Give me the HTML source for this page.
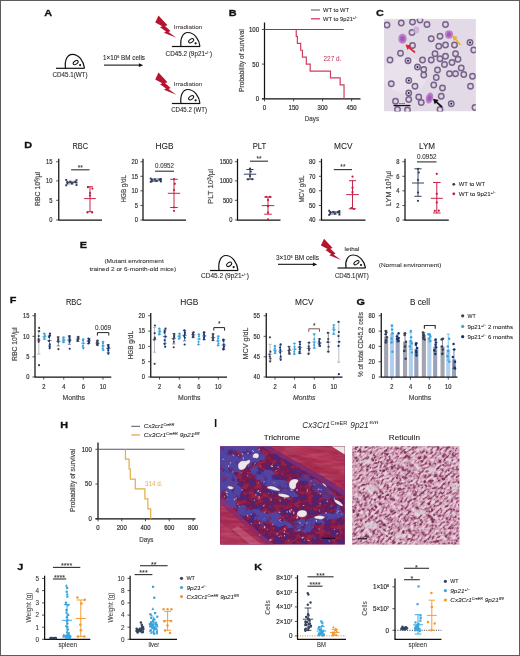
<!DOCTYPE html>
<html><head><meta charset="utf-8"><title>Figure</title>
<style>
html,body{margin:0;padding:0;background:#fff;}
body{width:520px;height:656px;overflow:hidden;position:relative;font-family:"Liberation Sans", sans-serif;}
svg{display:block;position:absolute;left:0;top:0;}
svg text{font-family:"Liberation Sans", sans-serif;}
</style></head><body>
<svg width="520" height="656" viewBox="0 0 520 656">
<rect x="0" y="0" width="520" height="656" fill="#fff"/>
<text transform="translate(44.30 15.80) scale(1.1 1)" font-size="9.9" text-anchor="start" fill="#111" font-weight="bold" font-style="normal"  stroke="#111" stroke-width="0.3">A</text>
<line x1="56.00" y1="68.30" x2="84.50" y2="68.30" stroke="#111" stroke-width="1.2" />
<path d="M65.50 68.30 C64.36 60.18 67.40 54.30 72.34 54.30 C78.80 54.30 83.74 61.30 84.50 68.30" fill="none" stroke="#111" stroke-width="1.2" />
<ellipse cx="75.67" cy="62.56" rx="2.85" ry="1.61" fill="none" stroke="#111" stroke-width="1.0" transform="rotate(-35 75.67 62.56)"/>
<circle cx="80.13" cy="65.08" r="1.1" fill="#111" />
<text transform="translate(52.50 77.00)" font-size="6.5" text-anchor="start" fill="#262626" font-weight="normal" font-style="normal"  stroke="#262626" stroke-width="0.08" textLength="35.00" lengthAdjust="spacingAndGlyphs">CD45.1(WT)</text>
<text transform="translate(103.00 60.30)" font-size="6.6" text-anchor="start" fill="#262626" font-weight="normal" font-style="normal"  stroke="#262626" stroke-width="0.08" textLength="42.00" lengthAdjust="spacingAndGlyphs">1×10<tspan dy="-2.4" font-size="4">6</tspan><tspan dy="2.4">&#8203;</tspan> BM cells</text>
<line x1="104.00" y1="65.20" x2="140.20" y2="65.20" stroke="#333" stroke-width="1.2" />
<path d="M143.20 65.20 L138.90 63.30 L138.90 67.10Z" fill="#111" stroke="none" stroke-width="1" />
<path d="M158.50 15.60 L167.50 25.25 L165.00 26.00 L170.60 31.00 L168.50 31.90 L176.25 37.75 L164.00 32.75 L166.00 31.50 L160.00 27.25 L162.25 26.25 L155.25 22.50Z" fill="#b5152f" stroke="none" stroke-width="1" />
<text transform="translate(173.80 28.80)" font-size="5.8" text-anchor="start" fill="#4a4040" font-weight="normal" font-style="normal"  stroke="#4a4040" stroke-width="0.08" textLength="28.50" lengthAdjust="spacingAndGlyphs">Irradiation</text>
<line x1="171.90" y1="46.50" x2="200.00" y2="46.50" stroke="#111" stroke-width="1.2" />
<path d="M181.00 46.50 C179.86 38.38 182.90 32.50 187.84 32.50 C194.30 32.50 199.24 39.50 200.00 46.50" fill="none" stroke="#111" stroke-width="1.2" />
<ellipse cx="191.16" cy="40.76" rx="2.85" ry="1.61" fill="none" stroke="#111" stroke-width="1.0" transform="rotate(-35 191.16 40.76)"/>
<circle cx="195.63" cy="43.28" r="1.1" fill="#111" />
<text transform="translate(165.60 55.60)" font-size="6.5" text-anchor="start" fill="#262626" font-weight="normal" font-style="normal"  stroke="#262626" stroke-width="0.08" textLength="46.50" lengthAdjust="spacingAndGlyphs">CD45.2 (9p21<tspan dy="-2" font-size="3.6">+/−</tspan><tspan dy="2">&#8203;</tspan>)</text>
<path d="M158.50 72.60 L167.50 82.25 L165.00 83.00 L170.60 88.00 L168.50 88.90 L176.25 94.75 L164.00 89.75 L166.00 88.50 L160.00 84.25 L162.25 83.25 L155.25 79.50Z" fill="#b5152f" stroke="none" stroke-width="1" />
<text transform="translate(173.80 85.80)" font-size="5.8" text-anchor="start" fill="#4a4040" font-weight="normal" font-style="normal"  stroke="#4a4040" stroke-width="0.08" textLength="28.50" lengthAdjust="spacingAndGlyphs">Irradiation</text>
<line x1="171.90" y1="103.50" x2="200.00" y2="103.50" stroke="#111" stroke-width="1.2" />
<path d="M181.00 103.50 C179.86 95.38 182.90 89.50 187.84 89.50 C194.30 89.50 199.24 96.50 200.00 103.50" fill="none" stroke="#111" stroke-width="1.2" />
<ellipse cx="191.16" cy="97.76" rx="2.85" ry="1.61" fill="none" stroke="#111" stroke-width="1.0" transform="rotate(-35 191.16 97.76)"/>
<circle cx="195.63" cy="100.28" r="1.1" fill="#111" />
<text transform="translate(171.20 112.00)" font-size="6.5" text-anchor="start" fill="#262626" font-weight="normal" font-style="normal"  stroke="#262626" stroke-width="0.08" textLength="35.70" lengthAdjust="spacingAndGlyphs">CD45.2 (WT)</text>
<text transform="translate(228.80 16.00) scale(1.1 1)" font-size="9.9" text-anchor="start" fill="#111" font-weight="bold" font-style="normal"  stroke="#111" stroke-width="0.3">B</text>
<line x1="264.50" y1="22.50" x2="264.50" y2="98.75" stroke="#111" stroke-width="1.25" />
<line x1="262.00" y1="98.75" x2="360.50" y2="98.75" stroke="#111" stroke-width="1.25" />
<line x1="261.90" y1="29.50" x2="264.50" y2="29.50" stroke="#2a2a2a" stroke-width="0.8" />
<text transform="translate(259.00 31.90) scale(0.86 1)" font-size="7" text-anchor="end" fill="#2a2a2a" font-weight="normal" font-style="normal"  stroke="#2a2a2a" stroke-width="0.2">100</text>
<line x1="261.90" y1="64.10" x2="264.50" y2="64.10" stroke="#2a2a2a" stroke-width="0.8" />
<text transform="translate(259.00 66.50) scale(0.86 1)" font-size="7" text-anchor="end" fill="#2a2a2a" font-weight="normal" font-style="normal"  stroke="#2a2a2a" stroke-width="0.2">50</text>
<line x1="261.90" y1="98.75" x2="264.50" y2="98.75" stroke="#2a2a2a" stroke-width="0.8" />
<text transform="translate(259.00 101.15) scale(0.86 1)" font-size="7" text-anchor="end" fill="#2a2a2a" font-weight="normal" font-style="normal"  stroke="#2a2a2a" stroke-width="0.2">0</text>
<line x1="264.50" y1="98.75" x2="264.50" y2="101.35" stroke="#2a2a2a" stroke-width="0.8" />
<text transform="translate(264.50 110.40) scale(0.86 1)" font-size="7" text-anchor="middle" fill="#2a2a2a" font-weight="normal" font-style="normal"  stroke="#2a2a2a" stroke-width="0.2">0</text>
<line x1="293.60" y1="98.75" x2="293.60" y2="101.35" stroke="#2a2a2a" stroke-width="0.8" />
<text transform="translate(293.60 110.40) scale(0.86 1)" font-size="7" text-anchor="middle" fill="#2a2a2a" font-weight="normal" font-style="normal"  stroke="#2a2a2a" stroke-width="0.2">150</text>
<line x1="322.60" y1="98.75" x2="322.60" y2="101.35" stroke="#2a2a2a" stroke-width="0.8" />
<text transform="translate(322.60 110.40) scale(0.86 1)" font-size="7" text-anchor="middle" fill="#2a2a2a" font-weight="normal" font-style="normal"  stroke="#2a2a2a" stroke-width="0.2">300</text>
<line x1="351.60" y1="98.75" x2="351.60" y2="101.35" stroke="#2a2a2a" stroke-width="0.8" />
<text transform="translate(351.60 110.40) scale(0.86 1)" font-size="7" text-anchor="middle" fill="#2a2a2a" font-weight="normal" font-style="normal"  stroke="#2a2a2a" stroke-width="0.2">450</text>
<text transform="translate(243.60 92.00) rotate(-90) scale(0.72 1)" font-size="8" text-anchor="start" fill="#4a4a4a" font-weight="normal" font-style="normal"  stroke="#4a4a4a" stroke-width="0.2" textLength="87.50" lengthAdjust="spacingAndGlyphs">Probability of survival</text>
<text transform="translate(304.80 120.60) scale(0.72 1)" font-size="8" text-anchor="start" fill="#4a4a4a" font-weight="normal" font-style="normal"  stroke="#4a4a4a" stroke-width="0.2" textLength="19.86" lengthAdjust="spacingAndGlyphs">Days</text>
<line x1="264.50" y1="29.50" x2="343.70" y2="29.50" stroke="#50556a" stroke-width="1.0" />
<path d="M296.23 29.50 H296.23 V36.42 H297.39 V43.35 H300.68 V50.27 H302.43 V57.20 H306.30 V64.12 H310.17 V71.05 H330.48 V77.97 H340.16 V84.90 H344.03 V98.75" fill="none" stroke="#d23c5e" stroke-width="1.2" stroke-linejoin="miter"/>
<text transform="translate(323.60 61.40)" font-size="6.8" text-anchor="start" fill="#c8405f" font-weight="normal" font-style="normal"  stroke="#c8405f" stroke-width="0.08" textLength="17.60" lengthAdjust="spacingAndGlyphs">227 d.</text>
<line x1="311.00" y1="10.00" x2="320.00" y2="10.00" stroke="#50556a" stroke-width="1.0" />
<text transform="translate(323.00 12.20)" font-size="5.8" text-anchor="start" fill="#262626" font-weight="normal" font-style="normal"  stroke="#262626" stroke-width="0.08">WT to WT</text>
<line x1="311.00" y1="18.80" x2="320.00" y2="18.80" stroke="#d23c5e" stroke-width="1.3" />
<text transform="translate(323.00 21.00)" font-size="5.8" text-anchor="start" fill="#262626" font-weight="normal" font-style="normal"  stroke="#262626" stroke-width="0.08">WT to 9p21<tspan dy="-1.8" font-size="3.4">+/−</tspan><tspan dy="1.8">&#8203;</tspan></text>
<text transform="translate(376.00 16.00) scale(1.1 1)" font-size="9.9" text-anchor="start" fill="#111" font-weight="bold" font-style="normal"  stroke="#111" stroke-width="0.3">C</text>
<clipPath id="cC"><rect x="383.9" y="18.8" width="92.0" height="92.7"/></clipPath>
<g clip-path="url(#cC)">
<rect x="383.90" y="18.80" width="92.00" height="92.70" fill="#e3dae7" />
<ellipse cx="405" cy="75" rx="22" ry="18" fill="#ece6f0" opacity="0.6"/>
<circle cx="401.25" cy="23.00" r="2.75" fill="#d9c7dc" stroke="#75648a" stroke-width="1.4"/>
<circle cx="401.25" cy="23.00" r="1.24" fill="#e4d5e5"/>
<circle cx="412.50" cy="22.00" r="2.75" fill="#d9c7dc" stroke="#75648a" stroke-width="1.4"/>
<circle cx="412.50" cy="22.00" r="1.24" fill="#e4d5e5"/>
<circle cx="427.00" cy="24.50" r="2.75" fill="#d9c7dc" stroke="#75648a" stroke-width="1.4"/>
<circle cx="427.00" cy="24.50" r="1.24" fill="#e4d5e5"/>
<circle cx="445.50" cy="24.50" r="2.75" fill="#d9c7dc" stroke="#75648a" stroke-width="1.4"/>
<circle cx="445.50" cy="24.50" r="1.24" fill="#e4d5e5"/>
<circle cx="412.00" cy="32.50" r="2.75" fill="#d9c7dc" stroke="#75648a" stroke-width="1.4"/>
<circle cx="412.00" cy="32.50" r="1.24" fill="#e4d5e5"/>
<circle cx="431.25" cy="38.75" r="2.75" fill="#d9c7dc" stroke="#75648a" stroke-width="1.4"/>
<circle cx="431.25" cy="38.75" r="1.24" fill="#e4d5e5"/>
<circle cx="440.00" cy="36.25" r="2.75" fill="#d9c7dc" stroke="#75648a" stroke-width="1.4"/>
<circle cx="440.00" cy="36.25" r="1.24" fill="#e4d5e5"/>
<circle cx="470.00" cy="42.50" r="2.75" fill="#d9c7dc" stroke="#75648a" stroke-width="1.4"/>
<circle cx="470.00" cy="42.50" r="1.24" fill="#e4d5e5"/>
<circle cx="470.00" cy="42.50" r="0.95" fill="#21143a" />
<circle cx="454.50" cy="45.00" r="2.75" fill="#d9c7dc" stroke="#75648a" stroke-width="1.4"/>
<circle cx="454.50" cy="45.00" r="1.24" fill="#e4d5e5"/>
<circle cx="445.50" cy="45.00" r="2.75" fill="#d9c7dc" stroke="#75648a" stroke-width="1.4"/>
<circle cx="445.50" cy="45.00" r="1.24" fill="#e4d5e5"/>
<circle cx="438.75" cy="46.25" r="2.75" fill="#d9c7dc" stroke="#75648a" stroke-width="1.4"/>
<circle cx="438.75" cy="46.25" r="1.24" fill="#e4d5e5"/>
<circle cx="412.50" cy="45.50" r="2.75" fill="#d9c7dc" stroke="#75648a" stroke-width="1.4"/>
<circle cx="412.50" cy="45.50" r="1.24" fill="#e4d5e5"/>
<circle cx="400.50" cy="53.25" r="2.75" fill="#d9c7dc" stroke="#75648a" stroke-width="1.4"/>
<circle cx="400.50" cy="53.25" r="1.24" fill="#e4d5e5"/>
<circle cx="408.00" cy="60.75" r="2.75" fill="#d9c7dc" stroke="#75648a" stroke-width="1.4"/>
<circle cx="408.00" cy="60.75" r="1.24" fill="#e4d5e5"/>
<circle cx="408.00" cy="60.75" r="0.95" fill="#21143a" />
<circle cx="422.50" cy="60.00" r="2.75" fill="#d9c7dc" stroke="#75648a" stroke-width="1.4"/>
<circle cx="422.50" cy="60.00" r="1.24" fill="#e4d5e5"/>
<circle cx="431.25" cy="60.00" r="2.75" fill="#d9c7dc" stroke="#75648a" stroke-width="1.4"/>
<circle cx="431.25" cy="60.00" r="1.24" fill="#e4d5e5"/>
<circle cx="435.00" cy="53.75" r="2.75" fill="#d9c7dc" stroke="#75648a" stroke-width="1.4"/>
<circle cx="435.00" cy="53.75" r="1.24" fill="#e4d5e5"/>
<circle cx="440.00" cy="58.75" r="2.75" fill="#d9c7dc" stroke="#75648a" stroke-width="1.4"/>
<circle cx="440.00" cy="58.75" r="1.24" fill="#e4d5e5"/>
<circle cx="445.50" cy="56.25" r="2.75" fill="#d9c7dc" stroke="#75648a" stroke-width="1.4"/>
<circle cx="445.50" cy="56.25" r="1.24" fill="#e4d5e5"/>
<circle cx="455.50" cy="53.75" r="2.75" fill="#d9c7dc" stroke="#75648a" stroke-width="1.4"/>
<circle cx="455.50" cy="53.75" r="1.24" fill="#e4d5e5"/>
<circle cx="458.00" cy="59.25" r="2.75" fill="#d9c7dc" stroke="#75648a" stroke-width="1.4"/>
<circle cx="458.00" cy="59.25" r="1.24" fill="#e4d5e5"/>
<circle cx="452.00" cy="62.50" r="2.75" fill="#d9c7dc" stroke="#75648a" stroke-width="1.4"/>
<circle cx="452.00" cy="62.50" r="1.24" fill="#e4d5e5"/>
<circle cx="444.50" cy="64.50" r="2.75" fill="#d9c7dc" stroke="#75648a" stroke-width="1.4"/>
<circle cx="444.50" cy="64.50" r="1.24" fill="#e4d5e5"/>
<circle cx="417.50" cy="67.00" r="2.75" fill="#d9c7dc" stroke="#75648a" stroke-width="1.4"/>
<circle cx="417.50" cy="67.00" r="1.24" fill="#e4d5e5"/>
<circle cx="417.50" cy="67.00" r="0.95" fill="#21143a" />
<circle cx="423.75" cy="69.50" r="2.75" fill="#d9c7dc" stroke="#75648a" stroke-width="1.4"/>
<circle cx="423.75" cy="69.50" r="1.24" fill="#e4d5e5"/>
<circle cx="437.50" cy="70.00" r="2.75" fill="#d9c7dc" stroke="#75648a" stroke-width="1.4"/>
<circle cx="437.50" cy="70.00" r="1.24" fill="#e4d5e5"/>
<circle cx="461.25" cy="68.00" r="2.75" fill="#d9c7dc" stroke="#75648a" stroke-width="1.4"/>
<circle cx="461.25" cy="68.00" r="1.24" fill="#e4d5e5"/>
<circle cx="423.75" cy="75.00" r="2.75" fill="#d9c7dc" stroke="#75648a" stroke-width="1.4"/>
<circle cx="423.75" cy="75.00" r="1.24" fill="#e4d5e5"/>
<circle cx="436.25" cy="77.50" r="2.75" fill="#d9c7dc" stroke="#75648a" stroke-width="1.4"/>
<circle cx="436.25" cy="77.50" r="1.24" fill="#e4d5e5"/>
<circle cx="449.50" cy="73.75" r="2.75" fill="#d9c7dc" stroke="#75648a" stroke-width="1.4"/>
<circle cx="449.50" cy="73.75" r="1.24" fill="#e4d5e5"/>
<circle cx="455.50" cy="73.75" r="2.75" fill="#d9c7dc" stroke="#75648a" stroke-width="1.4"/>
<circle cx="455.50" cy="73.75" r="1.24" fill="#e4d5e5"/>
<circle cx="463.75" cy="74.50" r="2.75" fill="#d9c7dc" stroke="#75648a" stroke-width="1.4"/>
<circle cx="463.75" cy="74.50" r="1.24" fill="#e4d5e5"/>
<circle cx="472.50" cy="76.25" r="2.75" fill="#d9c7dc" stroke="#75648a" stroke-width="1.4"/>
<circle cx="472.50" cy="76.25" r="1.24" fill="#e4d5e5"/>
<circle cx="408.75" cy="80.50" r="2.75" fill="#d9c7dc" stroke="#75648a" stroke-width="1.4"/>
<circle cx="408.75" cy="80.50" r="1.24" fill="#e4d5e5"/>
<circle cx="408.75" cy="80.50" r="0.95" fill="#21143a" />
<circle cx="415.00" cy="86.25" r="2.75" fill="#d9c7dc" stroke="#75648a" stroke-width="1.4"/>
<circle cx="415.00" cy="86.25" r="1.24" fill="#e4d5e5"/>
<circle cx="433.75" cy="85.00" r="2.75" fill="#d9c7dc" stroke="#75648a" stroke-width="1.4"/>
<circle cx="433.75" cy="85.00" r="1.24" fill="#e4d5e5"/>
<circle cx="442.50" cy="88.00" r="2.75" fill="#d9c7dc" stroke="#75648a" stroke-width="1.4"/>
<circle cx="442.50" cy="88.00" r="1.24" fill="#e4d5e5"/>
<circle cx="470.50" cy="86.25" r="2.75" fill="#d9c7dc" stroke="#75648a" stroke-width="1.4"/>
<circle cx="470.50" cy="86.25" r="1.24" fill="#e4d5e5"/>
<circle cx="408.75" cy="93.00" r="2.75" fill="#d9c7dc" stroke="#75648a" stroke-width="1.4"/>
<circle cx="408.75" cy="93.00" r="1.24" fill="#e4d5e5"/>
<circle cx="408.75" cy="93.00" r="0.95" fill="#21143a" />
<circle cx="418.75" cy="97.00" r="2.75" fill="#d9c7dc" stroke="#75648a" stroke-width="1.4"/>
<circle cx="418.75" cy="97.00" r="1.24" fill="#e4d5e5"/>
<circle cx="408.75" cy="99.50" r="2.75" fill="#d9c7dc" stroke="#75648a" stroke-width="1.4"/>
<circle cx="408.75" cy="99.50" r="1.24" fill="#e4d5e5"/>
<circle cx="395.50" cy="101.25" r="2.75" fill="#d9c7dc" stroke="#75648a" stroke-width="1.4"/>
<circle cx="395.50" cy="101.25" r="1.24" fill="#e4d5e5"/>
<circle cx="421.25" cy="102.50" r="2.75" fill="#d9c7dc" stroke="#75648a" stroke-width="1.4"/>
<circle cx="421.25" cy="102.50" r="1.24" fill="#e4d5e5"/>
<circle cx="441.25" cy="96.25" r="2.75" fill="#d9c7dc" stroke="#75648a" stroke-width="1.4"/>
<circle cx="441.25" cy="96.25" r="1.24" fill="#e4d5e5"/>
<circle cx="451.25" cy="103.75" r="2.75" fill="#d9c7dc" stroke="#75648a" stroke-width="1.4"/>
<circle cx="451.25" cy="103.75" r="1.24" fill="#e4d5e5"/>
<circle cx="451.25" cy="103.75" r="0.95" fill="#21143a" />
<circle cx="473.75" cy="50.00" r="2.75" fill="#d9c7dc" stroke="#75648a" stroke-width="1.4"/>
<circle cx="473.75" cy="50.00" r="1.24" fill="#e4d5e5"/>
<circle cx="391.25" cy="83.75" r="2.75" fill="#d9c7dc" stroke="#75648a" stroke-width="1.4"/>
<circle cx="391.25" cy="83.75" r="1.24" fill="#e4d5e5"/>
<circle cx="475.00" cy="107.50" r="2.75" fill="#d9c7dc" stroke="#75648a" stroke-width="1.4"/>
<circle cx="475.00" cy="107.50" r="1.24" fill="#e4d5e5"/>
<circle cx="390.00" cy="60.00" r="2.75" fill="#d9c7dc" stroke="#75648a" stroke-width="1.4"/>
<circle cx="390.00" cy="60.00" r="1.24" fill="#e4d5e5"/>
<circle cx="387.00" cy="25.00" r="2.75" fill="#d9c7dc" stroke="#75648a" stroke-width="1.4"/>
<circle cx="387.00" cy="25.00" r="1.24" fill="#e4d5e5"/>
<circle cx="397.50" cy="109.50" r="2.75" fill="#d9c7dc" stroke="#75648a" stroke-width="1.4"/>
<circle cx="397.50" cy="109.50" r="1.24" fill="#e4d5e5"/>
<circle cx="407.50" cy="110.00" r="2.75" fill="#d9c7dc" stroke="#75648a" stroke-width="1.4"/>
<circle cx="407.50" cy="110.00" r="1.24" fill="#e4d5e5"/>
<circle cx="440.00" cy="109.50" r="2.75" fill="#d9c7dc" stroke="#75648a" stroke-width="1.4"/>
<circle cx="440.00" cy="109.50" r="1.24" fill="#e4d5e5"/>
<circle cx="420.00" cy="20.00" r="2.75" fill="#d9c7dc" stroke="#75648a" stroke-width="1.4"/>
<circle cx="420.00" cy="20.00" r="1.24" fill="#e4d5e5"/>
<ellipse cx="402.50" cy="38.75" rx="4.2" ry="5" fill="#b87cc6" opacity="0.95" transform="rotate(0 402.50 38.75)"/>
<ellipse cx="402.50" cy="38.75" rx="2.31" ry="2.75" fill="#a054b6" opacity="0.9" transform="rotate(0 402.50 38.75)"/>
<ellipse cx="449.00" cy="34.50" rx="4" ry="4.2" fill="#b87cc6" opacity="0.95" transform="rotate(0 449.00 34.50)"/>
<ellipse cx="449.00" cy="34.50" rx="2.20" ry="2.31" fill="#a054b6" opacity="0.9" transform="rotate(0 449.00 34.50)"/>
<ellipse cx="429.50" cy="98.00" rx="3.6" ry="5.6" fill="#b87cc6" opacity="0.95" transform="rotate(15 429.50 98.00)"/>
<ellipse cx="429.50" cy="98.00" rx="1.98" ry="3.08" fill="#a054b6" opacity="0.9" transform="rotate(15 429.50 98.00)"/>
<ellipse cx="416.25" cy="30.0" rx="3" ry="3.4" fill="#c9a6da" opacity="0.8"/>
<line x1="408.94" y1="47.40" x2="415.00" y2="52.50" stroke="#e8222a" stroke-width="1.7" />
<path d="M405.50 44.50 L407.46 49.94 L411.19 45.50Z" fill="#e8222a" stroke="none" stroke-width="1" />
<line x1="455.35" y1="38.73" x2="460.50" y2="45.00" stroke="#f6ad2b" stroke-width="1.7" />
<path d="M452.50 35.25 L453.43 40.95 L457.91 37.28Z" fill="#f6ad2b" stroke="none" stroke-width="1" />
<line x1="436.32" y1="101.79" x2="442.00" y2="107.00" stroke="#111" stroke-width="1.7" />
<path d="M433.00 98.75 L434.73 104.27 L438.65 99.99Z" fill="#111" stroke="none" stroke-width="1" />
<rect x="393.50" y="104.90" width="17.00" height="1.30" fill="#111" />
<text transform="translate(402.00 103.50)" font-size="2.2" text-anchor="middle" fill="#333" font-weight="normal" font-style="normal"  stroke="#333" stroke-width="0.08">10 µm</text>
</g>
<text transform="translate(24.30 148.20) scale(1.1 1)" font-size="9.9" text-anchor="start" fill="#111" font-weight="bold" font-style="normal"  stroke="#111" stroke-width="0.3">D</text>
<line x1="58.75" y1="158.75" x2="58.75" y2="220.00" stroke="#111" stroke-width="1.25" />
<line x1="58.25" y1="220.00" x2="102.00" y2="220.00" stroke="#111" stroke-width="1.25" />
<line x1="56.15" y1="161.75" x2="58.75" y2="161.75" stroke="#2a2a2a" stroke-width="0.8" />
<text transform="translate(52.50 164.05) scale(0.86 1)" font-size="6.7" text-anchor="end" fill="#333" font-weight="normal" font-style="normal"  stroke="#333" stroke-width="0.2">15</text>
<line x1="56.15" y1="180.90" x2="58.75" y2="180.90" stroke="#2a2a2a" stroke-width="0.8" />
<text transform="translate(52.50 183.20) scale(0.86 1)" font-size="6.7" text-anchor="end" fill="#333" font-weight="normal" font-style="normal"  stroke="#333" stroke-width="0.2">10</text>
<line x1="56.15" y1="200.30" x2="58.75" y2="200.30" stroke="#2a2a2a" stroke-width="0.8" />
<text transform="translate(52.50 202.60) scale(0.86 1)" font-size="6.7" text-anchor="end" fill="#333" font-weight="normal" font-style="normal"  stroke="#333" stroke-width="0.2">5</text>
<line x1="56.15" y1="220.00" x2="58.75" y2="220.00" stroke="#2a2a2a" stroke-width="0.8" />
<text transform="translate(52.50 222.30) scale(0.86 1)" font-size="6.7" text-anchor="end" fill="#333" font-weight="normal" font-style="normal"  stroke="#333" stroke-width="0.2">0</text>
<text transform="translate(80.20 148.70)" font-size="8.8" text-anchor="middle" fill="#262626" font-weight="normal" font-style="normal"  stroke="#262626" stroke-width="0.08" textLength="15.50" lengthAdjust="spacingAndGlyphs">RBC</text>
<text transform="translate(40.00 206.00) rotate(-90) scale(0.74 1)" font-size="7.4" text-anchor="start" fill="#4a4a4a" font-weight="normal" font-style="normal"  stroke="#4a4a4a" stroke-width="0.2" textLength="45.95" lengthAdjust="spacingAndGlyphs">RBC 10<tspan dy="-2" font-size="4.5">6</tspan><tspan dy="2">&#8203;</tspan>/µl</text>
<line x1="71.10" y1="169.80" x2="89.50" y2="169.80" stroke="#3a3a3a" stroke-width="1.15" />
<text transform="translate(80.30 170.20)" font-size="6.5" text-anchor="middle" fill="#333" font-weight="normal" font-style="normal"  stroke="#333" stroke-width="0.08">**</text>
<line x1="66.20" y1="182.60" x2="76.50" y2="182.60" stroke="#2e3a56" stroke-width="0.9" />
<line x1="66.20" y1="179.60" x2="66.20" y2="185.60" stroke="#2e3a56" stroke-width="0.0" />
<rect x="65.25" y="178.95" width="1.90" height="1.90" fill="#2e3a56" />
<rect x="65.25" y="184.35" width="1.90" height="1.90" fill="#2e3a56" />
<rect x="66.45" y="180.85" width="1.90" height="1.90" fill="#2e3a56" />
<rect x="66.45" y="182.65" width="1.90" height="1.90" fill="#2e3a56" />
<rect x="69.40" y="180.75" width="1.90" height="1.90" fill="#2e3a56" />
<rect x="71.00" y="182.55" width="1.90" height="1.90" fill="#2e3a56" />
<rect x="74.15" y="180.75" width="1.90" height="1.90" fill="#2e3a56" />
<rect x="75.55" y="179.25" width="1.90" height="1.90" fill="#2e3a56" />
<rect x="75.55" y="184.05" width="1.90" height="1.90" fill="#2e3a56" />
<rect x="75.55" y="181.65" width="1.90" height="1.90" fill="#2e3a56" />
<line x1="68.75" y1="181.30" x2="73.95" y2="181.30" stroke="#2e3a56" stroke-width="0.6" />
<line x1="68.75" y1="183.90" x2="73.95" y2="183.90" stroke="#2e3a56" stroke-width="0.6" />
<line x1="90.00" y1="186.70" x2="90.00" y2="211.70" stroke="#c5193f" stroke-width="0.95" />
<line x1="84.20" y1="198.60" x2="95.80" y2="198.60" stroke="#c5193f" stroke-width="0.95" />
<line x1="87.10" y1="186.70" x2="92.90" y2="186.70" stroke="#c5193f" stroke-width="0.95" />
<line x1="87.10" y1="211.70" x2="92.90" y2="211.70" stroke="#c5193f" stroke-width="0.95" />
<circle cx="87.90" cy="187.20" r="1.12" fill="#c5193f" />
<circle cx="92.40" cy="188.60" r="1.12" fill="#c5193f" />
<circle cx="90.00" cy="193.00" r="1.12" fill="#c5193f" />
<circle cx="90.00" cy="195.70" r="1.12" fill="#c5193f" />
<circle cx="87.40" cy="212.40" r="1.12" fill="#c5193f" />
<circle cx="92.10" cy="212.40" r="1.12" fill="#c5193f" />
<line x1="143.00" y1="158.75" x2="143.00" y2="220.00" stroke="#111" stroke-width="1.25" />
<line x1="142.50" y1="220.00" x2="186.00" y2="220.00" stroke="#111" stroke-width="1.25" />
<line x1="140.40" y1="161.75" x2="143.00" y2="161.75" stroke="#2a2a2a" stroke-width="0.8" />
<text transform="translate(138.00 164.05) scale(0.86 1)" font-size="6.7" text-anchor="end" fill="#333" font-weight="normal" font-style="normal"  stroke="#333" stroke-width="0.2">20</text>
<line x1="140.40" y1="176.30" x2="143.00" y2="176.30" stroke="#2a2a2a" stroke-width="0.8" />
<text transform="translate(138.00 178.60) scale(0.86 1)" font-size="6.7" text-anchor="end" fill="#333" font-weight="normal" font-style="normal"  stroke="#333" stroke-width="0.2">15</text>
<line x1="140.40" y1="190.80" x2="143.00" y2="190.80" stroke="#2a2a2a" stroke-width="0.8" />
<text transform="translate(138.00 193.10) scale(0.86 1)" font-size="6.7" text-anchor="end" fill="#333" font-weight="normal" font-style="normal"  stroke="#333" stroke-width="0.2">10</text>
<line x1="140.40" y1="205.50" x2="143.00" y2="205.50" stroke="#2a2a2a" stroke-width="0.8" />
<text transform="translate(138.00 207.80) scale(0.86 1)" font-size="6.7" text-anchor="end" fill="#333" font-weight="normal" font-style="normal"  stroke="#333" stroke-width="0.2">5</text>
<line x1="140.40" y1="220.00" x2="143.00" y2="220.00" stroke="#2a2a2a" stroke-width="0.8" />
<text transform="translate(138.00 222.30) scale(0.86 1)" font-size="6.7" text-anchor="end" fill="#333" font-weight="normal" font-style="normal"  stroke="#333" stroke-width="0.2">0</text>
<text transform="translate(164.60 148.70)" font-size="8.8" text-anchor="middle" fill="#262626" font-weight="normal" font-style="normal"  stroke="#262626" stroke-width="0.08" textLength="18.00" lengthAdjust="spacingAndGlyphs">HGB</text>
<text transform="translate(125.50 202.50) rotate(-90) scale(0.74 1)" font-size="7.4" text-anchor="start" fill="#4a4a4a" font-weight="normal" font-style="normal"  stroke="#4a4a4a" stroke-width="0.2" textLength="37.16" lengthAdjust="spacingAndGlyphs">HGB g/dL</text>
<line x1="155.00" y1="171.20" x2="174.00" y2="171.20" stroke="#3a3a3a" stroke-width="1.15" />
<text transform="translate(164.50 168.20)" font-size="6.6" text-anchor="middle" fill="#333" font-weight="normal" font-style="normal"  stroke="#333" stroke-width="0.08" textLength="19.00" lengthAdjust="spacingAndGlyphs">0.0952</text>
<line x1="150.70" y1="180.20" x2="160.80" y2="180.20" stroke="#2e3a56" stroke-width="0.9" />
<line x1="150.70" y1="178.30" x2="150.70" y2="182.10" stroke="#2e3a56" stroke-width="0.0" />
<rect x="149.75" y="177.65" width="1.90" height="1.90" fill="#2e3a56" />
<rect x="149.75" y="180.85" width="1.90" height="1.90" fill="#2e3a56" />
<rect x="150.95" y="178.45" width="1.90" height="1.90" fill="#2e3a56" />
<rect x="150.95" y="180.25" width="1.90" height="1.90" fill="#2e3a56" />
<rect x="153.80" y="178.35" width="1.90" height="1.90" fill="#2e3a56" />
<rect x="155.40" y="180.15" width="1.90" height="1.90" fill="#2e3a56" />
<rect x="158.45" y="178.35" width="1.90" height="1.90" fill="#2e3a56" />
<rect x="159.85" y="177.95" width="1.90" height="1.90" fill="#2e3a56" />
<rect x="159.85" y="180.55" width="1.90" height="1.90" fill="#2e3a56" />
<rect x="159.85" y="179.25" width="1.90" height="1.90" fill="#2e3a56" />
<line x1="153.15" y1="178.90" x2="158.35" y2="178.90" stroke="#2e3a56" stroke-width="0.6" />
<line x1="153.15" y1="181.50" x2="158.35" y2="181.50" stroke="#2e3a56" stroke-width="0.6" />
<line x1="174.00" y1="179.30" x2="174.00" y2="207.50" stroke="#c5193f" stroke-width="0.95" />
<line x1="167.80" y1="193.30" x2="180.20" y2="193.30" stroke="#c5193f" stroke-width="0.95" />
<line x1="170.20" y1="179.30" x2="177.80" y2="179.30" stroke="#c5193f" stroke-width="0.95" />
<line x1="170.20" y1="207.50" x2="177.80" y2="207.50" stroke="#c5193f" stroke-width="0.95" />
<circle cx="174.00" cy="179.20" r="1.12" fill="#c5193f" />
<circle cx="174.80" cy="183.80" r="1.12" fill="#c5193f" />
<circle cx="174.00" cy="190.00" r="1.12" fill="#c5193f" />
<circle cx="174.00" cy="207.50" r="1.12" fill="#c5193f" />
<circle cx="174.00" cy="210.80" r="1.12" fill="#c5193f" />
<line x1="237.50" y1="158.75" x2="237.50" y2="220.00" stroke="#111" stroke-width="1.25" />
<line x1="237.00" y1="220.00" x2="280.50" y2="220.00" stroke="#111" stroke-width="1.25" />
<line x1="234.90" y1="161.75" x2="237.50" y2="161.75" stroke="#2a2a2a" stroke-width="0.8" />
<text transform="translate(232.50 164.05) scale(0.86 1)" font-size="6.7" text-anchor="end" fill="#333" font-weight="normal" font-style="normal"  stroke="#333" stroke-width="0.2">1500</text>
<line x1="234.90" y1="180.90" x2="237.50" y2="180.90" stroke="#2a2a2a" stroke-width="0.8" />
<text transform="translate(232.50 183.20) scale(0.86 1)" font-size="6.7" text-anchor="end" fill="#333" font-weight="normal" font-style="normal"  stroke="#333" stroke-width="0.2">1000</text>
<line x1="234.90" y1="200.30" x2="237.50" y2="200.30" stroke="#2a2a2a" stroke-width="0.8" />
<text transform="translate(232.50 202.60) scale(0.86 1)" font-size="6.7" text-anchor="end" fill="#333" font-weight="normal" font-style="normal"  stroke="#333" stroke-width="0.2">500</text>
<line x1="234.90" y1="220.00" x2="237.50" y2="220.00" stroke="#2a2a2a" stroke-width="0.8" />
<text transform="translate(232.50 222.30) scale(0.86 1)" font-size="6.7" text-anchor="end" fill="#333" font-weight="normal" font-style="normal"  stroke="#333" stroke-width="0.2">0</text>
<text transform="translate(259.50 148.70)" font-size="8.8" text-anchor="middle" fill="#262626" font-weight="normal" font-style="normal"  stroke="#262626" stroke-width="0.08" textLength="13.50" lengthAdjust="spacingAndGlyphs">PLT</text>
<text transform="translate(212.50 204.00) rotate(-90) scale(0.74 1)" font-size="7.4" text-anchor="start" fill="#4a4a4a" font-weight="normal" font-style="normal"  stroke="#4a4a4a" stroke-width="0.2" textLength="47.30" lengthAdjust="spacingAndGlyphs">PLT 10<tspan dy="-2" font-size="4.5">3</tspan><tspan dy="2">&#8203;</tspan>/µl</text>
<line x1="250.00" y1="161.20" x2="268.00" y2="161.20" stroke="#3a3a3a" stroke-width="1.15" />
<text transform="translate(259.00 161.00)" font-size="6.5" text-anchor="middle" fill="#333" font-weight="normal" font-style="normal"  stroke="#333" stroke-width="0.08">**</text>
<line x1="250.00" y1="169.50" x2="250.00" y2="179.20" stroke="#2e3a56" stroke-width="0.95" />
<line x1="243.80" y1="174.20" x2="256.20" y2="174.20" stroke="#2e3a56" stroke-width="0.95" />
<line x1="246.40" y1="169.50" x2="253.60" y2="169.50" stroke="#2e3a56" stroke-width="0.95" />
<line x1="246.40" y1="179.20" x2="253.60" y2="179.20" stroke="#2e3a56" stroke-width="0.95" />
<circle cx="250.00" cy="168.50" r="1.12" fill="#2e3a56" />
<circle cx="250.80" cy="171.50" r="1.12" fill="#2e3a56" />
<circle cx="250.00" cy="176.00" r="1.12" fill="#2e3a56" />
<circle cx="248.00" cy="179.30" r="1.12" fill="#2e3a56" />
<circle cx="252.30" cy="179.20" r="1.12" fill="#2e3a56" />
<line x1="268.00" y1="197.00" x2="268.00" y2="214.20" stroke="#c5193f" stroke-width="0.95" />
<line x1="261.70" y1="205.60" x2="274.30" y2="205.60" stroke="#c5193f" stroke-width="0.95" />
<line x1="264.20" y1="197.00" x2="271.80" y2="197.00" stroke="#c5193f" stroke-width="0.95" />
<line x1="264.20" y1="214.20" x2="271.80" y2="214.20" stroke="#c5193f" stroke-width="0.95" />
<circle cx="266.20" cy="196.80" r="1.12" fill="#c5193f" />
<circle cx="270.00" cy="196.90" r="1.12" fill="#c5193f" />
<circle cx="268.00" cy="200.00" r="1.12" fill="#c5193f" />
<circle cx="268.00" cy="206.20" r="1.12" fill="#c5193f" />
<circle cx="268.00" cy="212.50" r="1.12" fill="#c5193f" />
<circle cx="268.00" cy="219.30" r="1.12" fill="#c5193f" />
<line x1="321.50" y1="158.75" x2="321.50" y2="220.00" stroke="#111" stroke-width="1.25" />
<line x1="321.00" y1="220.00" x2="365.50" y2="220.00" stroke="#111" stroke-width="1.25" />
<line x1="318.90" y1="161.75" x2="321.50" y2="161.75" stroke="#2a2a2a" stroke-width="0.8" />
<text transform="translate(315.50 164.05) scale(0.86 1)" font-size="6.7" text-anchor="end" fill="#333" font-weight="normal" font-style="normal"  stroke="#333" stroke-width="0.2">80</text>
<line x1="318.90" y1="176.30" x2="321.50" y2="176.30" stroke="#2a2a2a" stroke-width="0.8" />
<text transform="translate(315.50 178.60) scale(0.86 1)" font-size="6.7" text-anchor="end" fill="#333" font-weight="normal" font-style="normal"  stroke="#333" stroke-width="0.2">70</text>
<line x1="318.90" y1="190.80" x2="321.50" y2="190.80" stroke="#2a2a2a" stroke-width="0.8" />
<text transform="translate(315.50 193.10) scale(0.86 1)" font-size="6.7" text-anchor="end" fill="#333" font-weight="normal" font-style="normal"  stroke="#333" stroke-width="0.2">60</text>
<line x1="318.90" y1="205.50" x2="321.50" y2="205.50" stroke="#2a2a2a" stroke-width="0.8" />
<text transform="translate(315.50 207.80) scale(0.86 1)" font-size="6.7" text-anchor="end" fill="#333" font-weight="normal" font-style="normal"  stroke="#333" stroke-width="0.2">50</text>
<line x1="318.90" y1="220.00" x2="321.50" y2="220.00" stroke="#2a2a2a" stroke-width="0.8" />
<text transform="translate(315.50 222.30) scale(0.86 1)" font-size="6.7" text-anchor="end" fill="#333" font-weight="normal" font-style="normal"  stroke="#333" stroke-width="0.2">40</text>
<text transform="translate(343.30 148.70)" font-size="8.8" text-anchor="middle" fill="#262626" font-weight="normal" font-style="normal"  stroke="#262626" stroke-width="0.08" textLength="18.50" lengthAdjust="spacingAndGlyphs">MCV</text>
<text transform="translate(303.50 202.50) rotate(-90) scale(0.74 1)" font-size="7.4" text-anchor="start" fill="#4a4a4a" font-weight="normal" font-style="normal"  stroke="#4a4a4a" stroke-width="0.2" textLength="36.49" lengthAdjust="spacingAndGlyphs">MCV g/dL</text>
<line x1="333.75" y1="169.60" x2="352.00" y2="169.60" stroke="#3a3a3a" stroke-width="1.15" />
<text transform="translate(342.88 169.40)" font-size="6.5" text-anchor="middle" fill="#333" font-weight="normal" font-style="normal"  stroke="#333" stroke-width="0.08">**</text>
<line x1="329.20" y1="212.80" x2="339.40" y2="212.80" stroke="#2e3a56" stroke-width="0.9" />
<line x1="329.20" y1="210.40" x2="329.20" y2="215.20" stroke="#2e3a56" stroke-width="0.0" />
<rect x="328.25" y="209.75" width="1.90" height="1.90" fill="#2e3a56" />
<rect x="328.25" y="213.95" width="1.90" height="1.90" fill="#2e3a56" />
<rect x="329.45" y="211.05" width="1.90" height="1.90" fill="#2e3a56" />
<rect x="329.45" y="212.85" width="1.90" height="1.90" fill="#2e3a56" />
<rect x="332.35" y="210.95" width="1.90" height="1.90" fill="#2e3a56" />
<rect x="333.95" y="212.75" width="1.90" height="1.90" fill="#2e3a56" />
<rect x="337.05" y="210.95" width="1.90" height="1.90" fill="#2e3a56" />
<rect x="338.45" y="210.05" width="1.90" height="1.90" fill="#2e3a56" />
<rect x="338.45" y="213.65" width="1.90" height="1.90" fill="#2e3a56" />
<rect x="338.45" y="211.85" width="1.90" height="1.90" fill="#2e3a56" />
<line x1="331.70" y1="211.50" x2="336.90" y2="211.50" stroke="#2e3a56" stroke-width="0.6" />
<line x1="331.70" y1="214.10" x2="336.90" y2="214.10" stroke="#2e3a56" stroke-width="0.6" />
<line x1="352.50" y1="180.70" x2="352.50" y2="208.80" stroke="#c5193f" stroke-width="0.95" />
<line x1="346.20" y1="194.60" x2="358.80" y2="194.60" stroke="#c5193f" stroke-width="0.95" />
<line x1="348.90" y1="180.70" x2="356.10" y2="180.70" stroke="#c5193f" stroke-width="0.95" />
<line x1="348.90" y1="208.80" x2="356.10" y2="208.80" stroke="#c5193f" stroke-width="0.95" />
<circle cx="352.50" cy="176.60" r="1.12" fill="#c5193f" />
<circle cx="352.50" cy="187.70" r="1.12" fill="#c5193f" />
<circle cx="352.50" cy="192.20" r="1.12" fill="#c5193f" />
<circle cx="351.30" cy="208.00" r="1.12" fill="#c5193f" />
<circle cx="353.80" cy="209.00" r="1.12" fill="#c5193f" />
<line x1="405.00" y1="158.75" x2="405.00" y2="220.00" stroke="#111" stroke-width="1.25" />
<line x1="404.50" y1="220.00" x2="448.80" y2="220.00" stroke="#111" stroke-width="1.25" />
<line x1="402.40" y1="161.75" x2="405.00" y2="161.75" stroke="#2a2a2a" stroke-width="0.8" />
<text transform="translate(399.50 164.05) scale(0.86 1)" font-size="6.7" text-anchor="end" fill="#333" font-weight="normal" font-style="normal"  stroke="#333" stroke-width="0.2">8</text>
<line x1="402.40" y1="176.30" x2="405.00" y2="176.30" stroke="#2a2a2a" stroke-width="0.8" />
<text transform="translate(399.50 178.60) scale(0.86 1)" font-size="6.7" text-anchor="end" fill="#333" font-weight="normal" font-style="normal"  stroke="#333" stroke-width="0.2">6</text>
<line x1="402.40" y1="190.80" x2="405.00" y2="190.80" stroke="#2a2a2a" stroke-width="0.8" />
<text transform="translate(399.50 193.10) scale(0.86 1)" font-size="6.7" text-anchor="end" fill="#333" font-weight="normal" font-style="normal"  stroke="#333" stroke-width="0.2">4</text>
<line x1="402.40" y1="205.50" x2="405.00" y2="205.50" stroke="#2a2a2a" stroke-width="0.8" />
<text transform="translate(399.50 207.80) scale(0.86 1)" font-size="6.7" text-anchor="end" fill="#333" font-weight="normal" font-style="normal"  stroke="#333" stroke-width="0.2">2</text>
<line x1="402.40" y1="220.00" x2="405.00" y2="220.00" stroke="#2a2a2a" stroke-width="0.8" />
<text transform="translate(399.50 222.30) scale(0.86 1)" font-size="6.7" text-anchor="end" fill="#333" font-weight="normal" font-style="normal"  stroke="#333" stroke-width="0.2">0</text>
<text transform="translate(427.00 148.70)" font-size="8.8" text-anchor="middle" fill="#262626" font-weight="normal" font-style="normal"  stroke="#262626" stroke-width="0.08" textLength="16.00" lengthAdjust="spacingAndGlyphs">LYM</text>
<text transform="translate(390.50 206.00) rotate(-90) scale(0.74 1)" font-size="7.4" text-anchor="start" fill="#4a4a4a" font-weight="normal" font-style="normal"  stroke="#4a4a4a" stroke-width="0.2" textLength="47.30" lengthAdjust="spacingAndGlyphs">LYM 10<tspan dy="-2" font-size="4.5">3</tspan><tspan dy="2">&#8203;</tspan>/µl</text>
<line x1="417.00" y1="161.90" x2="436.50" y2="161.90" stroke="#3a3a3a" stroke-width="1.15" />
<text transform="translate(426.75 159.10)" font-size="6.6" text-anchor="middle" fill="#333" font-weight="normal" font-style="normal"  stroke="#333" stroke-width="0.08" textLength="19.50" lengthAdjust="spacingAndGlyphs">0.0952</text>
<line x1="418.00" y1="168.80" x2="418.00" y2="196.30" stroke="#2e3a56" stroke-width="0.95" />
<line x1="412.00" y1="183.00" x2="424.00" y2="183.00" stroke="#2e3a56" stroke-width="0.95" />
<line x1="414.40" y1="168.80" x2="421.60" y2="168.80" stroke="#2e3a56" stroke-width="0.95" />
<line x1="414.40" y1="196.30" x2="421.60" y2="196.30" stroke="#2e3a56" stroke-width="0.95" />
<circle cx="418.00" cy="168.80" r="1.12" fill="#2e3a56" />
<circle cx="418.80" cy="172.50" r="1.12" fill="#2e3a56" />
<circle cx="418.00" cy="180.00" r="1.12" fill="#2e3a56" />
<circle cx="418.00" cy="192.50" r="1.12" fill="#2e3a56" />
<circle cx="418.00" cy="200.80" r="1.12" fill="#2e3a56" />
<line x1="436.80" y1="182.50" x2="436.80" y2="213.00" stroke="#c5193f" stroke-width="0.95" />
<line x1="430.80" y1="198.30" x2="442.80" y2="198.30" stroke="#c5193f" stroke-width="0.95" />
<line x1="433.00" y1="182.50" x2="440.60" y2="182.50" stroke="#c5193f" stroke-width="0.95" />
<line x1="433.00" y1="213.00" x2="440.60" y2="213.00" stroke="#c5193f" stroke-width="0.95" />
<circle cx="436.80" cy="173.80" r="1.12" fill="#c5193f" />
<circle cx="436.80" cy="193.80" r="1.12" fill="#c5193f" />
<circle cx="436.80" cy="202.50" r="1.12" fill="#c5193f" />
<circle cx="434.80" cy="210.80" r="1.12" fill="#c5193f" />
<circle cx="438.80" cy="210.70" r="1.12" fill="#c5193f" />
<circle cx="453.80" cy="184.30" r="1.4" fill="#2e3a56" />
<text transform="translate(458.80 186.40)" font-size="5.8" text-anchor="start" fill="#262626" font-weight="normal" font-style="normal"  stroke="#262626" stroke-width="0.08" textLength="26.20" lengthAdjust="spacingAndGlyphs">WT to WT</text>
<circle cx="453.80" cy="193.80" r="1.4" fill="#c5193f" />
<text transform="translate(458.80 195.90)" font-size="5.8" text-anchor="start" fill="#262626" font-weight="normal" font-style="normal"  stroke="#262626" stroke-width="0.08" textLength="37.20" lengthAdjust="spacingAndGlyphs">WT to 9p21<tspan dy="-1.8" font-size="3.4">+/−</tspan><tspan dy="1.8">&#8203;</tspan></text>
<text transform="translate(79.80 247.60) scale(1.1 1)" font-size="9.9" text-anchor="start" fill="#111" font-weight="bold" font-style="normal"  stroke="#111" stroke-width="0.3">E</text>
<text transform="translate(134.10 263.00)" font-size="5.7" text-anchor="middle" fill="#333" font-weight="normal" font-style="normal"  stroke="#333" stroke-width="0.08" textLength="59.30" lengthAdjust="spacingAndGlyphs">(Mutant environment</text>
<text transform="translate(132.80 271.00)" font-size="5.7" text-anchor="middle" fill="#333" font-weight="normal" font-style="normal"  stroke="#333" stroke-width="0.08" textLength="86.50" lengthAdjust="spacingAndGlyphs">trained 2 or 6-month-old mice)</text>
<line x1="210.00" y1="270.50" x2="238.00" y2="270.50" stroke="#111" stroke-width="1.2" />
<path d="M219.00 270.50 C217.86 261.80 220.90 255.50 225.84 255.50 C232.30 255.50 237.24 263.00 238.00 270.50" fill="none" stroke="#111" stroke-width="1.2" />
<ellipse cx="229.16" cy="264.35" rx="2.85" ry="1.73" fill="none" stroke="#111" stroke-width="1.0" transform="rotate(-35 229.16 264.35)"/>
<circle cx="233.63" cy="267.05" r="1.1" fill="#111" />
<text transform="translate(201.00 278.00)" font-size="6.5" text-anchor="start" fill="#262626" font-weight="normal" font-style="normal"  stroke="#262626" stroke-width="0.08" textLength="48.00" lengthAdjust="spacingAndGlyphs">CD45.2 (9p21<tspan dy="-2" font-size="3.6">+/−</tspan><tspan dy="2">&#8203;</tspan>)</text>
<text transform="translate(276.00 260.30)" font-size="6.6" text-anchor="start" fill="#262626" font-weight="normal" font-style="normal"  stroke="#262626" stroke-width="0.08" textLength="43.00" lengthAdjust="spacingAndGlyphs">3×10<tspan dy="-2.4" font-size="4">6</tspan><tspan dy="2.4">&#8203;</tspan> BM cells</text>
<line x1="278.00" y1="264.40" x2="314.20" y2="264.40" stroke="#333" stroke-width="1.2" />
<path d="M317.20 264.40 L312.90 262.50 L312.90 266.30Z" fill="#111" stroke="none" stroke-width="1" />
<path d="M324.00 238.80 L332.62 248.04 L330.23 248.75 L335.59 253.54 L333.58 254.40 L341.00 260.00 L329.27 255.21 L331.18 254.02 L325.44 249.95 L327.59 248.99 L320.89 245.40Z" fill="#b5152f" stroke="none" stroke-width="1" />
<text transform="translate(344.50 251.00)" font-size="5.8" text-anchor="start" fill="#333" font-weight="normal" font-style="normal"  stroke="#333" stroke-width="0.08" textLength="15.00" lengthAdjust="spacingAndGlyphs">lethal</text>
<line x1="337.50" y1="268.00" x2="365.50" y2="268.00" stroke="#111" stroke-width="1.2" />
<path d="M346.00 268.00 C344.83 260.46 347.95 255.00 353.02 255.00 C359.65 255.00 364.72 261.50 365.50 268.00" fill="none" stroke="#111" stroke-width="1.2" />
<ellipse cx="356.43" cy="262.67" rx="2.92" ry="1.50" fill="none" stroke="#111" stroke-width="1.0" transform="rotate(-35 356.43 262.67)"/>
<circle cx="361.01" cy="265.01" r="1.1" fill="#111" />
<text transform="translate(335.00 277.90)" font-size="6.5" text-anchor="start" fill="#262626" font-weight="normal" font-style="normal"  stroke="#262626" stroke-width="0.08" textLength="33.80" lengthAdjust="spacingAndGlyphs">CD45.1(WT)</text>
<text transform="translate(378.80 267.00)" font-size="5.7" text-anchor="start" fill="#333" font-weight="normal" font-style="normal"  stroke="#333" stroke-width="0.08" textLength="62.50" lengthAdjust="spacingAndGlyphs">(Normal environment)</text>
<text transform="translate(9.80 303.20) scale(1.1 1)" font-size="9.9" text-anchor="start" fill="#111" font-weight="bold" font-style="normal"  stroke="#111" stroke-width="0.3">F</text>
<line x1="35.00" y1="313.00" x2="35.00" y2="377.00" stroke="#111" stroke-width="1.25" />
<line x1="34.50" y1="377.00" x2="111.30" y2="377.00" stroke="#111" stroke-width="1.25" />
<line x1="32.40" y1="315.75" x2="35.00" y2="315.75" stroke="#2a2a2a" stroke-width="0.8" />
<text transform="translate(29.50 318.05) scale(0.86 1)" font-size="6.7" text-anchor="end" fill="#333" font-weight="normal" font-style="normal"  stroke="#333" stroke-width="0.2">15</text>
<line x1="32.40" y1="336.30" x2="35.00" y2="336.30" stroke="#2a2a2a" stroke-width="0.8" />
<text transform="translate(29.50 338.60) scale(0.86 1)" font-size="6.7" text-anchor="end" fill="#333" font-weight="normal" font-style="normal"  stroke="#333" stroke-width="0.2">10</text>
<line x1="32.40" y1="356.80" x2="35.00" y2="356.80" stroke="#2a2a2a" stroke-width="0.8" />
<text transform="translate(29.50 359.10) scale(0.86 1)" font-size="6.7" text-anchor="end" fill="#333" font-weight="normal" font-style="normal"  stroke="#333" stroke-width="0.2">5</text>
<line x1="32.40" y1="377.00" x2="35.00" y2="377.00" stroke="#2a2a2a" stroke-width="0.8" />
<text transform="translate(29.50 379.30) scale(0.86 1)" font-size="6.7" text-anchor="end" fill="#333" font-weight="normal" font-style="normal"  stroke="#333" stroke-width="0.2">0</text>
<text transform="translate(73.80 304.80)" font-size="8.8" text-anchor="middle" fill="#262626" font-weight="normal" font-style="normal"  stroke="#262626" stroke-width="0.08" textLength="15.80" lengthAdjust="spacingAndGlyphs">RBC</text>
<text transform="translate(17.00 361.00) rotate(-90) scale(0.74 1)" font-size="7.4" text-anchor="start" fill="#4a4a4a" font-weight="normal" font-style="normal"  stroke="#4a4a4a" stroke-width="0.2" textLength="45.27" lengthAdjust="spacingAndGlyphs">RBC 10<tspan dy="-2" font-size="4.5">6</tspan><tspan dy="2">&#8203;</tspan>/µl</text>
<line x1="43.75" y1="377.00" x2="43.75" y2="379.60" stroke="#2a2a2a" stroke-width="0.8" />
<text transform="translate(43.75 388.60) scale(0.86 1)" font-size="6.7" text-anchor="middle" fill="#333" font-weight="normal" font-style="normal"  stroke="#333" stroke-width="0.2">2</text>
<line x1="63.75" y1="377.00" x2="63.75" y2="379.60" stroke="#2a2a2a" stroke-width="0.8" />
<text transform="translate(63.75 388.60) scale(0.86 1)" font-size="6.7" text-anchor="middle" fill="#333" font-weight="normal" font-style="normal"  stroke="#333" stroke-width="0.2">4</text>
<line x1="83.30" y1="377.00" x2="83.30" y2="379.60" stroke="#2a2a2a" stroke-width="0.8" />
<text transform="translate(83.30 388.60) scale(0.86 1)" font-size="6.7" text-anchor="middle" fill="#333" font-weight="normal" font-style="normal"  stroke="#333" stroke-width="0.2">6</text>
<line x1="103.00" y1="377.00" x2="103.00" y2="379.60" stroke="#2a2a2a" stroke-width="0.8" />
<text transform="translate(103.00 388.60) scale(0.86 1)" font-size="6.7" text-anchor="middle" fill="#333" font-weight="normal" font-style="normal"  stroke="#333" stroke-width="0.2">10</text>
<text transform="translate(73.80 400.20) scale(0.72 1)" font-size="8" text-anchor="middle" fill="#4a4a4a" font-weight="normal" font-style="normal"  stroke="#4a4a4a" stroke-width="0.2" textLength="31.25" lengthAdjust="spacingAndGlyphs">Months</text>
<line x1="38.80" y1="331.19" x2="38.80" y2="354.10" stroke="#8a8f9c" stroke-width="0.6" />
<line x1="37.20" y1="331.19" x2="40.40" y2="331.19" stroke="#8a8f9c" stroke-width="0.6" />
<line x1="37.20" y1="354.10" x2="40.40" y2="354.10" stroke="#8a8f9c" stroke-width="0.6" />
<line x1="36.60" y1="340.19" x2="41.00" y2="340.19" stroke="#8a8f9c" stroke-width="0.6" />
<circle cx="39.14" cy="327.92" r="1.08" fill="#3a3f55" />
<circle cx="39.06" cy="331.19" r="1.08" fill="#3a3f55" />
<circle cx="38.72" cy="336.10" r="1.08" fill="#3a3f55" />
<circle cx="38.56" cy="338.96" r="1.08" fill="#3a3f55" />
<circle cx="38.81" cy="340.19" r="1.08" fill="#3a3f55" />
<circle cx="38.70" cy="341.83" r="1.08" fill="#3a3f55" />
<circle cx="39.08" cy="365.14" r="1.08" fill="#3a3f55" />
<line x1="44.50" y1="333.65" x2="44.50" y2="339.37" stroke="#3aa5dd" stroke-width="0.6" />
<line x1="42.90" y1="333.65" x2="46.10" y2="333.65" stroke="#3aa5dd" stroke-width="0.6" />
<line x1="42.90" y1="339.37" x2="46.10" y2="339.37" stroke="#3aa5dd" stroke-width="0.6" />
<line x1="42.30" y1="336.51" x2="46.70" y2="336.51" stroke="#3aa5dd" stroke-width="0.6" />
<circle cx="44.13" cy="333.65" r="1.08" fill="#3aa5dd" />
<circle cx="44.85" cy="335.28" r="1.08" fill="#3aa5dd" />
<circle cx="44.76" cy="336.51" r="1.08" fill="#3aa5dd" />
<circle cx="44.26" cy="337.74" r="1.08" fill="#3aa5dd" />
<circle cx="44.50" cy="338.96" r="1.08" fill="#3aa5dd" />
<line x1="49.50" y1="335.28" x2="49.50" y2="345.92" stroke="#15346f" stroke-width="0.6" />
<line x1="47.90" y1="335.28" x2="51.10" y2="335.28" stroke="#15346f" stroke-width="0.6" />
<line x1="47.90" y1="345.92" x2="51.10" y2="345.92" stroke="#15346f" stroke-width="0.6" />
<line x1="47.30" y1="340.60" x2="51.70" y2="340.60" stroke="#15346f" stroke-width="0.6" />
<circle cx="49.96" cy="333.65" r="1.08" fill="#15346f" />
<circle cx="49.95" cy="335.69" r="1.08" fill="#15346f" />
<circle cx="49.06" cy="336.92" r="1.08" fill="#15346f" />
<circle cx="49.08" cy="341.01" r="1.08" fill="#15346f" />
<circle cx="49.84" cy="344.28" r="1.08" fill="#15346f" />
<circle cx="49.74" cy="346.73" r="1.08" fill="#15346f" />
<circle cx="49.67" cy="348.37" r="1.08" fill="#15346f" />
<line x1="58.30" y1="336.92" x2="58.30" y2="345.92" stroke="#3a3f55" stroke-width="0.6" />
<line x1="56.70" y1="336.92" x2="59.90" y2="336.92" stroke="#3a3f55" stroke-width="0.6" />
<line x1="56.70" y1="345.92" x2="59.90" y2="345.92" stroke="#3a3f55" stroke-width="0.6" />
<line x1="56.10" y1="341.42" x2="60.50" y2="341.42" stroke="#3a3f55" stroke-width="0.6" />
<circle cx="58.04" cy="337.33" r="1.08" fill="#3a3f55" />
<circle cx="58.34" cy="338.96" r="1.08" fill="#3a3f55" />
<circle cx="58.17" cy="340.19" r="1.08" fill="#3a3f55" />
<circle cx="58.40" cy="341.83" r="1.08" fill="#3a3f55" />
<circle cx="58.43" cy="349.19" r="1.08" fill="#3a3f55" />
<line x1="63.80" y1="337.33" x2="63.80" y2="342.64" stroke="#3aa5dd" stroke-width="0.6" />
<line x1="62.20" y1="337.33" x2="65.40" y2="337.33" stroke="#3aa5dd" stroke-width="0.6" />
<line x1="62.20" y1="342.64" x2="65.40" y2="342.64" stroke="#3aa5dd" stroke-width="0.6" />
<line x1="61.60" y1="340.19" x2="66.00" y2="340.19" stroke="#3aa5dd" stroke-width="0.6" />
<circle cx="63.54" cy="337.33" r="1.08" fill="#3aa5dd" />
<circle cx="63.40" cy="338.96" r="1.08" fill="#3aa5dd" />
<circle cx="63.70" cy="340.19" r="1.08" fill="#3aa5dd" />
<circle cx="63.45" cy="341.42" r="1.08" fill="#3aa5dd" />
<circle cx="63.37" cy="342.24" r="1.08" fill="#3aa5dd" />
<line x1="69.30" y1="336.10" x2="69.30" y2="344.28" stroke="#15346f" stroke-width="0.6" />
<line x1="67.70" y1="336.10" x2="70.90" y2="336.10" stroke="#15346f" stroke-width="0.6" />
<line x1="67.70" y1="344.28" x2="70.90" y2="344.28" stroke="#15346f" stroke-width="0.6" />
<line x1="67.10" y1="340.19" x2="71.50" y2="340.19" stroke="#15346f" stroke-width="0.6" />
<circle cx="69.42" cy="336.10" r="1.08" fill="#15346f" />
<circle cx="69.54" cy="337.33" r="1.08" fill="#15346f" />
<circle cx="69.60" cy="338.96" r="1.08" fill="#15346f" />
<circle cx="69.74" cy="340.19" r="1.08" fill="#15346f" />
<circle cx="69.54" cy="341.83" r="1.08" fill="#15346f" />
<circle cx="69.72" cy="348.78" r="1.08" fill="#15346f" />
<line x1="78.00" y1="336.92" x2="78.00" y2="341.42" stroke="#3a3f55" stroke-width="0.6" />
<line x1="76.40" y1="336.92" x2="79.60" y2="336.92" stroke="#3a3f55" stroke-width="0.6" />
<line x1="76.40" y1="341.42" x2="79.60" y2="341.42" stroke="#3a3f55" stroke-width="0.6" />
<line x1="75.80" y1="338.96" x2="80.20" y2="338.96" stroke="#3a3f55" stroke-width="0.6" />
<circle cx="78.29" cy="336.92" r="1.08" fill="#3a3f55" />
<circle cx="78.32" cy="338.14" r="1.08" fill="#3a3f55" />
<circle cx="77.99" cy="339.37" r="1.08" fill="#3a3f55" />
<circle cx="77.76" cy="340.19" r="1.08" fill="#3a3f55" />
<circle cx="77.50" cy="341.01" r="1.08" fill="#3a3f55" />
<line x1="83.30" y1="339.37" x2="83.30" y2="347.55" stroke="#3aa5dd" stroke-width="0.6" />
<line x1="81.70" y1="339.37" x2="84.90" y2="339.37" stroke="#3aa5dd" stroke-width="0.6" />
<line x1="81.70" y1="347.55" x2="84.90" y2="347.55" stroke="#3aa5dd" stroke-width="0.6" />
<line x1="81.10" y1="343.46" x2="85.50" y2="343.46" stroke="#3aa5dd" stroke-width="0.6" />
<circle cx="83.12" cy="339.37" r="1.08" fill="#3aa5dd" />
<circle cx="82.95" cy="340.60" r="1.08" fill="#3aa5dd" />
<circle cx="83.45" cy="343.05" r="1.08" fill="#3aa5dd" />
<circle cx="82.87" cy="345.92" r="1.08" fill="#3aa5dd" />
<circle cx="83.34" cy="348.37" r="1.08" fill="#3aa5dd" />
<line x1="88.80" y1="338.55" x2="88.80" y2="343.46" stroke="#15346f" stroke-width="0.6" />
<line x1="87.20" y1="338.55" x2="90.40" y2="338.55" stroke="#15346f" stroke-width="0.6" />
<line x1="87.20" y1="343.46" x2="90.40" y2="343.46" stroke="#15346f" stroke-width="0.6" />
<line x1="86.60" y1="341.01" x2="91.00" y2="341.01" stroke="#15346f" stroke-width="0.6" />
<circle cx="88.53" cy="338.55" r="1.08" fill="#15346f" />
<circle cx="89.26" cy="339.78" r="1.08" fill="#15346f" />
<circle cx="88.43" cy="341.01" r="1.08" fill="#15346f" />
<circle cx="89.00" cy="342.24" r="1.08" fill="#15346f" />
<circle cx="88.39" cy="343.46" r="1.08" fill="#15346f" />
<line x1="97.50" y1="340.60" x2="97.50" y2="345.10" stroke="#3a3f55" stroke-width="0.6" />
<line x1="95.90" y1="340.60" x2="99.10" y2="340.60" stroke="#3a3f55" stroke-width="0.6" />
<line x1="95.90" y1="345.10" x2="99.10" y2="345.10" stroke="#3a3f55" stroke-width="0.6" />
<line x1="95.30" y1="343.05" x2="99.70" y2="343.05" stroke="#3a3f55" stroke-width="0.6" />
<circle cx="97.46" cy="340.60" r="1.08" fill="#3a3f55" />
<circle cx="97.37" cy="341.83" r="1.08" fill="#3a3f55" />
<circle cx="97.14" cy="342.64" r="1.08" fill="#3a3f55" />
<circle cx="97.87" cy="343.46" r="1.08" fill="#3a3f55" />
<circle cx="97.01" cy="344.28" r="1.08" fill="#3a3f55" />
<circle cx="97.50" cy="345.10" r="1.08" fill="#3a3f55" />
<line x1="103.00" y1="341.83" x2="103.00" y2="350.01" stroke="#3aa5dd" stroke-width="0.6" />
<line x1="101.40" y1="341.83" x2="104.60" y2="341.83" stroke="#3aa5dd" stroke-width="0.6" />
<line x1="101.40" y1="350.01" x2="104.60" y2="350.01" stroke="#3aa5dd" stroke-width="0.6" />
<line x1="100.80" y1="345.92" x2="105.20" y2="345.92" stroke="#3aa5dd" stroke-width="0.6" />
<circle cx="103.07" cy="341.83" r="1.08" fill="#3aa5dd" />
<circle cx="102.93" cy="343.46" r="1.08" fill="#3aa5dd" />
<circle cx="103.08" cy="345.92" r="1.08" fill="#3aa5dd" />
<circle cx="102.71" cy="348.37" r="1.08" fill="#3aa5dd" />
<circle cx="103.31" cy="350.01" r="1.08" fill="#3aa5dd" />
<line x1="108.30" y1="344.69" x2="108.30" y2="352.46" stroke="#15346f" stroke-width="0.6" />
<line x1="106.70" y1="344.69" x2="109.90" y2="344.69" stroke="#15346f" stroke-width="0.6" />
<line x1="106.70" y1="352.46" x2="109.90" y2="352.46" stroke="#15346f" stroke-width="0.6" />
<line x1="106.10" y1="348.37" x2="110.50" y2="348.37" stroke="#15346f" stroke-width="0.6" />
<circle cx="108.25" cy="345.10" r="1.08" fill="#15346f" />
<circle cx="108.36" cy="346.32" r="1.08" fill="#15346f" />
<circle cx="108.72" cy="347.55" r="1.08" fill="#15346f" />
<circle cx="108.27" cy="348.78" r="1.08" fill="#15346f" />
<circle cx="108.31" cy="350.42" r="1.08" fill="#15346f" />
<circle cx="108.39" cy="353.69" r="1.08" fill="#15346f" />
<path d="M97.40 335.60 V332.60 H108.80 V335.60" fill="none" stroke="#1a1a1a" stroke-width="0.95" />
<text transform="translate(103.10 329.50)" font-size="6.8" text-anchor="middle" fill="#333" font-weight="normal" font-style="normal"  stroke="#333" stroke-width="0.08" textLength="16.00" lengthAdjust="spacingAndGlyphs">0.069</text>
<line x1="150.75" y1="313.00" x2="150.75" y2="377.00" stroke="#111" stroke-width="1.25" />
<line x1="150.25" y1="377.00" x2="227.00" y2="377.00" stroke="#111" stroke-width="1.25" />
<line x1="148.15" y1="315.75" x2="150.75" y2="315.75" stroke="#2a2a2a" stroke-width="0.8" />
<text transform="translate(145.00 318.05) scale(0.86 1)" font-size="6.7" text-anchor="end" fill="#333" font-weight="normal" font-style="normal"  stroke="#333" stroke-width="0.2">20</text>
<line x1="148.15" y1="331.10" x2="150.75" y2="331.10" stroke="#2a2a2a" stroke-width="0.8" />
<text transform="translate(145.00 333.40) scale(0.86 1)" font-size="6.7" text-anchor="end" fill="#333" font-weight="normal" font-style="normal"  stroke="#333" stroke-width="0.2">15</text>
<line x1="148.15" y1="346.40" x2="150.75" y2="346.40" stroke="#2a2a2a" stroke-width="0.8" />
<text transform="translate(145.00 348.70) scale(0.86 1)" font-size="6.7" text-anchor="end" fill="#333" font-weight="normal" font-style="normal"  stroke="#333" stroke-width="0.2">10</text>
<line x1="148.15" y1="361.70" x2="150.75" y2="361.70" stroke="#2a2a2a" stroke-width="0.8" />
<text transform="translate(145.00 364.00) scale(0.86 1)" font-size="6.7" text-anchor="end" fill="#333" font-weight="normal" font-style="normal"  stroke="#333" stroke-width="0.2">5</text>
<line x1="148.15" y1="377.00" x2="150.75" y2="377.00" stroke="#2a2a2a" stroke-width="0.8" />
<text transform="translate(145.00 379.30) scale(0.86 1)" font-size="6.7" text-anchor="end" fill="#333" font-weight="normal" font-style="normal"  stroke="#333" stroke-width="0.2">0</text>
<text transform="translate(189.30 304.80)" font-size="8.8" text-anchor="middle" fill="#262626" font-weight="normal" font-style="normal"  stroke="#262626" stroke-width="0.08" textLength="18.20" lengthAdjust="spacingAndGlyphs">HGB</text>
<text transform="translate(132.50 359.50) rotate(-90) scale(0.74 1)" font-size="7.4" text-anchor="start" fill="#4a4a4a" font-weight="normal" font-style="normal"  stroke="#4a4a4a" stroke-width="0.2" textLength="38.51" lengthAdjust="spacingAndGlyphs">HGB g/dL</text>
<line x1="159.50" y1="377.00" x2="159.50" y2="379.60" stroke="#2a2a2a" stroke-width="0.8" />
<text transform="translate(159.50 388.60) scale(0.86 1)" font-size="6.7" text-anchor="middle" fill="#333" font-weight="normal" font-style="normal"  stroke="#333" stroke-width="0.2">2</text>
<line x1="179.30" y1="377.00" x2="179.30" y2="379.60" stroke="#2a2a2a" stroke-width="0.8" />
<text transform="translate(179.30 388.60) scale(0.86 1)" font-size="6.7" text-anchor="middle" fill="#333" font-weight="normal" font-style="normal"  stroke="#333" stroke-width="0.2">4</text>
<line x1="198.80" y1="377.00" x2="198.80" y2="379.60" stroke="#2a2a2a" stroke-width="0.8" />
<text transform="translate(198.80 388.60) scale(0.86 1)" font-size="6.7" text-anchor="middle" fill="#333" font-weight="normal" font-style="normal"  stroke="#333" stroke-width="0.2">6</text>
<line x1="218.30" y1="377.00" x2="218.30" y2="379.60" stroke="#2a2a2a" stroke-width="0.8" />
<text transform="translate(218.30 388.60) scale(0.86 1)" font-size="6.7" text-anchor="middle" fill="#333" font-weight="normal" font-style="normal"  stroke="#333" stroke-width="0.2">10</text>
<text transform="translate(189.30 400.20) scale(0.72 1)" font-size="8" text-anchor="middle" fill="#4a4a4a" font-weight="normal" font-style="normal"  stroke="#4a4a4a" stroke-width="0.2" textLength="31.25" lengthAdjust="spacingAndGlyphs">Months</text>
<line x1="154.50" y1="327.38" x2="154.50" y2="352.19" stroke="#8a8f9c" stroke-width="0.6" />
<line x1="152.90" y1="327.38" x2="156.10" y2="327.38" stroke="#8a8f9c" stroke-width="0.6" />
<line x1="152.90" y1="352.19" x2="156.10" y2="352.19" stroke="#8a8f9c" stroke-width="0.6" />
<line x1="152.30" y1="339.63" x2="156.70" y2="339.63" stroke="#8a8f9c" stroke-width="0.6" />
<circle cx="154.91" cy="325.54" r="1.08" fill="#3a3f55" />
<circle cx="154.69" cy="333.20" r="1.08" fill="#3a3f55" />
<circle cx="154.77" cy="337.49" r="1.08" fill="#3a3f55" />
<circle cx="154.90" cy="338.71" r="1.08" fill="#3a3f55" />
<circle cx="154.26" cy="339.63" r="1.08" fill="#3a3f55" />
<circle cx="154.64" cy="363.83" r="1.08" fill="#3a3f55" />
<line x1="159.50" y1="328.60" x2="159.50" y2="334.42" stroke="#3aa5dd" stroke-width="0.6" />
<line x1="157.90" y1="328.60" x2="161.10" y2="328.60" stroke="#3aa5dd" stroke-width="0.6" />
<line x1="157.90" y1="334.42" x2="161.10" y2="334.42" stroke="#3aa5dd" stroke-width="0.6" />
<line x1="157.30" y1="331.67" x2="161.70" y2="331.67" stroke="#3aa5dd" stroke-width="0.6" />
<circle cx="159.16" cy="328.60" r="1.08" fill="#3aa5dd" />
<circle cx="159.69" cy="330.44" r="1.08" fill="#3aa5dd" />
<circle cx="159.63" cy="331.97" r="1.08" fill="#3aa5dd" />
<circle cx="159.48" cy="333.51" r="1.08" fill="#3aa5dd" />
<circle cx="159.22" cy="334.42" r="1.08" fill="#3aa5dd" />
<line x1="165.00" y1="329.83" x2="165.00" y2="343.31" stroke="#15346f" stroke-width="0.6" />
<line x1="163.40" y1="329.83" x2="166.60" y2="329.83" stroke="#15346f" stroke-width="0.6" />
<line x1="163.40" y1="343.31" x2="166.60" y2="343.31" stroke="#15346f" stroke-width="0.6" />
<line x1="162.80" y1="336.57" x2="167.20" y2="336.57" stroke="#15346f" stroke-width="0.6" />
<circle cx="165.46" cy="328.60" r="1.08" fill="#15346f" />
<circle cx="164.64" cy="331.06" r="1.08" fill="#15346f" />
<circle cx="164.52" cy="332.59" r="1.08" fill="#15346f" />
<circle cx="165.50" cy="336.57" r="1.08" fill="#15346f" />
<circle cx="164.68" cy="340.24" r="1.08" fill="#15346f" />
<circle cx="164.62" cy="343.92" r="1.08" fill="#15346f" />
<circle cx="165.15" cy="346.68" r="1.08" fill="#15346f" />
<line x1="173.80" y1="333.51" x2="173.80" y2="343.92" stroke="#3a3f55" stroke-width="0.6" />
<line x1="172.20" y1="333.51" x2="175.40" y2="333.51" stroke="#3a3f55" stroke-width="0.6" />
<line x1="172.20" y1="343.92" x2="175.40" y2="343.92" stroke="#3a3f55" stroke-width="0.6" />
<line x1="171.60" y1="338.71" x2="176.00" y2="338.71" stroke="#3a3f55" stroke-width="0.6" />
<circle cx="174.22" cy="334.12" r="1.08" fill="#3a3f55" />
<circle cx="174.25" cy="335.65" r="1.08" fill="#3a3f55" />
<circle cx="174.19" cy="337.18" r="1.08" fill="#3a3f55" />
<circle cx="173.38" cy="338.71" r="1.08" fill="#3a3f55" />
<circle cx="173.89" cy="341.78" r="1.08" fill="#3a3f55" />
<circle cx="173.72" cy="347.29" r="1.08" fill="#3a3f55" />
<line x1="179.30" y1="333.51" x2="179.30" y2="338.71" stroke="#3aa5dd" stroke-width="0.6" />
<line x1="177.70" y1="333.51" x2="180.90" y2="333.51" stroke="#3aa5dd" stroke-width="0.6" />
<line x1="177.70" y1="338.71" x2="180.90" y2="338.71" stroke="#3aa5dd" stroke-width="0.6" />
<line x1="177.10" y1="336.26" x2="181.50" y2="336.26" stroke="#3aa5dd" stroke-width="0.6" />
<circle cx="179.51" cy="333.51" r="1.08" fill="#3aa5dd" />
<circle cx="179.64" cy="335.04" r="1.08" fill="#3aa5dd" />
<circle cx="178.98" cy="336.26" r="1.08" fill="#3aa5dd" />
<circle cx="179.80" cy="337.49" r="1.08" fill="#3aa5dd" />
<circle cx="178.99" cy="338.71" r="1.08" fill="#3aa5dd" />
<line x1="184.50" y1="330.44" x2="184.50" y2="340.86" stroke="#15346f" stroke-width="0.6" />
<line x1="182.90" y1="330.44" x2="186.10" y2="330.44" stroke="#15346f" stroke-width="0.6" />
<line x1="182.90" y1="340.86" x2="186.10" y2="340.86" stroke="#15346f" stroke-width="0.6" />
<line x1="182.30" y1="335.34" x2="186.70" y2="335.34" stroke="#15346f" stroke-width="0.6" />
<circle cx="184.38" cy="330.44" r="1.08" fill="#15346f" />
<circle cx="184.93" cy="332.28" r="1.08" fill="#15346f" />
<circle cx="184.84" cy="334.12" r="1.08" fill="#15346f" />
<circle cx="184.21" cy="335.96" r="1.08" fill="#15346f" />
<circle cx="184.87" cy="337.79" r="1.08" fill="#15346f" />
<circle cx="184.64" cy="344.53" r="1.08" fill="#15346f" />
<line x1="193.30" y1="332.28" x2="193.30" y2="337.49" stroke="#3a3f55" stroke-width="0.6" />
<line x1="191.70" y1="332.28" x2="194.90" y2="332.28" stroke="#3a3f55" stroke-width="0.6" />
<line x1="191.70" y1="337.49" x2="194.90" y2="337.49" stroke="#3a3f55" stroke-width="0.6" />
<line x1="191.10" y1="334.73" x2="195.50" y2="334.73" stroke="#3a3f55" stroke-width="0.6" />
<circle cx="193.55" cy="332.28" r="1.08" fill="#3a3f55" />
<circle cx="193.00" cy="333.51" r="1.08" fill="#3a3f55" />
<circle cx="193.01" cy="334.73" r="1.08" fill="#3a3f55" />
<circle cx="193.40" cy="335.96" r="1.08" fill="#3a3f55" />
<circle cx="192.86" cy="337.18" r="1.08" fill="#3a3f55" />
<line x1="198.80" y1="334.42" x2="198.80" y2="344.53" stroke="#3aa5dd" stroke-width="0.6" />
<line x1="197.20" y1="334.42" x2="200.40" y2="334.42" stroke="#3aa5dd" stroke-width="0.6" />
<line x1="197.20" y1="344.53" x2="200.40" y2="344.53" stroke="#3aa5dd" stroke-width="0.6" />
<line x1="196.60" y1="339.02" x2="201.00" y2="339.02" stroke="#3aa5dd" stroke-width="0.6" />
<circle cx="198.95" cy="334.42" r="1.08" fill="#3aa5dd" />
<circle cx="199.00" cy="336.26" r="1.08" fill="#3aa5dd" />
<circle cx="199.26" cy="339.02" r="1.08" fill="#3aa5dd" />
<circle cx="198.50" cy="341.78" r="1.08" fill="#3aa5dd" />
<circle cx="198.37" cy="344.53" r="1.08" fill="#3aa5dd" />
<line x1="204.30" y1="332.28" x2="204.30" y2="339.63" stroke="#15346f" stroke-width="0.6" />
<line x1="202.70" y1="332.28" x2="205.90" y2="332.28" stroke="#15346f" stroke-width="0.6" />
<line x1="202.70" y1="339.63" x2="205.90" y2="339.63" stroke="#15346f" stroke-width="0.6" />
<line x1="202.10" y1="335.96" x2="206.50" y2="335.96" stroke="#15346f" stroke-width="0.6" />
<circle cx="203.91" cy="332.28" r="1.08" fill="#15346f" />
<circle cx="203.93" cy="334.12" r="1.08" fill="#15346f" />
<circle cx="204.40" cy="335.96" r="1.08" fill="#15346f" />
<circle cx="203.98" cy="337.79" r="1.08" fill="#15346f" />
<circle cx="203.93" cy="339.33" r="1.08" fill="#15346f" />
<line x1="213.00" y1="334.12" x2="213.00" y2="340.55" stroke="#3a3f55" stroke-width="0.6" />
<line x1="211.40" y1="334.12" x2="214.60" y2="334.12" stroke="#3a3f55" stroke-width="0.6" />
<line x1="211.40" y1="340.55" x2="214.60" y2="340.55" stroke="#3a3f55" stroke-width="0.6" />
<line x1="210.80" y1="337.49" x2="215.20" y2="337.49" stroke="#3a3f55" stroke-width="0.6" />
<circle cx="213.05" cy="334.12" r="1.08" fill="#3a3f55" />
<circle cx="212.85" cy="335.96" r="1.08" fill="#3a3f55" />
<circle cx="213.34" cy="337.79" r="1.08" fill="#3a3f55" />
<circle cx="212.79" cy="339.02" r="1.08" fill="#3a3f55" />
<circle cx="213.01" cy="340.24" r="1.08" fill="#3a3f55" />
<line x1="218.30" y1="336.26" x2="218.30" y2="345.45" stroke="#3aa5dd" stroke-width="0.6" />
<line x1="216.70" y1="336.26" x2="219.90" y2="336.26" stroke="#3aa5dd" stroke-width="0.6" />
<line x1="216.70" y1="345.45" x2="219.90" y2="345.45" stroke="#3aa5dd" stroke-width="0.6" />
<line x1="216.10" y1="340.86" x2="220.50" y2="340.86" stroke="#3aa5dd" stroke-width="0.6" />
<circle cx="218.34" cy="336.26" r="1.08" fill="#3aa5dd" />
<circle cx="218.09" cy="338.41" r="1.08" fill="#3aa5dd" />
<circle cx="217.83" cy="341.16" r="1.08" fill="#3aa5dd" />
<circle cx="218.45" cy="343.61" r="1.08" fill="#3aa5dd" />
<circle cx="218.01" cy="345.45" r="1.08" fill="#3aa5dd" />
<line x1="223.80" y1="339.63" x2="223.80" y2="349.43" stroke="#15346f" stroke-width="0.6" />
<line x1="222.20" y1="339.63" x2="225.40" y2="339.63" stroke="#15346f" stroke-width="0.6" />
<line x1="222.20" y1="349.43" x2="225.40" y2="349.43" stroke="#15346f" stroke-width="0.6" />
<line x1="221.60" y1="345.14" x2="226.00" y2="345.14" stroke="#15346f" stroke-width="0.6" />
<circle cx="223.31" cy="339.63" r="1.08" fill="#15346f" />
<circle cx="223.41" cy="340.86" r="1.08" fill="#15346f" />
<circle cx="223.69" cy="344.53" r="1.08" fill="#15346f" />
<circle cx="223.98" cy="346.68" r="1.08" fill="#15346f" />
<circle cx="223.44" cy="348.21" r="1.08" fill="#15346f" />
<circle cx="223.41" cy="349.43" r="1.08" fill="#15346f" />
<path d="M213.80 330.60 V327.60 H224.60 V330.60" fill="none" stroke="#1a1a1a" stroke-width="0.95" />
<text transform="translate(219.20 326.40)" font-size="6.5" text-anchor="middle" fill="#333" font-weight="normal" font-style="normal"  stroke="#333" stroke-width="0.08">*</text>
<line x1="266.25" y1="313.00" x2="266.25" y2="377.00" stroke="#111" stroke-width="1.25" />
<line x1="265.75" y1="377.00" x2="342.50" y2="377.00" stroke="#111" stroke-width="1.25" />
<line x1="263.65" y1="315.75" x2="266.25" y2="315.75" stroke="#2a2a2a" stroke-width="0.8" />
<text transform="translate(260.00 318.05) scale(0.86 1)" font-size="6.7" text-anchor="end" fill="#333" font-weight="normal" font-style="normal"  stroke="#333" stroke-width="0.2">55</text>
<line x1="263.65" y1="336.30" x2="266.25" y2="336.30" stroke="#2a2a2a" stroke-width="0.8" />
<text transform="translate(260.00 338.60) scale(0.86 1)" font-size="6.7" text-anchor="end" fill="#333" font-weight="normal" font-style="normal"  stroke="#333" stroke-width="0.2">50</text>
<line x1="263.65" y1="356.80" x2="266.25" y2="356.80" stroke="#2a2a2a" stroke-width="0.8" />
<text transform="translate(260.00 359.10) scale(0.86 1)" font-size="6.7" text-anchor="end" fill="#333" font-weight="normal" font-style="normal"  stroke="#333" stroke-width="0.2">45</text>
<line x1="263.65" y1="377.00" x2="266.25" y2="377.00" stroke="#2a2a2a" stroke-width="0.8" />
<text transform="translate(260.00 379.30) scale(0.86 1)" font-size="6.7" text-anchor="end" fill="#333" font-weight="normal" font-style="normal"  stroke="#333" stroke-width="0.2">40</text>
<text transform="translate(304.30 304.80)" font-size="8.8" text-anchor="middle" fill="#262626" font-weight="normal" font-style="normal"  stroke="#262626" stroke-width="0.08" textLength="18.50" lengthAdjust="spacingAndGlyphs">MCV</text>
<text transform="translate(248.00 359.50) rotate(-90) scale(0.74 1)" font-size="7.4" text-anchor="start" fill="#4a4a4a" font-weight="normal" font-style="normal"  stroke="#4a4a4a" stroke-width="0.2" textLength="43.24" lengthAdjust="spacingAndGlyphs">MCV g/dL</text>
<line x1="275.00" y1="377.00" x2="275.00" y2="379.60" stroke="#2a2a2a" stroke-width="0.8" />
<text transform="translate(275.00 388.60) scale(0.86 1)" font-size="6.7" text-anchor="middle" fill="#333" font-weight="normal" font-style="normal"  stroke="#333" stroke-width="0.2">2</text>
<line x1="294.50" y1="377.00" x2="294.50" y2="379.60" stroke="#2a2a2a" stroke-width="0.8" />
<text transform="translate(294.50 388.60) scale(0.86 1)" font-size="6.7" text-anchor="middle" fill="#333" font-weight="normal" font-style="normal"  stroke="#333" stroke-width="0.2">4</text>
<line x1="314.30" y1="377.00" x2="314.30" y2="379.60" stroke="#2a2a2a" stroke-width="0.8" />
<text transform="translate(314.30 388.60) scale(0.86 1)" font-size="6.7" text-anchor="middle" fill="#333" font-weight="normal" font-style="normal"  stroke="#333" stroke-width="0.2">6</text>
<line x1="333.80" y1="377.00" x2="333.80" y2="379.60" stroke="#2a2a2a" stroke-width="0.8" />
<text transform="translate(333.80 388.60) scale(0.86 1)" font-size="6.7" text-anchor="middle" fill="#333" font-weight="normal" font-style="normal"  stroke="#333" stroke-width="0.2">10</text>
<text transform="translate(304.30 400.20) scale(0.72 1)" font-size="8" text-anchor="middle" fill="#4a4a4a" font-weight="normal" font-style="italic"  stroke="#4a4a4a" stroke-width="0.2" textLength="31.25" lengthAdjust="spacingAndGlyphs">Months</text>
<line x1="270.00" y1="344.28" x2="270.00" y2="360.64" stroke="#8a8f9c" stroke-width="0.6" />
<line x1="268.40" y1="344.28" x2="271.60" y2="344.28" stroke="#8a8f9c" stroke-width="0.6" />
<line x1="268.40" y1="360.64" x2="271.60" y2="360.64" stroke="#8a8f9c" stroke-width="0.6" />
<line x1="267.80" y1="354.10" x2="272.20" y2="354.10" stroke="#8a8f9c" stroke-width="0.6" />
<circle cx="269.96" cy="337.33" r="1.08" fill="#3a3f55" />
<circle cx="270.38" cy="351.64" r="1.08" fill="#3a3f55" />
<circle cx="269.53" cy="354.50" r="1.08" fill="#3a3f55" />
<circle cx="269.78" cy="356.55" r="1.08" fill="#3a3f55" />
<circle cx="270.46" cy="358.60" r="1.08" fill="#3a3f55" />
<circle cx="270.16" cy="361.46" r="1.08" fill="#3a3f55" />
<line x1="275.00" y1="345.92" x2="275.00" y2="353.28" stroke="#3aa5dd" stroke-width="0.6" />
<line x1="273.40" y1="345.92" x2="276.60" y2="345.92" stroke="#3aa5dd" stroke-width="0.6" />
<line x1="273.40" y1="353.28" x2="276.60" y2="353.28" stroke="#3aa5dd" stroke-width="0.6" />
<line x1="272.80" y1="350.01" x2="277.20" y2="350.01" stroke="#3aa5dd" stroke-width="0.6" />
<circle cx="274.88" cy="345.92" r="1.08" fill="#3aa5dd" />
<circle cx="274.73" cy="348.37" r="1.08" fill="#3aa5dd" />
<circle cx="274.67" cy="350.42" r="1.08" fill="#3aa5dd" />
<circle cx="275.41" cy="351.64" r="1.08" fill="#3aa5dd" />
<circle cx="275.08" cy="353.28" r="1.08" fill="#3aa5dd" />
<line x1="280.50" y1="345.10" x2="280.50" y2="358.19" stroke="#15346f" stroke-width="0.6" />
<line x1="278.90" y1="345.10" x2="282.10" y2="345.10" stroke="#15346f" stroke-width="0.6" />
<line x1="278.90" y1="358.19" x2="282.10" y2="358.19" stroke="#15346f" stroke-width="0.6" />
<line x1="278.30" y1="351.23" x2="282.70" y2="351.23" stroke="#15346f" stroke-width="0.6" />
<circle cx="280.64" cy="344.28" r="1.08" fill="#15346f" />
<circle cx="280.03" cy="347.55" r="1.08" fill="#15346f" />
<circle cx="280.28" cy="350.01" r="1.08" fill="#15346f" />
<circle cx="280.22" cy="352.46" r="1.08" fill="#15346f" />
<circle cx="280.74" cy="356.55" r="1.08" fill="#15346f" />
<circle cx="280.68" cy="359.82" r="1.08" fill="#15346f" />
<line x1="289.30" y1="346.73" x2="289.30" y2="354.10" stroke="#3a3f55" stroke-width="0.6" />
<line x1="287.70" y1="346.73" x2="290.90" y2="346.73" stroke="#3a3f55" stroke-width="0.6" />
<line x1="287.70" y1="354.10" x2="290.90" y2="354.10" stroke="#3a3f55" stroke-width="0.6" />
<line x1="287.10" y1="350.42" x2="291.50" y2="350.42" stroke="#3a3f55" stroke-width="0.6" />
<circle cx="288.84" cy="346.73" r="1.08" fill="#3a3f55" />
<circle cx="289.50" cy="349.19" r="1.08" fill="#3a3f55" />
<circle cx="288.94" cy="350.82" r="1.08" fill="#3a3f55" />
<circle cx="289.26" cy="352.46" r="1.08" fill="#3a3f55" />
<circle cx="289.47" cy="353.69" r="1.08" fill="#3a3f55" />
<line x1="294.50" y1="343.46" x2="294.50" y2="354.10" stroke="#3aa5dd" stroke-width="0.6" />
<line x1="292.90" y1="343.46" x2="296.10" y2="343.46" stroke="#3aa5dd" stroke-width="0.6" />
<line x1="292.90" y1="354.10" x2="296.10" y2="354.10" stroke="#3aa5dd" stroke-width="0.6" />
<line x1="292.30" y1="349.19" x2="296.70" y2="349.19" stroke="#3aa5dd" stroke-width="0.6" />
<circle cx="294.41" cy="343.46" r="1.08" fill="#3aa5dd" />
<circle cx="294.54" cy="346.73" r="1.08" fill="#3aa5dd" />
<circle cx="294.86" cy="349.19" r="1.08" fill="#3aa5dd" />
<circle cx="294.18" cy="351.64" r="1.08" fill="#3aa5dd" />
<circle cx="294.23" cy="354.10" r="1.08" fill="#3aa5dd" />
<line x1="300.00" y1="341.83" x2="300.00" y2="353.28" stroke="#15346f" stroke-width="0.6" />
<line x1="298.40" y1="341.83" x2="301.60" y2="341.83" stroke="#15346f" stroke-width="0.6" />
<line x1="298.40" y1="353.28" x2="301.60" y2="353.28" stroke="#15346f" stroke-width="0.6" />
<line x1="297.80" y1="347.55" x2="302.20" y2="347.55" stroke="#15346f" stroke-width="0.6" />
<circle cx="299.77" cy="341.83" r="1.08" fill="#15346f" />
<circle cx="299.99" cy="344.28" r="1.08" fill="#15346f" />
<circle cx="299.58" cy="346.73" r="1.08" fill="#15346f" />
<circle cx="299.84" cy="349.19" r="1.08" fill="#15346f" />
<circle cx="299.57" cy="351.64" r="1.08" fill="#15346f" />
<circle cx="299.51" cy="353.28" r="1.08" fill="#15346f" />
<line x1="308.80" y1="342.64" x2="308.80" y2="353.28" stroke="#3a3f55" stroke-width="0.6" />
<line x1="307.20" y1="342.64" x2="310.40" y2="342.64" stroke="#3a3f55" stroke-width="0.6" />
<line x1="307.20" y1="353.28" x2="310.40" y2="353.28" stroke="#3a3f55" stroke-width="0.6" />
<line x1="306.60" y1="348.37" x2="311.00" y2="348.37" stroke="#3a3f55" stroke-width="0.6" />
<circle cx="309.19" cy="342.64" r="1.08" fill="#3a3f55" />
<circle cx="308.70" cy="346.32" r="1.08" fill="#3a3f55" />
<circle cx="308.89" cy="348.37" r="1.08" fill="#3a3f55" />
<circle cx="309.16" cy="350.01" r="1.08" fill="#3a3f55" />
<circle cx="308.53" cy="354.10" r="1.08" fill="#3a3f55" />
<line x1="314.30" y1="333.65" x2="314.30" y2="348.37" stroke="#3aa5dd" stroke-width="0.6" />
<line x1="312.70" y1="333.65" x2="315.90" y2="333.65" stroke="#3aa5dd" stroke-width="0.6" />
<line x1="312.70" y1="348.37" x2="315.90" y2="348.37" stroke="#3aa5dd" stroke-width="0.6" />
<line x1="312.10" y1="341.83" x2="316.50" y2="341.83" stroke="#3aa5dd" stroke-width="0.6" />
<circle cx="314.15" cy="334.46" r="1.08" fill="#3aa5dd" />
<circle cx="314.23" cy="339.37" r="1.08" fill="#3aa5dd" />
<circle cx="314.25" cy="342.64" r="1.08" fill="#3aa5dd" />
<circle cx="314.14" cy="345.10" r="1.08" fill="#3aa5dd" />
<circle cx="314.31" cy="347.55" r="1.08" fill="#3aa5dd" />
<line x1="319.50" y1="338.96" x2="319.50" y2="345.92" stroke="#15346f" stroke-width="0.6" />
<line x1="317.90" y1="338.96" x2="321.10" y2="338.96" stroke="#15346f" stroke-width="0.6" />
<line x1="317.90" y1="345.92" x2="321.10" y2="345.92" stroke="#15346f" stroke-width="0.6" />
<line x1="317.30" y1="343.05" x2="321.70" y2="343.05" stroke="#15346f" stroke-width="0.6" />
<circle cx="319.55" cy="338.96" r="1.08" fill="#15346f" />
<circle cx="319.13" cy="341.42" r="1.08" fill="#15346f" />
<circle cx="319.71" cy="343.05" r="1.08" fill="#15346f" />
<circle cx="319.30" cy="344.28" r="1.08" fill="#15346f" />
<circle cx="319.94" cy="345.92" r="1.08" fill="#15346f" />
<line x1="328.30" y1="332.83" x2="328.30" y2="351.64" stroke="#3a3f55" stroke-width="0.6" />
<line x1="326.70" y1="332.83" x2="329.90" y2="332.83" stroke="#3a3f55" stroke-width="0.6" />
<line x1="326.70" y1="351.64" x2="329.90" y2="351.64" stroke="#3a3f55" stroke-width="0.6" />
<line x1="326.10" y1="342.24" x2="330.50" y2="342.24" stroke="#3a3f55" stroke-width="0.6" />
<circle cx="327.87" cy="332.83" r="1.08" fill="#3a3f55" />
<circle cx="328.21" cy="338.96" r="1.08" fill="#3a3f55" />
<circle cx="327.91" cy="341.83" r="1.08" fill="#3a3f55" />
<circle cx="328.55" cy="346.73" r="1.08" fill="#3a3f55" />
<circle cx="328.31" cy="351.64" r="1.08" fill="#3a3f55" />
<line x1="333.80" y1="324.65" x2="333.80" y2="334.46" stroke="#3aa5dd" stroke-width="0.6" />
<line x1="332.20" y1="324.65" x2="335.40" y2="324.65" stroke="#3aa5dd" stroke-width="0.6" />
<line x1="332.20" y1="334.46" x2="335.40" y2="334.46" stroke="#3aa5dd" stroke-width="0.6" />
<line x1="331.60" y1="329.56" x2="336.00" y2="329.56" stroke="#3aa5dd" stroke-width="0.6" />
<circle cx="333.80" cy="325.47" r="1.08" fill="#3aa5dd" />
<circle cx="333.57" cy="327.92" r="1.08" fill="#3aa5dd" />
<circle cx="333.94" cy="330.37" r="1.08" fill="#3aa5dd" />
<circle cx="333.54" cy="333.65" r="1.08" fill="#3aa5dd" />
<line x1="338.80" y1="322.19" x2="338.80" y2="362.28" stroke="#8a8f9c" stroke-width="0.6" />
<line x1="337.20" y1="322.19" x2="340.40" y2="322.19" stroke="#8a8f9c" stroke-width="0.6" />
<line x1="337.20" y1="362.28" x2="340.40" y2="362.28" stroke="#8a8f9c" stroke-width="0.6" />
<line x1="336.60" y1="341.83" x2="341.00" y2="341.83" stroke="#8a8f9c" stroke-width="0.6" />
<circle cx="338.54" cy="321.79" r="1.08" fill="#15346f" />
<circle cx="338.80" cy="332.01" r="1.08" fill="#15346f" />
<circle cx="338.46" cy="336.10" r="1.08" fill="#15346f" />
<circle cx="339.12" cy="341.83" r="1.08" fill="#15346f" />
<circle cx="338.53" cy="345.92" r="1.08" fill="#15346f" />
<circle cx="338.85" cy="374.14" r="1.08" fill="#15346f" />
<path d="M308.80 331.80 V328.80 H319.50 V331.80" fill="none" stroke="#5a2c2c" stroke-width="0.8" />
<text transform="translate(314.20 327.60)" font-size="6.5" text-anchor="middle" fill="#333" font-weight="normal" font-style="normal"  stroke="#333" stroke-width="0.08">*</text>
<text transform="translate(356.60 304.60) scale(1.1 1)" font-size="9.9" text-anchor="start" fill="#111" font-weight="bold" font-style="normal"  stroke="#111" stroke-width="0.3">G</text>
<text transform="translate(420.00 304.80)" font-size="8.8" text-anchor="middle" fill="#262626" font-weight="normal" font-style="normal"  stroke="#262626" stroke-width="0.08" textLength="20.00" lengthAdjust="spacingAndGlyphs">B cell</text>
<text transform="translate(363.00 377.00) rotate(-90) scale(0.72 1)" font-size="8" text-anchor="start" fill="#4a4a4a" font-weight="normal" font-style="normal"  stroke="#4a4a4a" stroke-width="0.2" textLength="90.28" lengthAdjust="spacingAndGlyphs">% of total CD45.2 cells</text>
<rect x="384.10" y="336.42" width="4.10" height="40.58" fill="#a2a5b1" />
<rect x="389.90" y="333.36" width="4.10" height="43.64" fill="#b1cfec" />
<rect x="395.60" y="338.72" width="4.10" height="38.28" fill="#98a2ba" />
<rect x="403.00" y="341.78" width="4.10" height="35.22" fill="#a2a5b1" />
<rect x="408.80" y="340.63" width="4.10" height="36.37" fill="#b1cfec" />
<rect x="414.30" y="348.67" width="4.10" height="28.33" fill="#98a2ba" />
<rect x="421.80" y="334.89" width="4.10" height="42.11" fill="#a2a5b1" />
<rect x="427.30" y="337.19" width="4.10" height="39.81" fill="#b1cfec" />
<rect x="433.10" y="346.76" width="4.10" height="30.24" fill="#98a2ba" />
<rect x="440.50" y="346.38" width="4.10" height="30.62" fill="#a2a5b1" />
<rect x="446.20" y="349.44" width="4.10" height="27.56" fill="#b1cfec" />
<rect x="451.90" y="359.39" width="4.10" height="17.61" fill="#98a2ba" />
<line x1="381.25" y1="313.00" x2="381.25" y2="377.00" stroke="#111" stroke-width="1.25" />
<line x1="380.75" y1="377.00" x2="457.50" y2="377.00" stroke="#111" stroke-width="1.25" />
<line x1="378.65" y1="315.75" x2="381.25" y2="315.75" stroke="#2a2a2a" stroke-width="0.8" />
<text transform="translate(375.00 318.05) scale(0.86 1)" font-size="6.7" text-anchor="end" fill="#333" font-weight="normal" font-style="normal"  stroke="#333" stroke-width="0.2">80</text>
<line x1="378.65" y1="331.10" x2="381.25" y2="331.10" stroke="#2a2a2a" stroke-width="0.8" />
<text transform="translate(375.00 333.40) scale(0.86 1)" font-size="6.7" text-anchor="end" fill="#333" font-weight="normal" font-style="normal"  stroke="#333" stroke-width="0.2">60</text>
<line x1="378.65" y1="346.40" x2="381.25" y2="346.40" stroke="#2a2a2a" stroke-width="0.8" />
<text transform="translate(375.00 348.70) scale(0.86 1)" font-size="6.7" text-anchor="end" fill="#333" font-weight="normal" font-style="normal"  stroke="#333" stroke-width="0.2">40</text>
<line x1="378.65" y1="361.70" x2="381.25" y2="361.70" stroke="#2a2a2a" stroke-width="0.8" />
<text transform="translate(375.00 364.00) scale(0.86 1)" font-size="6.7" text-anchor="end" fill="#333" font-weight="normal" font-style="normal"  stroke="#333" stroke-width="0.2">20</text>
<line x1="378.65" y1="377.00" x2="381.25" y2="377.00" stroke="#2a2a2a" stroke-width="0.8" />
<text transform="translate(375.00 379.30) scale(0.86 1)" font-size="6.7" text-anchor="end" fill="#333" font-weight="normal" font-style="normal"  stroke="#333" stroke-width="0.2">0</text>
<line x1="391.75" y1="377.00" x2="391.75" y2="379.60" stroke="#2a2a2a" stroke-width="0.8" />
<text transform="translate(391.75 388.60) scale(0.86 1)" font-size="6.7" text-anchor="middle" fill="#333" font-weight="normal" font-style="normal"  stroke="#333" stroke-width="0.2">2</text>
<line x1="410.50" y1="377.00" x2="410.50" y2="379.60" stroke="#2a2a2a" stroke-width="0.8" />
<text transform="translate(410.50 388.60) scale(0.86 1)" font-size="6.7" text-anchor="middle" fill="#333" font-weight="normal" font-style="normal"  stroke="#333" stroke-width="0.2">4</text>
<line x1="429.30" y1="377.00" x2="429.30" y2="379.60" stroke="#2a2a2a" stroke-width="0.8" />
<text transform="translate(429.30 388.60) scale(0.86 1)" font-size="6.7" text-anchor="middle" fill="#333" font-weight="normal" font-style="normal"  stroke="#333" stroke-width="0.2">6</text>
<line x1="448.30" y1="377.00" x2="448.30" y2="379.60" stroke="#2a2a2a" stroke-width="0.8" />
<text transform="translate(448.30 388.60) scale(0.86 1)" font-size="6.7" text-anchor="middle" fill="#333" font-weight="normal" font-style="normal"  stroke="#333" stroke-width="0.2">10</text>
<text transform="translate(420.00 400.20) scale(0.72 1)" font-size="8" text-anchor="middle" fill="#4a4a4a" font-weight="normal" font-style="normal"  stroke="#4a4a4a" stroke-width="0.2" textLength="31.25" lengthAdjust="spacingAndGlyphs">Months</text>
<line x1="386.15" y1="331.06" x2="386.15" y2="341.78" stroke="#3a3f55" stroke-width="0.6" />
<line x1="384.55" y1="331.06" x2="387.75" y2="331.06" stroke="#3a3f55" stroke-width="0.6" />
<line x1="384.55" y1="341.78" x2="387.75" y2="341.78" stroke="#3a3f55" stroke-width="0.6" />
<circle cx="385.73" cy="331.06" r="1.25" fill="#3a3f55" />
<circle cx="386.32" cy="332.60" r="1.25" fill="#3a3f55" />
<circle cx="385.63" cy="334.13" r="1.25" fill="#3a3f55" />
<circle cx="386.83" cy="337.19" r="1.25" fill="#3a3f55" />
<circle cx="386.08" cy="340.25" r="1.25" fill="#3a3f55" />
<circle cx="385.78" cy="342.55" r="1.25" fill="#3a3f55" />
<line x1="391.95" y1="324.94" x2="391.95" y2="341.78" stroke="#3aa5dd" stroke-width="0.6" />
<line x1="390.35" y1="324.94" x2="393.55" y2="324.94" stroke="#3aa5dd" stroke-width="0.6" />
<line x1="390.35" y1="341.78" x2="393.55" y2="341.78" stroke="#3aa5dd" stroke-width="0.6" />
<circle cx="391.94" cy="325.70" r="1.25" fill="#3aa5dd" />
<circle cx="392.07" cy="329.53" r="1.25" fill="#3aa5dd" />
<circle cx="392.63" cy="333.36" r="1.25" fill="#3aa5dd" />
<circle cx="391.56" cy="338.72" r="1.25" fill="#3aa5dd" />
<circle cx="391.56" cy="342.55" r="1.25" fill="#3aa5dd" />
<circle cx="392.37" cy="351.74" r="1.25" fill="#3aa5dd" />
<line x1="397.65" y1="334.89" x2="397.65" y2="341.78" stroke="#15346f" stroke-width="0.6" />
<line x1="396.05" y1="334.89" x2="399.25" y2="334.89" stroke="#15346f" stroke-width="0.6" />
<line x1="396.05" y1="341.78" x2="399.25" y2="341.78" stroke="#15346f" stroke-width="0.6" />
<circle cx="398.59" cy="333.36" r="1.25" fill="#15346f" />
<circle cx="396.93" cy="336.42" r="1.25" fill="#15346f" />
<circle cx="398.69" cy="337.95" r="1.25" fill="#15346f" />
<circle cx="397.07" cy="338.72" r="1.25" fill="#15346f" />
<circle cx="397.57" cy="339.49" r="1.25" fill="#15346f" />
<circle cx="398.53" cy="341.02" r="1.25" fill="#15346f" />
<line x1="405.05" y1="333.36" x2="405.05" y2="350.97" stroke="#3a3f55" stroke-width="0.6" />
<line x1="403.45" y1="333.36" x2="406.65" y2="333.36" stroke="#3a3f55" stroke-width="0.6" />
<line x1="403.45" y1="350.97" x2="406.65" y2="350.97" stroke="#3a3f55" stroke-width="0.6" />
<circle cx="404.93" cy="333.36" r="1.25" fill="#3a3f55" />
<circle cx="404.60" cy="334.89" r="1.25" fill="#3a3f55" />
<circle cx="405.95" cy="341.78" r="1.25" fill="#3a3f55" />
<circle cx="405.02" cy="346.38" r="1.25" fill="#3a3f55" />
<circle cx="404.14" cy="350.97" r="1.25" fill="#3a3f55" />
<circle cx="405.60" cy="358.63" r="1.25" fill="#3a3f55" />
<line x1="410.85" y1="332.60" x2="410.85" y2="349.44" stroke="#3aa5dd" stroke-width="0.6" />
<line x1="409.25" y1="332.60" x2="412.45" y2="332.60" stroke="#3aa5dd" stroke-width="0.6" />
<line x1="409.25" y1="349.44" x2="412.45" y2="349.44" stroke="#3aa5dd" stroke-width="0.6" />
<circle cx="410.80" cy="331.06" r="1.25" fill="#3aa5dd" />
<circle cx="411.14" cy="337.19" r="1.25" fill="#3aa5dd" />
<circle cx="410.64" cy="341.02" r="1.25" fill="#3aa5dd" />
<circle cx="411.77" cy="343.31" r="1.25" fill="#3aa5dd" />
<circle cx="409.79" cy="346.38" r="1.25" fill="#3aa5dd" />
<circle cx="411.92" cy="352.50" r="1.25" fill="#3aa5dd" />
<line x1="416.35" y1="343.31" x2="416.35" y2="354.03" stroke="#15346f" stroke-width="0.6" />
<line x1="414.75" y1="343.31" x2="417.95" y2="343.31" stroke="#15346f" stroke-width="0.6" />
<line x1="414.75" y1="354.03" x2="417.95" y2="354.03" stroke="#15346f" stroke-width="0.6" />
<circle cx="416.16" cy="343.31" r="1.25" fill="#15346f" />
<circle cx="415.88" cy="344.84" r="1.25" fill="#15346f" />
<circle cx="417.11" cy="347.91" r="1.25" fill="#15346f" />
<circle cx="416.23" cy="350.97" r="1.25" fill="#15346f" />
<circle cx="416.41" cy="352.50" r="1.25" fill="#15346f" />
<circle cx="416.46" cy="355.56" r="1.25" fill="#15346f" />
<line x1="423.85" y1="332.60" x2="423.85" y2="339.49" stroke="#3a3f55" stroke-width="0.6" />
<line x1="422.25" y1="332.60" x2="425.45" y2="332.60" stroke="#3a3f55" stroke-width="0.6" />
<line x1="422.25" y1="339.49" x2="425.45" y2="339.49" stroke="#3a3f55" stroke-width="0.6" />
<circle cx="422.91" cy="332.60" r="1.25" fill="#3a3f55" />
<circle cx="423.71" cy="334.13" r="1.25" fill="#3a3f55" />
<circle cx="423.29" cy="334.89" r="1.25" fill="#3a3f55" />
<circle cx="423.73" cy="336.42" r="1.25" fill="#3a3f55" />
<circle cx="423.31" cy="337.95" r="1.25" fill="#3a3f55" />
<circle cx="424.65" cy="339.49" r="1.25" fill="#3a3f55" />
<line x1="429.35" y1="333.36" x2="429.35" y2="341.78" stroke="#3aa5dd" stroke-width="0.6" />
<line x1="427.75" y1="333.36" x2="430.95" y2="333.36" stroke="#3aa5dd" stroke-width="0.6" />
<line x1="427.75" y1="341.78" x2="430.95" y2="341.78" stroke="#3aa5dd" stroke-width="0.6" />
<circle cx="428.41" cy="334.13" r="1.25" fill="#3aa5dd" />
<circle cx="429.94" cy="334.89" r="1.25" fill="#3aa5dd" />
<circle cx="430.39" cy="336.42" r="1.25" fill="#3aa5dd" />
<circle cx="429.16" cy="338.72" r="1.25" fill="#3aa5dd" />
<circle cx="430.33" cy="341.02" r="1.25" fill="#3aa5dd" />
<line x1="435.15" y1="340.25" x2="435.15" y2="351.74" stroke="#15346f" stroke-width="0.6" />
<line x1="433.55" y1="340.25" x2="436.75" y2="340.25" stroke="#15346f" stroke-width="0.6" />
<line x1="433.55" y1="351.74" x2="436.75" y2="351.74" stroke="#15346f" stroke-width="0.6" />
<circle cx="435.68" cy="339.49" r="1.25" fill="#15346f" />
<circle cx="436.12" cy="342.55" r="1.25" fill="#15346f" />
<circle cx="435.69" cy="344.84" r="1.25" fill="#15346f" />
<circle cx="436.05" cy="347.14" r="1.25" fill="#15346f" />
<circle cx="434.29" cy="350.20" r="1.25" fill="#15346f" />
<circle cx="435.33" cy="354.03" r="1.25" fill="#15346f" />
<line x1="442.55" y1="338.72" x2="442.55" y2="353.27" stroke="#3a3f55" stroke-width="0.6" />
<line x1="440.95" y1="338.72" x2="444.15" y2="338.72" stroke="#3a3f55" stroke-width="0.6" />
<line x1="440.95" y1="353.27" x2="444.15" y2="353.27" stroke="#3a3f55" stroke-width="0.6" />
<circle cx="442.96" cy="338.72" r="1.25" fill="#3a3f55" />
<circle cx="441.66" cy="339.49" r="1.25" fill="#3a3f55" />
<circle cx="441.82" cy="346.38" r="1.25" fill="#3a3f55" />
<circle cx="442.78" cy="349.44" r="1.25" fill="#3a3f55" />
<circle cx="442.17" cy="354.03" r="1.25" fill="#3a3f55" />
<line x1="448.25" y1="334.13" x2="448.25" y2="360.16" stroke="#3aa5dd" stroke-width="0.6" />
<line x1="446.65" y1="334.13" x2="449.85" y2="334.13" stroke="#3aa5dd" stroke-width="0.6" />
<line x1="446.65" y1="360.16" x2="449.85" y2="360.16" stroke="#3aa5dd" stroke-width="0.6" />
<circle cx="449.15" cy="338.72" r="1.25" fill="#3aa5dd" />
<circle cx="447.80" cy="346.38" r="1.25" fill="#3aa5dd" />
<circle cx="448.16" cy="350.97" r="1.25" fill="#3aa5dd" />
<circle cx="447.45" cy="356.33" r="1.25" fill="#3aa5dd" />
<circle cx="449.34" cy="361.69" r="1.25" fill="#3aa5dd" />
<line x1="453.95" y1="349.44" x2="453.95" y2="368.58" stroke="#15346f" stroke-width="0.6" />
<line x1="452.35" y1="349.44" x2="455.55" y2="349.44" stroke="#15346f" stroke-width="0.6" />
<line x1="452.35" y1="368.58" x2="455.55" y2="368.58" stroke="#15346f" stroke-width="0.6" />
<circle cx="453.56" cy="344.08" r="1.25" fill="#15346f" />
<circle cx="454.21" cy="349.44" r="1.25" fill="#15346f" />
<circle cx="452.87" cy="357.09" r="1.25" fill="#15346f" />
<circle cx="455.01" cy="361.69" r="1.25" fill="#15346f" />
<circle cx="454.66" cy="367.81" r="1.25" fill="#15346f" />
<circle cx="455.05" cy="368.58" r="1.25" fill="#15346f" />
<path d="M424.40 328.70 V325.50 H435.20 V328.70" fill="none" stroke="#4e2c2c" stroke-width="1.2" />
<circle cx="462.70" cy="315.80" r="1.6" fill="#3a3f55" />
<text transform="translate(467.60 317.90)" font-size="5.6" text-anchor="start" fill="#262626" font-weight="normal" font-style="normal"  stroke="#262626" stroke-width="0.08" textLength="8.20" lengthAdjust="spacingAndGlyphs">WT</text>
<circle cx="462.70" cy="326.40" r="1.6" fill="#3aa5dd" />
<text transform="translate(467.60 328.50)" font-size="5.6" text-anchor="start" fill="#262626" font-weight="normal" font-style="normal"  stroke="#262626" stroke-width="0.08" textLength="45.40" lengthAdjust="spacingAndGlyphs">9p21<tspan dy="-1.8" font-size="3.3">+/−</tspan><tspan dy="1.8">&#8203;</tspan> 2 months</text>
<circle cx="462.70" cy="336.70" r="1.6" fill="#15346f" />
<text transform="translate(467.60 338.80)" font-size="5.6" text-anchor="start" fill="#262626" font-weight="normal" font-style="normal"  stroke="#262626" stroke-width="0.08" textLength="45.40" lengthAdjust="spacingAndGlyphs">9p21<tspan dy="-1.8" font-size="3.3">+/−</tspan><tspan dy="1.8">&#8203;</tspan> 6 months</text>
<text transform="translate(60.30 428.40) scale(1.1 1)" font-size="9.9" text-anchor="start" fill="#111" font-weight="bold" font-style="normal"  stroke="#111" stroke-width="0.3">H</text>
<line x1="98.00" y1="442.50" x2="98.00" y2="518.75" stroke="#111" stroke-width="1.25" />
<line x1="95.50" y1="518.75" x2="195.50" y2="518.75" stroke="#111" stroke-width="1.25" />
<line x1="95.40" y1="449.25" x2="98.00" y2="449.25" stroke="#2a2a2a" stroke-width="0.8" />
<text transform="translate(91.75 451.65) scale(0.86 1)" font-size="7" text-anchor="end" fill="#2a2a2a" font-weight="normal" font-style="normal"  stroke="#2a2a2a" stroke-width="0.2">100</text>
<line x1="95.40" y1="484.00" x2="98.00" y2="484.00" stroke="#2a2a2a" stroke-width="0.8" />
<text transform="translate(91.75 486.40) scale(0.86 1)" font-size="7" text-anchor="end" fill="#2a2a2a" font-weight="normal" font-style="normal"  stroke="#2a2a2a" stroke-width="0.2">50</text>
<line x1="95.40" y1="518.75" x2="98.00" y2="518.75" stroke="#2a2a2a" stroke-width="0.8" />
<text transform="translate(91.75 521.15) scale(0.86 1)" font-size="7" text-anchor="end" fill="#2a2a2a" font-weight="normal" font-style="normal"  stroke="#2a2a2a" stroke-width="0.2">0</text>
<line x1="98.00" y1="518.75" x2="98.00" y2="521.35" stroke="#2a2a2a" stroke-width="0.8" />
<text transform="translate(98.00 529.90) scale(0.86 1)" font-size="7" text-anchor="middle" fill="#2a2a2a" font-weight="normal" font-style="normal"  stroke="#2a2a2a" stroke-width="0.2">0</text>
<line x1="121.75" y1="518.75" x2="121.75" y2="521.35" stroke="#2a2a2a" stroke-width="0.8" />
<text transform="translate(121.75 529.90) scale(0.86 1)" font-size="7" text-anchor="middle" fill="#2a2a2a" font-weight="normal" font-style="normal"  stroke="#2a2a2a" stroke-width="0.2">200</text>
<line x1="145.50" y1="518.75" x2="145.50" y2="521.35" stroke="#2a2a2a" stroke-width="0.8" />
<text transform="translate(145.50 529.90) scale(0.86 1)" font-size="7" text-anchor="middle" fill="#2a2a2a" font-weight="normal" font-style="normal"  stroke="#2a2a2a" stroke-width="0.2">400</text>
<line x1="169.25" y1="518.75" x2="169.25" y2="521.35" stroke="#2a2a2a" stroke-width="0.8" />
<text transform="translate(169.25 529.90) scale(0.86 1)" font-size="7" text-anchor="middle" fill="#2a2a2a" font-weight="normal" font-style="normal"  stroke="#2a2a2a" stroke-width="0.2">600</text>
<line x1="193.10" y1="518.75" x2="193.10" y2="521.35" stroke="#2a2a2a" stroke-width="0.8" />
<text transform="translate(193.10 529.90) scale(0.86 1)" font-size="7" text-anchor="middle" fill="#2a2a2a" font-weight="normal" font-style="normal"  stroke="#2a2a2a" stroke-width="0.2">800</text>
<text transform="translate(75.30 512.00) rotate(-90) scale(0.72 1)" font-size="8" text-anchor="start" fill="#4a4a4a" font-weight="normal" font-style="normal"  stroke="#4a4a4a" stroke-width="0.2" textLength="87.92" lengthAdjust="spacingAndGlyphs">Probability of survival</text>
<text transform="translate(139.20 541.90) scale(0.72 1)" font-size="8" text-anchor="start" fill="#4a4a4a" font-weight="normal" font-style="normal"  stroke="#4a4a4a" stroke-width="0.2" textLength="19.86" lengthAdjust="spacingAndGlyphs">Days</text>
<line x1="98.00" y1="449.25" x2="184.50" y2="449.25" stroke="#50556a" stroke-width="1.0" />
<path d="M125.43 449.25 H125.43 V459.19 H129.11 V469.13 H130.30 V479.07 H135.29 V488.93 H144.91 V498.87 H147.88 V508.81 H150.72 V518.75" fill="none" stroke="#e4ab48" stroke-width="1.2" />
<text transform="translate(145.00 486.40)" font-size="6.4" text-anchor="start" fill="#eeb070" font-weight="normal" font-style="normal"  stroke="#eeb070" stroke-width="0.08" textLength="17.50" lengthAdjust="spacingAndGlyphs">314 d.</text>
<line x1="131.25" y1="426.30" x2="140.00" y2="426.30" stroke="#50556a" stroke-width="1.0" />
<text transform="translate(143.75 428.40)" font-size="5.6" text-anchor="start" fill="#262626" font-weight="normal" font-style="italic"  stroke="#262626" stroke-width="0.08" textLength="30.70" lengthAdjust="spacingAndGlyphs">Cx3cr1<tspan dy="-2" font-size="3.3">CreER</tspan><tspan dy="2">&#8203;</tspan></text>
<line x1="131.25" y1="435.00" x2="140.00" y2="435.00" stroke="#e4ab48" stroke-width="1.3" />
<text transform="translate(143.75 437.10)" font-size="5.6" text-anchor="start" fill="#262626" font-weight="normal" font-style="italic"  stroke="#262626" stroke-width="0.08" textLength="55.70" lengthAdjust="spacingAndGlyphs">Cx3Cr1<tspan dy="-2" font-size="3.3">CreER</tspan><tspan dy="2">&#8203;</tspan> 9p21<tspan dy="-2" font-size="3.3">fl/fl</tspan><tspan dy="2">&#8203;</tspan></text>
<text transform="translate(214.30 427.20)" font-size="10" text-anchor="start" fill="#111" font-weight="bold" font-style="normal"  stroke="#111" stroke-width="0.08">I</text>
<text transform="translate(302.30 427.80)" font-size="8.5" text-anchor="start" fill="#2a2a2a" font-weight="normal" font-style="italic"  textLength="27.90" lengthAdjust="spacingAndGlyphs">Cx3Cr1</text>
<text transform="translate(330.60 424.60)" font-size="5.2" text-anchor="start" fill="#2a2a2a" font-weight="normal" font-style="normal"  textLength="16.80" lengthAdjust="spacingAndGlyphs">CreER</text>
<text transform="translate(350.30 427.80)" font-size="8.5" text-anchor="start" fill="#2a2a2a" font-weight="normal" font-style="italic"  textLength="18.40" lengthAdjust="spacingAndGlyphs">9p21</text>
<text transform="translate(369.30 424.20)" font-size="4" text-anchor="start" fill="#2a2a2a" font-weight="normal" font-style="normal"  textLength="9.00" lengthAdjust="spacingAndGlyphs">fl/fl</text>
<text transform="translate(263.80 440.00)" font-size="7.4" text-anchor="start" fill="#222" font-weight="normal" font-style="normal"  stroke="#222" stroke-width="0.08" textLength="36.20" lengthAdjust="spacingAndGlyphs">Trichrome</text>
<text transform="translate(388.80 440.00)" font-size="7.4" text-anchor="start" fill="#222" font-weight="normal" font-style="normal"  stroke="#222" stroke-width="0.08" textLength="31.20" lengthAdjust="spacingAndGlyphs">Reticulin</text>
<defs>
<filter id="fTri" x="220.2" y="446.3" width="124.60000000000002" height="98.30000000000001" filterUnits="userSpaceOnUse" color-interpolation-filters="sRGB">
<feTurbulence type="fractalNoise" baseFrequency="0.16 0.2" numOctaves="3" seed="7"/>
<feColorMatrix type="matrix" values="2.8 0 0 0 -0.9  2.8 0 0 0 -0.9  2.8 0 0 0 -0.9  0 0 0 0 1"/>
<feComponentTransfer>
<feFuncR type="table" tableValues="0.28 0.36 0.46 0.54 0.58"/>
<feFuncG type="table" tableValues="0.15 0.12 0.10 0.11 0.14"/>
<feFuncB type="table" tableValues="0.50 0.40 0.30 0.27 0.30"/>
</feComponentTransfer>
</filter>
<filter id="fBlue" x="210.2" y="436.3" width="144.60000000000002" height="118.30000000000001" filterUnits="userSpaceOnUse" color-interpolation-filters="sRGB">
<feTurbulence type="fractalNoise" baseFrequency="0.09 0.11" numOctaves="3" seed="21" result="n"/>
<feDisplacementMap in="SourceGraphic" in2="n" scale="16" xChannelSelector="R" yChannelSelector="G" result="d"/>
<feTurbulence type="fractalNoise" baseFrequency="0.14" numOctaves="3" seed="4" result="n2"/>
<feColorMatrix in="n2" type="matrix" values="0 0 0 0 0  0 0 0 0 0  0 0 0 0 0  -4 0 0 0 3.1" result="m"/>
<feComposite in="d" in2="m" operator="in"/>
<feGaussianBlur stdDeviation="0.7"/>
</filter>
<filter id="fRedN" x="220.2" y="446.3" width="124.60000000000002" height="98.30000000000001" filterUnits="userSpaceOnUse" color-interpolation-filters="sRGB">
<feTurbulence type="fractalNoise" baseFrequency="0.05 0.3" numOctaves="2" seed="3"/>
<feColorMatrix type="matrix" values="0 0 0 0 1  0 0 0 0 0.85  0 0 0 0 0.9  1.6 0 0 0 -0.55"/>
<feComposite in2="SourceGraphic" operator="in"/>
</filter>
<clipPath id="cTri"><rect x="220.2" y="446.3" width="124.60000000000002" height="98.30000000000001"/></clipPath>
</defs>
<g clip-path="url(#cTri)">
<rect x="220.20" y="446.30" width="124.60" height="98.30" fill="#7a3078" />
<rect x="220.2" y="446.3" width="124.60000000000002" height="98.30000000000001" filter="url(#fTri)"/>
<g filter="url(#fBlue)" fill="#4a4cb0" opacity="0.9">
<path d="M216.2 442.3 L262 442.3 L266 456 L250 466 L236 470 L216.2 470Z" opacity="0.95"/>
<path d="M246 464 L262 466 L296 488 L300 498 L286 498 L252 478Z" opacity="0.95"/>
<path d="M216.2 470 L234 472 L240 486 L238 508 L216.2 506Z" opacity="0.95"/>
<path d="M232 503 L244 506 L280 517 L304 522 L324 515 L340 507 L342 515 L326 524 L304 531 L278 526 L242 516Z" opacity="0.95"/>
<path d="M300 472 L318 482 L334 496 L331 500 L314 489 L299 478Z" opacity="0.55"/>
</g>
<path d="M261 446.3 C270 451 278 455 284 459 C298 467 316 478 344.8 496.5 L344.8 490.5 C318 473 298 462.5 286 456 C281 453 276 450 270 446.3Z" fill="#7d2f7a" stroke="none" stroke-width="1" opacity="0.8"/>
<path d="M270 446.3 C276 450 281 453 286 456 C298 462.5 318 473 344.8 490.5 L344.8 446.3Z" fill="#a92a4d" stroke="none" stroke-width="1" />
<path d="M300 446.3 C318 452 332 458 344.8 466 L344.8 474 C330 466 314 458 290 446.3Z" fill="#b83a5c" stroke="none" stroke-width="1" opacity="0.45"/>
<path d="M280 446.3 C298 455 320 466 344.8 482 L344.8 487 C320 471 298 460 274 446.3Z" fill="#901c40" stroke="none" stroke-width="1" opacity="0.35"/>
<path d="M331.5 446.3 L344.8 446.3 L344.8 454.5Z" fill="#ebe6e8" stroke="none" stroke-width="1" />
<path d="M220.2 496 C232 508 248 524 274 544.6 L264 544.6 C246 528 232 514 220.2 503Z" fill="#9a2d6a" stroke="none" stroke-width="1" opacity="0.75"/>
<path d="M220.2 503 C232 514 248 528 266 544.6 L220.2 544.6Z" fill="#a6284f" stroke="none" stroke-width="1" />
<path d="M220.2 522 C230 530 240 538 246 544.6 L220.2 544.6Z" fill="#b2355c" stroke="none" stroke-width="1" opacity="0.6"/>
<path d="M238 526 L262 544.6 L250 544.6 L232 529Z" fill="#d77a9a" stroke="none" stroke-width="1" opacity="0.4"/>
<path d="M270 446.3 C276 450 281 453 286 456 C298 462.5 318 473 344.8 490.5 L344.8 446.3Z M220.2 503 C232 514 248 528 266 544.6 L220.2 544.6Z" fill="#fff" filter="url(#fRedN)" opacity="0.2"/>
<path d="M238 466 c0 -4 4 -6 7 -5 c2 0 3 -2 5 -1 c1 2 -1 4 -3 5 c-1 3 -3 5 -6 5 c-2 0 -3 -2 -3 -4Z" fill="#f1e6ec" stroke="#241532" stroke-width="0.5" stroke-opacity="0.5"/>
<path d="M253 455 c2 -3 5 -2 6 0 c0 3 -2 4 -4 3 c-2 0 -3 -1 -2 -3Z" fill="#f1e6ec" stroke="#241532" stroke-width="0.5" stroke-opacity="0.5"/>
<path d="M267 487 c3 -2 7 -1 10 1 c2 1 3 2 3 3 c-4 0 -7 -1 -10 -2 c-2 0 -3 -1 -3 -2Z" fill="#f1e6ec" stroke="#241532" stroke-width="0.5" stroke-opacity="0.5"/>
<path d="M278 494 c4 -1 8 0 12 2 c-1 2 -5 2 -8 1 c-2 -1 -4 -1 -4 -3Z" fill="#f1e6ec" stroke="#241532" stroke-width="0.5" stroke-opacity="0.5"/>
<path d="M289 484 c0 -3 3 -5 6 -5 c3 0 4 1 3 3 c-2 1 -2 3 -2 5 c-1 3 -4 3 -6 1 c-1 -1 -1 -3 -1 -4Z" fill="#f1e6ec" stroke="#241532" stroke-width="0.5" stroke-opacity="0.5"/>
<path d="M297 513 c1 -3 6 -4 9 -2 c2 2 1 5 -2 6 c-4 1 -8 -1 -7 -4Z" fill="#f1e6ec" stroke="#241532" stroke-width="0.5" stroke-opacity="0.5"/>
<path d="M314 517 c3 -2 8 -2 11 0 c-1 2 -4 3 -7 2 c-2 0 -4 -1 -4 -2Z" fill="#f1e6ec" stroke="#241532" stroke-width="0.5" stroke-opacity="0.5"/>
<path d="M334 499 c4 1 7 3 9 6 c0 2 -2 1 -4 0 c-3 -2 -5 -3 -5 -6Z" fill="#f1e6ec" stroke="#241532" stroke-width="0.5" stroke-opacity="0.5"/>
<path d="M227 487 c2 -2 5 -1 7 1 c-2 2 -5 2 -7 -1Z" fill="#f1e6ec" stroke="#241532" stroke-width="0.5" stroke-opacity="0.5"/>
<path d="M322 483 c2 0 4 2 5 4 c-2 0 -4 -2 -5 -4Z" fill="#f1e6ec" stroke="#241532" stroke-width="0.5" stroke-opacity="0.5"/>
<ellipse cx="297.1" cy="517.8" rx="1.1" ry="0.7" fill="#f3dfe6" opacity="0.80" transform="rotate(135 297.1 517.8)"/>
<ellipse cx="226.6" cy="492.3" rx="1.3" ry="0.6" fill="#f3dfe6" opacity="0.86" transform="rotate(28 226.6 492.3)"/>
<ellipse cx="267.3" cy="529.5" rx="0.8" ry="0.3" fill="#f3dfe6" opacity="0.60" transform="rotate(55 267.3 529.5)"/>
<ellipse cx="271.6" cy="466.1" rx="1.2" ry="0.5" fill="#f3dfe6" opacity="0.80" transform="rotate(18 271.6 466.1)"/>
<ellipse cx="239.7" cy="506.3" rx="0.6" ry="0.3" fill="#f3dfe6" opacity="0.85" transform="rotate(53 239.7 506.3)"/>
<ellipse cx="314.9" cy="537.9" rx="0.6" ry="0.4" fill="#f3dfe6" opacity="0.63" transform="rotate(50 314.9 537.9)"/>
<ellipse cx="287.2" cy="511.9" rx="0.7" ry="0.7" fill="#f3dfe6" opacity="0.78" transform="rotate(98 287.2 511.9)"/>
<ellipse cx="258.6" cy="482.6" rx="0.6" ry="0.4" fill="#f3dfe6" opacity="0.53" transform="rotate(77 258.6 482.6)"/>
<ellipse cx="320.1" cy="503.4" rx="1.0" ry="0.6" fill="#f3dfe6" opacity="0.53" transform="rotate(90 320.1 503.4)"/>
<ellipse cx="320.3" cy="493.7" rx="0.8" ry="0.5" fill="#f3dfe6" opacity="0.78" transform="rotate(14 320.3 493.7)"/>
<ellipse cx="271.1" cy="500.0" rx="0.8" ry="0.5" fill="#f3dfe6" opacity="0.84" transform="rotate(115 271.1 500.0)"/>
<ellipse cx="228.7" cy="466.0" rx="1.3" ry="0.4" fill="#f3dfe6" opacity="0.80" transform="rotate(118 228.7 466.0)"/>
<ellipse cx="264.0" cy="482.0" rx="0.9" ry="0.6" fill="#f3dfe6" opacity="0.54" transform="rotate(94 264.0 482.0)"/>
<ellipse cx="263.6" cy="505.7" rx="1.2" ry="0.4" fill="#f3dfe6" opacity="0.87" transform="rotate(139 263.6 505.7)"/>
<ellipse cx="259.5" cy="523.0" rx="1.0" ry="0.6" fill="#f3dfe6" opacity="0.62" transform="rotate(123 259.5 523.0)"/>
<ellipse cx="242.4" cy="453.8" rx="1.3" ry="0.5" fill="#f3dfe6" opacity="0.66" transform="rotate(60 242.4 453.8)"/>
<ellipse cx="311.0" cy="481.0" rx="0.7" ry="0.6" fill="#f3dfe6" opacity="0.56" transform="rotate(163 311.0 481.0)"/>
<ellipse cx="227.1" cy="494.9" rx="1.2" ry="0.4" fill="#f3dfe6" opacity="0.79" transform="rotate(33 227.1 494.9)"/>
<ellipse cx="298.0" cy="522.0" rx="0.6" ry="0.5" fill="#f3dfe6" opacity="0.56" transform="rotate(107 298.0 522.0)"/>
<ellipse cx="258.2" cy="491.1" rx="1.3" ry="0.6" fill="#f3dfe6" opacity="0.89" transform="rotate(116 258.2 491.1)"/>
<ellipse cx="337.1" cy="512.9" rx="0.8" ry="0.4" fill="#f3dfe6" opacity="0.69" transform="rotate(37 337.1 512.9)"/>
<ellipse cx="334.3" cy="529.4" rx="0.6" ry="0.5" fill="#f3dfe6" opacity="0.71" transform="rotate(140 334.3 529.4)"/>
<ellipse cx="316.4" cy="520.8" rx="1.1" ry="0.6" fill="#f3dfe6" opacity="0.80" transform="rotate(93 316.4 520.8)"/>
<ellipse cx="289.5" cy="511.0" rx="1.2" ry="0.4" fill="#f3dfe6" opacity="0.89" transform="rotate(75 289.5 511.0)"/>
<ellipse cx="279.5" cy="520.7" rx="0.8" ry="0.4" fill="#f3dfe6" opacity="0.62" transform="rotate(128 279.5 520.7)"/>
<ellipse cx="300.0" cy="522.9" rx="0.8" ry="0.6" fill="#f3dfe6" opacity="0.80" transform="rotate(104 300.0 522.9)"/>
<ellipse cx="264.7" cy="527.1" rx="1.2" ry="0.6" fill="#f3dfe6" opacity="0.89" transform="rotate(85 264.7 527.1)"/>
<ellipse cx="284.7" cy="498.2" rx="0.6" ry="0.6" fill="#f3dfe6" opacity="0.87" transform="rotate(122 284.7 498.2)"/>
<ellipse cx="256.7" cy="456.6" rx="1.0" ry="0.5" fill="#f3dfe6" opacity="0.75" transform="rotate(148 256.7 456.6)"/>
<ellipse cx="284.5" cy="535.7" rx="0.7" ry="0.5" fill="#f3dfe6" opacity="0.85" transform="rotate(69 284.5 535.7)"/>
<ellipse cx="242.2" cy="490.0" rx="1.0" ry="0.4" fill="#f3dfe6" opacity="0.77" transform="rotate(161 242.2 490.0)"/>
<ellipse cx="308.4" cy="540.4" rx="1.3" ry="0.4" fill="#f3dfe6" opacity="0.86" transform="rotate(28 308.4 540.4)"/>
<ellipse cx="260.8" cy="466.1" rx="0.7" ry="0.3" fill="#f3dfe6" opacity="0.69" transform="rotate(97 260.8 466.1)"/>
<ellipse cx="247.4" cy="515.6" rx="0.8" ry="0.4" fill="#f3dfe6" opacity="0.88" transform="rotate(104 247.4 515.6)"/>
<ellipse cx="326.0" cy="512.9" rx="0.9" ry="0.7" fill="#f3dfe6" opacity="0.72" transform="rotate(77 326.0 512.9)"/>
<ellipse cx="234.4" cy="499.6" rx="0.8" ry="0.5" fill="#f3dfe6" opacity="0.88" transform="rotate(33 234.4 499.6)"/>
<ellipse cx="272.9" cy="524.3" rx="1.0" ry="0.4" fill="#f3dfe6" opacity="0.56" transform="rotate(152 272.9 524.3)"/>
<ellipse cx="268.6" cy="493.3" rx="0.7" ry="0.4" fill="#f3dfe6" opacity="0.54" transform="rotate(169 268.6 493.3)"/>
<ellipse cx="223.3" cy="459.3" rx="1.0" ry="0.5" fill="#f3dfe6" opacity="0.56" transform="rotate(161 223.3 459.3)"/>
<ellipse cx="327.2" cy="501.4" rx="0.8" ry="0.7" fill="#f3dfe6" opacity="0.70" transform="rotate(122 327.2 501.4)"/>
<ellipse cx="337.2" cy="533.6" rx="1.0" ry="0.4" fill="#f3dfe6" opacity="0.89" transform="rotate(127 337.2 533.6)"/>
<ellipse cx="253.0" cy="451.1" rx="1.3" ry="0.4" fill="#f3dfe6" opacity="0.87" transform="rotate(36 253.0 451.1)"/>
<ellipse cx="296.9" cy="490.2" rx="0.7" ry="0.6" fill="#f3dfe6" opacity="0.83" transform="rotate(3 296.9 490.2)"/>
<ellipse cx="280.2" cy="501.0" rx="0.7" ry="0.5" fill="#f3dfe6" opacity="0.51" transform="rotate(125 280.2 501.0)"/>
<ellipse cx="254.9" cy="463.6" rx="1.3" ry="0.4" fill="#f3dfe6" opacity="0.74" transform="rotate(121 254.9 463.6)"/>
<ellipse cx="284.7" cy="529.0" rx="1.2" ry="0.7" fill="#f3dfe6" opacity="0.51" transform="rotate(32 284.7 529.0)"/>
<ellipse cx="258.9" cy="498.5" rx="0.8" ry="0.4" fill="#f3dfe6" opacity="0.71" transform="rotate(118 258.9 498.5)"/>
<ellipse cx="264.7" cy="512.2" rx="1.2" ry="0.4" fill="#f3dfe6" opacity="0.50" transform="rotate(141 264.7 512.2)"/>
<ellipse cx="277.2" cy="533.9" rx="1.2" ry="0.5" fill="#f3dfe6" opacity="0.51" transform="rotate(109 277.2 533.9)"/>
<ellipse cx="293.8" cy="512.9" rx="1.3" ry="0.6" fill="#f3dfe6" opacity="0.84" transform="rotate(98 293.8 512.9)"/>
<ellipse cx="279.6" cy="512.3" rx="1.1" ry="0.7" fill="#f3dfe6" opacity="0.69" transform="rotate(16 279.6 512.3)"/>
<ellipse cx="259.2" cy="449.6" rx="1.1" ry="0.5" fill="#f3dfe6" opacity="0.76" transform="rotate(120 259.2 449.6)"/>
<ellipse cx="279.9" cy="500.0" rx="0.9" ry="0.4" fill="#f3dfe6" opacity="0.56" transform="rotate(149 279.9 500.0)"/>
<ellipse cx="233.3" cy="455.1" rx="1.3" ry="0.4" fill="#f3dfe6" opacity="0.67" transform="rotate(17 233.3 455.1)"/>
<ellipse cx="341.6" cy="514.0" rx="0.5" ry="0.6" fill="#f3dfe6" opacity="0.59" transform="rotate(165 341.6 514.0)"/>
<ellipse cx="329.3" cy="541.1" rx="1.1" ry="0.5" fill="#f3dfe6" opacity="0.57" transform="rotate(47 329.3 541.1)"/>
<ellipse cx="272.3" cy="464.2" rx="1.0" ry="0.3" fill="#f3dfe6" opacity="0.54" transform="rotate(97 272.3 464.2)"/>
<ellipse cx="270.5" cy="506.9" rx="0.5" ry="0.3" fill="#f3dfe6" opacity="0.77" transform="rotate(125 270.5 506.9)"/>
<ellipse cx="281.3" cy="535.9" rx="0.8" ry="0.3" fill="#f3dfe6" opacity="0.78" transform="rotate(38 281.3 535.9)"/>
<ellipse cx="290.6" cy="511.9" rx="0.7" ry="0.7" fill="#f3dfe6" opacity="0.72" transform="rotate(56 290.6 511.9)"/>
<ellipse cx="254.4" cy="500.2" rx="0.7" ry="0.6" fill="#f3dfe6" opacity="0.71" transform="rotate(34 254.4 500.2)"/>
<ellipse cx="319.0" cy="529.0" rx="0.9" ry="0.5" fill="#f3dfe6" opacity="0.55" transform="rotate(4 319.0 529.0)"/>
<ellipse cx="238.0" cy="504.1" rx="0.7" ry="0.7" fill="#f3dfe6" opacity="0.69" transform="rotate(82 238.0 504.1)"/>
<ellipse cx="236.0" cy="498.3" rx="0.9" ry="0.5" fill="#f3dfe6" opacity="0.84" transform="rotate(109 236.0 498.3)"/>
<ellipse cx="302.1" cy="525.0" rx="0.6" ry="0.5" fill="#f3dfe6" opacity="0.64" transform="rotate(60 302.1 525.0)"/>
<ellipse cx="306.9" cy="522.8" rx="0.8" ry="0.6" fill="#f3dfe6" opacity="0.64" transform="rotate(75 306.9 522.8)"/>
<ellipse cx="318.6" cy="489.3" rx="1.2" ry="0.5" fill="#f3dfe6" opacity="0.74" transform="rotate(146 318.6 489.3)"/>
<ellipse cx="248.7" cy="466.0" rx="0.6" ry="0.3" fill="#f3dfe6" opacity="0.57" transform="rotate(50 248.7 466.0)"/>
<ellipse cx="280.2" cy="519.5" rx="0.5" ry="0.5" fill="#f3dfe6" opacity="0.86" transform="rotate(158 280.2 519.5)"/>
<ellipse cx="278.0" cy="467.0" rx="1.0" ry="0.3" fill="#f3dfe6" opacity="0.85" transform="rotate(120 278.0 467.0)"/>
<ellipse cx="241.2" cy="472.8" rx="0.7" ry="0.4" fill="#f3dfe6" opacity="0.61" transform="rotate(60 241.2 472.8)"/>
<ellipse cx="264.0" cy="518.7" rx="0.8" ry="0.3" fill="#f3dfe6" opacity="0.51" transform="rotate(116 264.0 518.7)"/>
<ellipse cx="279.1" cy="536.6" rx="0.6" ry="0.6" fill="#f3dfe6" opacity="0.62" transform="rotate(172 279.1 536.6)"/>
<ellipse cx="291.4" cy="509.9" rx="1.0" ry="0.7" fill="#f3dfe6" opacity="0.78" transform="rotate(174 291.4 509.9)"/>
<ellipse cx="260.2" cy="492.5" rx="0.7" ry="0.6" fill="#f3dfe6" opacity="0.79" transform="rotate(41 260.2 492.5)"/>
<ellipse cx="248.0" cy="453.4" rx="1.0" ry="0.6" fill="#f3dfe6" opacity="0.61" transform="rotate(118 248.0 453.4)"/>
<ellipse cx="288.2" cy="540.6" rx="0.9" ry="0.4" fill="#f3dfe6" opacity="0.54" transform="rotate(18 288.2 540.6)"/>
<ellipse cx="251.3" cy="523.4" rx="0.6" ry="0.5" fill="#f3dfe6" opacity="0.77" transform="rotate(164 251.3 523.4)"/>
<ellipse cx="229.2" cy="486.0" rx="0.5" ry="0.4" fill="#f3dfe6" opacity="0.66" transform="rotate(78 229.2 486.0)"/>
<ellipse cx="299.2" cy="530.1" rx="1.3" ry="0.4" fill="#f3dfe6" opacity="0.78" transform="rotate(163 299.2 530.1)"/>
<ellipse cx="270.9" cy="498.3" rx="0.6" ry="0.4" fill="#f3dfe6" opacity="0.54" transform="rotate(138 270.9 498.3)"/>
<ellipse cx="297.3" cy="490.0" rx="0.8" ry="0.5" fill="#f3dfe6" opacity="0.81" transform="rotate(133 297.3 490.0)"/>
<ellipse cx="297.3" cy="516.3" rx="1.2" ry="0.4" fill="#f3dfe6" opacity="0.68" transform="rotate(57 297.3 516.3)"/>
<ellipse cx="280.5" cy="521.3" rx="0.7" ry="0.5" fill="#f3dfe6" opacity="0.55" transform="rotate(137 280.5 521.3)"/>
<ellipse cx="232.9" cy="471.9" rx="0.6" ry="0.5" fill="#f3dfe6" opacity="0.73" transform="rotate(62 232.9 471.9)"/>
<ellipse cx="255.9" cy="494.8" rx="0.7" ry="0.6" fill="#f3dfe6" opacity="0.82" transform="rotate(95 255.9 494.8)"/>
<ellipse cx="314.5" cy="484.4" rx="1.1" ry="0.3" fill="#f3dfe6" opacity="0.61" transform="rotate(33 314.5 484.4)"/>
<ellipse cx="291.4" cy="490.1" rx="1.2" ry="0.6" fill="#f3dfe6" opacity="0.88" transform="rotate(12 291.4 490.1)"/>
<ellipse cx="238.6" cy="455.4" rx="0.6" ry="0.4" fill="#f3dfe6" opacity="0.77" transform="rotate(73 238.6 455.4)"/>
<ellipse cx="227.2" cy="499.4" rx="1.1" ry="0.3" fill="#f3dfe6" opacity="0.55" transform="rotate(33 227.2 499.4)"/>
<ellipse cx="321.2" cy="489.5" rx="0.7" ry="0.7" fill="#f3dfe6" opacity="0.51" transform="rotate(135 321.2 489.5)"/>
<ellipse cx="274.1" cy="482.8" rx="0.8" ry="0.3" fill="#f3dfe6" opacity="0.73" transform="rotate(41 274.1 482.8)"/>
<ellipse cx="307.3" cy="490.5" rx="1.3" ry="0.6" fill="#f3dfe6" opacity="0.55" transform="rotate(81 307.3 490.5)"/>
<ellipse cx="276.1" cy="470.4" rx="1.0" ry="0.4" fill="#f3dfe6" opacity="0.52" transform="rotate(171 276.1 470.4)"/>
<ellipse cx="334.2" cy="498.5" rx="1.3" ry="0.5" fill="#f3dfe6" opacity="0.54" transform="rotate(107 334.2 498.5)"/>
<ellipse cx="251.2" cy="514.4" rx="0.8" ry="0.5" fill="#f3dfe6" opacity="0.58" transform="rotate(51 251.2 514.4)"/>
<ellipse cx="259.2" cy="496.9" rx="1.1" ry="0.6" fill="#f3dfe6" opacity="0.65" transform="rotate(63 259.2 496.9)"/>
<ellipse cx="319.8" cy="510.5" rx="1.2" ry="0.3" fill="#f3dfe6" opacity="0.70" transform="rotate(89 319.8 510.5)"/>
<ellipse cx="243.3" cy="458.4" rx="1.1" ry="0.7" fill="#f3dfe6" opacity="0.58" transform="rotate(82 243.3 458.4)"/>
<ellipse cx="279.8" cy="492.7" rx="0.9" ry="0.3" fill="#f3dfe6" opacity="0.58" transform="rotate(176 279.8 492.7)"/>
<ellipse cx="224.4" cy="496.5" rx="1.0" ry="0.4" fill="#f3dfe6" opacity="0.66" transform="rotate(81 224.4 496.5)"/>
<ellipse cx="303.6" cy="505.6" rx="0.9" ry="0.5" fill="#f3dfe6" opacity="0.72" transform="rotate(176 303.6 505.6)"/>
<ellipse cx="270.5" cy="540.0" rx="1.2" ry="0.7" fill="#f3dfe6" opacity="0.78" transform="rotate(171 270.5 540.0)"/>
<ellipse cx="230.5" cy="462.8" rx="0.8" ry="0.7" fill="#f3dfe6" opacity="0.51" transform="rotate(133 230.5 462.8)"/>
<ellipse cx="247.7" cy="475.7" rx="0.5" ry="0.6" fill="#f3dfe6" opacity="0.74" transform="rotate(105 247.7 475.7)"/>
<ellipse cx="259.6" cy="535.1" rx="0.7" ry="0.6" fill="#f3dfe6" opacity="0.53" transform="rotate(22 259.6 535.1)"/>
<ellipse cx="302.7" cy="537.6" rx="1.2" ry="0.6" fill="#f3dfe6" opacity="0.84" transform="rotate(155 302.7 537.6)"/>
<ellipse cx="284.5" cy="532.0" rx="0.7" ry="0.7" fill="#f3dfe6" opacity="0.72" transform="rotate(100 284.5 532.0)"/>
<ellipse cx="338.1" cy="511.2" rx="0.8" ry="0.6" fill="#f3dfe6" opacity="0.71" transform="rotate(53 338.1 511.2)"/>
<ellipse cx="331.1" cy="505.9" rx="0.8" ry="0.3" fill="#f3dfe6" opacity="0.78" transform="rotate(141 331.1 505.9)"/>
<ellipse cx="304.8" cy="540.1" rx="0.7" ry="0.3" fill="#f3dfe6" opacity="0.62" transform="rotate(68 304.8 540.1)"/>
<ellipse cx="272.2" cy="466.4" rx="1.0" ry="0.5" fill="#f3dfe6" opacity="0.75" transform="rotate(163 272.2 466.4)"/>
<rect x="322.50" y="537.60" width="13.00" height="1.30" fill="#1a1030" />
</g>
<defs>
<filter id="fRet" x="325.85" y="415.45000000000005" width="160" height="160" filterUnits="userSpaceOnUse" color-interpolation-filters="sRGB">
<feTurbulence type="fractalNoise" baseFrequency="0.25 0.5" numOctaves="2" seed="11"/>
<feColorMatrix type="matrix" values="2.6 0 0 0 -0.8  2.6 0 0 0 -0.8  2.6 0 0 0 -0.8  0 0 0 0 1"/>
<feComponentTransfer>
<feFuncR type="table" tableValues="0.52 0.70 0.82 0.88 0.91"/>
<feFuncG type="table" tableValues="0.24 0.45 0.63 0.75 0.83"/>
<feFuncB type="table" tableValues="0.38 0.57 0.72 0.81 0.87"/>
</feComponentTransfer>
</filter>
<clipPath id="cRet"><rect x="352.3" y="446.3" width="107.09999999999997" height="98.30000000000001"/></clipPath>
</defs>
<g clip-path="url(#cRet)">
<rect x="352.30" y="446.30" width="107.10" height="98.30" fill="#c98fb0" />
<g transform="rotate(-42 405.9 495.5)"><rect x="325.85" y="415.45000000000005" width="160" height="160" filter="url(#fRet)"/></g>
<ellipse cx="401.9" cy="483.0" rx="0.9" ry="0.8" fill="#6c2148" opacity="0.50" transform="rotate(128 401.9 483.0)"/>
<ellipse cx="402.0" cy="505.7" rx="1.0" ry="1.0" fill="#6c2148" opacity="0.75" transform="rotate(97 402.0 505.7)"/>
<ellipse cx="370.4" cy="539.3" rx="1.4" ry="1.1" fill="#6c2148" opacity="0.56" transform="rotate(13 370.4 539.3)"/>
<ellipse cx="364.2" cy="496.1" rx="1.4" ry="1.2" fill="#6c2148" opacity="0.77" transform="rotate(98 364.2 496.1)"/>
<ellipse cx="436.9" cy="533.5" rx="1.4" ry="1.0" fill="#6c2148" opacity="0.58" transform="rotate(107 436.9 533.5)"/>
<ellipse cx="447.6" cy="522.2" rx="1.4" ry="1.1" fill="#6c2148" opacity="0.62" transform="rotate(11 447.6 522.2)"/>
<ellipse cx="373.7" cy="533.4" rx="1.4" ry="0.9" fill="#6c2148" opacity="0.63" transform="rotate(125 373.7 533.4)"/>
<ellipse cx="367.2" cy="469.6" rx="1.3" ry="1.2" fill="#6c2148" opacity="0.84" transform="rotate(0 367.2 469.6)"/>
<ellipse cx="365.3" cy="503.2" rx="1.4" ry="0.9" fill="#6c2148" opacity="0.50" transform="rotate(21 365.3 503.2)"/>
<ellipse cx="366.6" cy="536.5" rx="1.1" ry="0.9" fill="#6c2148" opacity="0.69" transform="rotate(50 366.6 536.5)"/>
<ellipse cx="397.3" cy="485.4" rx="1.2" ry="0.8" fill="#6c2148" opacity="0.70" transform="rotate(44 397.3 485.4)"/>
<ellipse cx="452.9" cy="517.0" rx="0.8" ry="0.6" fill="#6c2148" opacity="0.74" transform="rotate(38 452.9 517.0)"/>
<ellipse cx="432.1" cy="518.7" rx="1.2" ry="0.7" fill="#6c2148" opacity="0.80" transform="rotate(103 432.1 518.7)"/>
<ellipse cx="454.1" cy="469.6" rx="1.2" ry="0.7" fill="#6c2148" opacity="0.63" transform="rotate(172 454.1 469.6)"/>
<ellipse cx="408.2" cy="501.9" rx="1.2" ry="1.2" fill="#6c2148" opacity="0.54" transform="rotate(149 408.2 501.9)"/>
<ellipse cx="391.5" cy="466.9" rx="0.9" ry="0.9" fill="#6c2148" opacity="0.76" transform="rotate(97 391.5 466.9)"/>
<ellipse cx="437.9" cy="478.6" rx="1.1" ry="0.7" fill="#6c2148" opacity="0.66" transform="rotate(83 437.9 478.6)"/>
<ellipse cx="439.6" cy="476.5" rx="1.0" ry="0.8" fill="#6c2148" opacity="0.52" transform="rotate(97 439.6 476.5)"/>
<ellipse cx="435.9" cy="525.7" rx="1.1" ry="1.0" fill="#6c2148" opacity="0.59" transform="rotate(16 435.9 525.7)"/>
<ellipse cx="397.8" cy="469.0" rx="1.4" ry="1.1" fill="#6c2148" opacity="0.63" transform="rotate(143 397.8 469.0)"/>
<ellipse cx="391.9" cy="511.9" rx="0.9" ry="0.9" fill="#6c2148" opacity="0.59" transform="rotate(12 391.9 511.9)"/>
<ellipse cx="452.9" cy="525.9" rx="1.0" ry="0.6" fill="#6c2148" opacity="0.54" transform="rotate(37 452.9 525.9)"/>
<ellipse cx="353.6" cy="452.3" rx="0.9" ry="0.7" fill="#6c2148" opacity="0.71" transform="rotate(90 353.6 452.3)"/>
<ellipse cx="382.8" cy="493.6" rx="1.0" ry="1.0" fill="#6c2148" opacity="0.76" transform="rotate(75 382.8 493.6)"/>
<ellipse cx="426.8" cy="452.7" rx="1.1" ry="1.0" fill="#6c2148" opacity="0.77" transform="rotate(98 426.8 452.7)"/>
<ellipse cx="415.3" cy="525.2" rx="1.2" ry="0.9" fill="#6c2148" opacity="0.71" transform="rotate(155 415.3 525.2)"/>
<ellipse cx="405.3" cy="456.1" rx="0.8" ry="0.7" fill="#6c2148" opacity="0.56" transform="rotate(161 405.3 456.1)"/>
<ellipse cx="440.2" cy="462.2" rx="1.3" ry="1.2" fill="#6c2148" opacity="0.57" transform="rotate(121 440.2 462.2)"/>
<ellipse cx="401.2" cy="501.3" rx="1.1" ry="0.7" fill="#6c2148" opacity="0.67" transform="rotate(67 401.2 501.3)"/>
<ellipse cx="409.6" cy="538.8" rx="0.8" ry="0.8" fill="#6c2148" opacity="0.81" transform="rotate(139 409.6 538.8)"/>
<ellipse cx="385.4" cy="498.1" rx="1.2" ry="1.1" fill="#6c2148" opacity="0.81" transform="rotate(146 385.4 498.1)"/>
<ellipse cx="410.4" cy="475.8" rx="1.3" ry="1.1" fill="#6c2148" opacity="0.54" transform="rotate(179 410.4 475.8)"/>
<ellipse cx="405.0" cy="452.2" rx="1.4" ry="1.2" fill="#6c2148" opacity="0.74" transform="rotate(7 405.0 452.2)"/>
<ellipse cx="392.3" cy="532.7" rx="1.0" ry="0.9" fill="#6c2148" opacity="0.76" transform="rotate(159 392.3 532.7)"/>
<ellipse cx="405.4" cy="470.2" rx="1.2" ry="0.8" fill="#6c2148" opacity="0.52" transform="rotate(104 405.4 470.2)"/>
<ellipse cx="395.9" cy="453.1" rx="0.9" ry="0.8" fill="#6c2148" opacity="0.56" transform="rotate(16 395.9 453.1)"/>
<ellipse cx="355.5" cy="507.7" rx="1.2" ry="0.9" fill="#6c2148" opacity="0.75" transform="rotate(19 355.5 507.7)"/>
<ellipse cx="388.1" cy="523.3" rx="0.8" ry="0.8" fill="#6c2148" opacity="0.71" transform="rotate(98 388.1 523.3)"/>
<ellipse cx="457.9" cy="528.2" rx="0.9" ry="0.6" fill="#6c2148" opacity="0.58" transform="rotate(33 457.9 528.2)"/>
<ellipse cx="372.9" cy="468.0" rx="0.9" ry="0.6" fill="#6c2148" opacity="0.83" transform="rotate(21 372.9 468.0)"/>
<ellipse cx="392.2" cy="519.1" rx="1.1" ry="0.9" fill="#6c2148" opacity="0.63" transform="rotate(162 392.2 519.1)"/>
<ellipse cx="361.0" cy="446.8" rx="1.3" ry="1.1" fill="#6c2148" opacity="0.51" transform="rotate(64 361.0 446.8)"/>
<ellipse cx="453.4" cy="448.5" rx="0.9" ry="0.8" fill="#6c2148" opacity="0.52" transform="rotate(64 453.4 448.5)"/>
<ellipse cx="403.2" cy="477.3" rx="1.4" ry="1.2" fill="#6c2148" opacity="0.74" transform="rotate(33 403.2 477.3)"/>
<ellipse cx="384.4" cy="525.0" rx="1.4" ry="1.3" fill="#6c2148" opacity="0.82" transform="rotate(1 384.4 525.0)"/>
<ellipse cx="446.2" cy="536.7" rx="1.4" ry="0.9" fill="#6c2148" opacity="0.61" transform="rotate(63 446.2 536.7)"/>
<ellipse cx="396.9" cy="477.9" rx="1.2" ry="1.1" fill="#6c2148" opacity="0.81" transform="rotate(110 396.9 477.9)"/>
<ellipse cx="374.7" cy="473.5" rx="1.1" ry="0.9" fill="#6c2148" opacity="0.70" transform="rotate(112 374.7 473.5)"/>
<ellipse cx="393.5" cy="478.7" rx="0.8" ry="0.5" fill="#6c2148" opacity="0.61" transform="rotate(6 393.5 478.7)"/>
<ellipse cx="372.5" cy="516.3" rx="1.2" ry="0.8" fill="#6c2148" opacity="0.72" transform="rotate(86 372.5 516.3)"/>
<ellipse cx="456.7" cy="540.9" rx="1.2" ry="1.2" fill="#6c2148" opacity="0.73" transform="rotate(98 456.7 540.9)"/>
<ellipse cx="374.9" cy="499.6" rx="1.0" ry="0.6" fill="#6c2148" opacity="0.69" transform="rotate(120 374.9 499.6)"/>
<ellipse cx="376.6" cy="517.8" rx="1.3" ry="1.2" fill="#6c2148" opacity="0.68" transform="rotate(118 376.6 517.8)"/>
<ellipse cx="429.1" cy="474.3" rx="1.1" ry="0.7" fill="#6c2148" opacity="0.50" transform="rotate(80 429.1 474.3)"/>
<ellipse cx="356.8" cy="461.0" rx="0.9" ry="0.6" fill="#6c2148" opacity="0.79" transform="rotate(103 356.8 461.0)"/>
<ellipse cx="421.8" cy="485.2" rx="1.4" ry="1.1" fill="#6c2148" opacity="0.55" transform="rotate(176 421.8 485.2)"/>
<ellipse cx="390.6" cy="539.4" rx="0.9" ry="0.9" fill="#6c2148" opacity="0.70" transform="rotate(156 390.6 539.4)"/>
<ellipse cx="435.5" cy="463.8" rx="0.9" ry="0.7" fill="#6c2148" opacity="0.81" transform="rotate(71 435.5 463.8)"/>
<ellipse cx="403.6" cy="531.4" rx="1.2" ry="1.2" fill="#6c2148" opacity="0.76" transform="rotate(69 403.6 531.4)"/>
<ellipse cx="382.8" cy="497.1" rx="1.1" ry="1.1" fill="#6c2148" opacity="0.56" transform="rotate(37 382.8 497.1)"/>
<ellipse cx="432.4" cy="480.5" rx="1.2" ry="1.0" fill="#6c2148" opacity="0.83" transform="rotate(6 432.4 480.5)"/>
<ellipse cx="414.3" cy="499.2" rx="1.4" ry="1.3" fill="#6c2148" opacity="0.66" transform="rotate(87 414.3 499.2)"/>
<ellipse cx="374.9" cy="499.7" rx="1.4" ry="1.0" fill="#6c2148" opacity="0.57" transform="rotate(175 374.9 499.7)"/>
<ellipse cx="413.2" cy="447.3" rx="1.2" ry="0.7" fill="#6c2148" opacity="0.77" transform="rotate(90 413.2 447.3)"/>
<ellipse cx="405.4" cy="452.3" rx="1.3" ry="1.0" fill="#6c2148" opacity="0.66" transform="rotate(161 405.4 452.3)"/>
<ellipse cx="430.1" cy="465.0" rx="0.9" ry="0.6" fill="#6c2148" opacity="0.71" transform="rotate(90 430.1 465.0)"/>
<ellipse cx="380.2" cy="470.6" rx="1.1" ry="0.9" fill="#6c2148" opacity="0.77" transform="rotate(3 380.2 470.6)"/>
<ellipse cx="452.2" cy="499.4" rx="1.2" ry="1.2" fill="#6c2148" opacity="0.56" transform="rotate(14 452.2 499.4)"/>
<ellipse cx="429.0" cy="504.0" rx="1.4" ry="1.2" fill="#6c2148" opacity="0.62" transform="rotate(33 429.0 504.0)"/>
<ellipse cx="387.7" cy="485.2" rx="0.8" ry="0.8" fill="#6c2148" opacity="0.59" transform="rotate(118 387.7 485.2)"/>
<ellipse cx="455.6" cy="450.4" rx="0.9" ry="0.6" fill="#6c2148" opacity="0.70" transform="rotate(51 455.6 450.4)"/>
<ellipse cx="420.5" cy="524.5" rx="1.4" ry="1.1" fill="#6c2148" opacity="0.76" transform="rotate(128 420.5 524.5)"/>
<ellipse cx="368.6" cy="483.6" rx="1.4" ry="1.1" fill="#6c2148" opacity="0.60" transform="rotate(123 368.6 483.6)"/>
<ellipse cx="432.4" cy="528.5" rx="1.2" ry="1.0" fill="#6c2148" opacity="0.68" transform="rotate(127 432.4 528.5)"/>
<ellipse cx="408.0" cy="471.2" rx="1.2" ry="1.2" fill="#6c2148" opacity="0.62" transform="rotate(3 408.0 471.2)"/>
<ellipse cx="459.2" cy="518.9" rx="1.2" ry="1.0" fill="#6c2148" opacity="0.83" transform="rotate(26 459.2 518.9)"/>
<ellipse cx="374.4" cy="447.8" rx="1.1" ry="0.7" fill="#6c2148" opacity="0.61" transform="rotate(57 374.4 447.8)"/>
<ellipse cx="353.5" cy="512.0" rx="1.1" ry="0.8" fill="#6c2148" opacity="0.83" transform="rotate(89 353.5 512.0)"/>
<ellipse cx="386.9" cy="536.2" rx="1.2" ry="0.7" fill="#6c2148" opacity="0.76" transform="rotate(53 386.9 536.2)"/>
<ellipse cx="361.8" cy="467.0" rx="1.0" ry="0.9" fill="#6c2148" opacity="0.65" transform="rotate(90 361.8 467.0)"/>
<ellipse cx="412.0" cy="515.6" rx="0.8" ry="0.7" fill="#6c2148" opacity="0.75" transform="rotate(45 412.0 515.6)"/>
<ellipse cx="358.6" cy="502.6" rx="1.1" ry="1.1" fill="#6c2148" opacity="0.63" transform="rotate(169 358.6 502.6)"/>
<ellipse cx="372.9" cy="509.2" rx="1.3" ry="1.0" fill="#6c2148" opacity="0.64" transform="rotate(41 372.9 509.2)"/>
<ellipse cx="456.6" cy="477.1" rx="1.1" ry="0.8" fill="#6c2148" opacity="0.78" transform="rotate(136 456.6 477.1)"/>
<ellipse cx="397.7" cy="521.0" rx="0.8" ry="0.6" fill="#6c2148" opacity="0.75" transform="rotate(168 397.7 521.0)"/>
<ellipse cx="376.2" cy="471.8" rx="1.1" ry="0.7" fill="#6c2148" opacity="0.83" transform="rotate(104 376.2 471.8)"/>
<ellipse cx="406.8" cy="518.1" rx="0.8" ry="0.5" fill="#6c2148" opacity="0.75" transform="rotate(82 406.8 518.1)"/>
<ellipse cx="397.6" cy="448.2" rx="1.1" ry="0.8" fill="#6c2148" opacity="0.83" transform="rotate(149 397.6 448.2)"/>
<ellipse cx="454.8" cy="542.7" rx="0.9" ry="0.6" fill="#6c2148" opacity="0.60" transform="rotate(2 454.8 542.7)"/>
<ellipse cx="407.9" cy="504.6" rx="0.8" ry="0.6" fill="#6c2148" opacity="0.54" transform="rotate(129 407.9 504.6)"/>
<ellipse cx="381.7" cy="541.6" rx="0.9" ry="0.9" fill="#6c2148" opacity="0.68" transform="rotate(169 381.7 541.6)"/>
<ellipse cx="385.3" cy="530.8" rx="1.1" ry="0.7" fill="#6c2148" opacity="0.61" transform="rotate(72 385.3 530.8)"/>
<ellipse cx="422.3" cy="493.0" rx="1.3" ry="1.1" fill="#6c2148" opacity="0.61" transform="rotate(174 422.3 493.0)"/>
<ellipse cx="406.5" cy="530.9" rx="0.8" ry="0.7" fill="#6c2148" opacity="0.75" transform="rotate(22 406.5 530.9)"/>
<ellipse cx="361.0" cy="520.4" rx="1.3" ry="1.0" fill="#6c2148" opacity="0.78" transform="rotate(41 361.0 520.4)"/>
<ellipse cx="415.2" cy="498.7" rx="0.9" ry="0.8" fill="#6c2148" opacity="0.74" transform="rotate(137 415.2 498.7)"/>
<ellipse cx="405.5" cy="457.7" rx="1.1" ry="1.0" fill="#6c2148" opacity="0.65" transform="rotate(149 405.5 457.7)"/>
<ellipse cx="360.8" cy="541.2" rx="1.3" ry="1.1" fill="#6c2148" opacity="0.56" transform="rotate(1 360.8 541.2)"/>
<ellipse cx="442.7" cy="478.7" rx="1.3" ry="1.2" fill="#6c2148" opacity="0.83" transform="rotate(95 442.7 478.7)"/>
<ellipse cx="387.0" cy="463.6" rx="1.3" ry="0.9" fill="#6c2148" opacity="0.75" transform="rotate(84 387.0 463.6)"/>
<ellipse cx="403.4" cy="532.9" rx="1.0" ry="0.9" fill="#6c2148" opacity="0.82" transform="rotate(144 403.4 532.9)"/>
<ellipse cx="379.7" cy="524.4" rx="1.2" ry="1.1" fill="#6c2148" opacity="0.52" transform="rotate(105 379.7 524.4)"/>
<ellipse cx="377.2" cy="475.2" rx="1.0" ry="0.8" fill="#6c2148" opacity="0.85" transform="rotate(42 377.2 475.2)"/>
<ellipse cx="441.4" cy="533.1" rx="1.2" ry="0.7" fill="#6c2148" opacity="0.77" transform="rotate(73 441.4 533.1)"/>
<ellipse cx="353.3" cy="533.7" rx="1.3" ry="1.0" fill="#6c2148" opacity="0.56" transform="rotate(22 353.3 533.7)"/>
<ellipse cx="380.8" cy="543.2" rx="0.9" ry="0.8" fill="#6c2148" opacity="0.56" transform="rotate(161 380.8 543.2)"/>
<ellipse cx="392.2" cy="468.2" rx="1.3" ry="1.2" fill="#6c2148" opacity="0.76" transform="rotate(126 392.2 468.2)"/>
<ellipse cx="412.6" cy="465.4" rx="1.4" ry="1.2" fill="#6c2148" opacity="0.66" transform="rotate(103 412.6 465.4)"/>
<ellipse cx="426.9" cy="471.4" rx="1.4" ry="1.3" fill="#6c2148" opacity="0.56" transform="rotate(5 426.9 471.4)"/>
<ellipse cx="417.2" cy="483.8" rx="1.1" ry="0.7" fill="#6c2148" opacity="0.54" transform="rotate(157 417.2 483.8)"/>
<ellipse cx="393.9" cy="500.0" rx="1.3" ry="0.9" fill="#6c2148" opacity="0.62" transform="rotate(60 393.9 500.0)"/>
<ellipse cx="390.7" cy="537.8" rx="0.9" ry="0.5" fill="#6c2148" opacity="0.63" transform="rotate(118 390.7 537.8)"/>
<ellipse cx="453.7" cy="509.8" rx="1.2" ry="1.0" fill="#6c2148" opacity="0.73" transform="rotate(1 453.7 509.8)"/>
<ellipse cx="419.4" cy="471.5" rx="1.2" ry="0.8" fill="#6c2148" opacity="0.52" transform="rotate(52 419.4 471.5)"/>
<ellipse cx="380.9" cy="462.1" rx="1.3" ry="0.9" fill="#6c2148" opacity="0.58" transform="rotate(38 380.9 462.1)"/>
<ellipse cx="438.5" cy="448.0" rx="1.2" ry="1.1" fill="#6c2148" opacity="0.72" transform="rotate(103 438.5 448.0)"/>
<ellipse cx="366.1" cy="516.5" rx="1.2" ry="1.0" fill="#6c2148" opacity="0.67" transform="rotate(106 366.1 516.5)"/>
<ellipse cx="368.2" cy="456.9" rx="1.1" ry="0.7" fill="#6c2148" opacity="0.69" transform="rotate(1 368.2 456.9)"/>
<ellipse cx="391.7" cy="533.9" rx="1.2" ry="1.0" fill="#6c2148" opacity="0.73" transform="rotate(0 391.7 533.9)"/>
<ellipse cx="376.9" cy="493.5" rx="1.2" ry="0.8" fill="#6c2148" opacity="0.73" transform="rotate(90 376.9 493.5)"/>
<ellipse cx="453.4" cy="473.5" rx="0.9" ry="0.7" fill="#6c2148" opacity="0.51" transform="rotate(60 453.4 473.5)"/>
<ellipse cx="443.2" cy="465.1" rx="1.3" ry="1.1" fill="#6c2148" opacity="0.75" transform="rotate(5 443.2 465.1)"/>
<ellipse cx="443.4" cy="516.4" rx="0.8" ry="0.7" fill="#6c2148" opacity="0.57" transform="rotate(164 443.4 516.4)"/>
<ellipse cx="384.8" cy="453.4" rx="1.2" ry="1.1" fill="#6c2148" opacity="0.74" transform="rotate(131 384.8 453.4)"/>
<ellipse cx="374.2" cy="455.5" rx="0.9" ry="0.6" fill="#6c2148" opacity="0.79" transform="rotate(47 374.2 455.5)"/>
<ellipse cx="429.2" cy="511.5" rx="1.2" ry="0.8" fill="#6c2148" opacity="0.82" transform="rotate(68 429.2 511.5)"/>
<ellipse cx="434.5" cy="471.6" rx="0.8" ry="0.6" fill="#6c2148" opacity="0.53" transform="rotate(36 434.5 471.6)"/>
<ellipse cx="434.2" cy="514.8" rx="1.4" ry="1.4" fill="#6c2148" opacity="0.70" transform="rotate(45 434.2 514.8)"/>
<ellipse cx="355.1" cy="451.5" rx="0.8" ry="0.7" fill="#6c2148" opacity="0.75" transform="rotate(33 355.1 451.5)"/>
<ellipse cx="373.0" cy="460.3" rx="1.3" ry="1.1" fill="#6c2148" opacity="0.69" transform="rotate(81 373.0 460.3)"/>
<ellipse cx="458.8" cy="505.2" rx="1.2" ry="0.8" fill="#6c2148" opacity="0.66" transform="rotate(69 458.8 505.2)"/>
<ellipse cx="399.7" cy="492.6" rx="0.9" ry="0.7" fill="#6c2148" opacity="0.66" transform="rotate(108 399.7 492.6)"/>
<ellipse cx="392.3" cy="464.7" rx="1.1" ry="0.7" fill="#6c2148" opacity="0.51" transform="rotate(16 392.3 464.7)"/>
<ellipse cx="440.4" cy="453.2" rx="1.0" ry="0.9" fill="#6c2148" opacity="0.54" transform="rotate(70 440.4 453.2)"/>
<ellipse cx="399.5" cy="467.2" rx="1.3" ry="1.0" fill="#6c2148" opacity="0.60" transform="rotate(101 399.5 467.2)"/>
<ellipse cx="441.1" cy="496.8" rx="1.0" ry="0.7" fill="#6c2148" opacity="0.52" transform="rotate(11 441.1 496.8)"/>
<ellipse cx="444.1" cy="479.0" rx="1.4" ry="1.3" fill="#6c2148" opacity="0.78" transform="rotate(116 444.1 479.0)"/>
<ellipse cx="457.9" cy="487.1" rx="1.0" ry="1.0" fill="#6c2148" opacity="0.73" transform="rotate(85 457.9 487.1)"/>
<ellipse cx="371.8" cy="517.9" rx="1.1" ry="0.7" fill="#6c2148" opacity="0.52" transform="rotate(67 371.8 517.9)"/>
<ellipse cx="401.2" cy="448.9" rx="1.4" ry="1.4" fill="#6c2148" opacity="0.52" transform="rotate(109 401.2 448.9)"/>
<ellipse cx="363.5" cy="451.8" rx="1.1" ry="0.8" fill="#6c2148" opacity="0.53" transform="rotate(132 363.5 451.8)"/>
<ellipse cx="383.8" cy="470.6" rx="1.3" ry="1.2" fill="#6c2148" opacity="0.64" transform="rotate(12 383.8 470.6)"/>
<ellipse cx="432.8" cy="488.4" rx="1.0" ry="0.8" fill="#6c2148" opacity="0.76" transform="rotate(160 432.8 488.4)"/>
<ellipse cx="428.3" cy="538.8" rx="1.1" ry="0.9" fill="#6c2148" opacity="0.67" transform="rotate(80 428.3 538.8)"/>
<ellipse cx="372.4" cy="458.3" rx="1.0" ry="0.8" fill="#6c2148" opacity="0.64" transform="rotate(161 372.4 458.3)"/>
<ellipse cx="359.0" cy="487.7" rx="1.2" ry="1.2" fill="#6c2148" opacity="0.57" transform="rotate(94 359.0 487.7)"/>
<ellipse cx="448.7" cy="470.4" rx="1.2" ry="0.9" fill="#6c2148" opacity="0.82" transform="rotate(74 448.7 470.4)"/>
<ellipse cx="359.5" cy="504.6" rx="1.0" ry="0.8" fill="#6c2148" opacity="0.57" transform="rotate(52 359.5 504.6)"/>
<ellipse cx="406.5" cy="478.1" rx="1.2" ry="1.0" fill="#6c2148" opacity="0.56" transform="rotate(15 406.5 478.1)"/>
<ellipse cx="360.4" cy="452.0" rx="1.1" ry="1.0" fill="#6c2148" opacity="0.82" transform="rotate(159 360.4 452.0)"/>
<ellipse cx="376.0" cy="459.9" rx="1.0" ry="0.7" fill="#6c2148" opacity="0.76" transform="rotate(88 376.0 459.9)"/>
<ellipse cx="450.9" cy="462.8" rx="0.9" ry="0.6" fill="#6c2148" opacity="0.50" transform="rotate(53 450.9 462.8)"/>
<ellipse cx="405.9" cy="521.0" rx="1.2" ry="1.1" fill="#6c2148" opacity="0.64" transform="rotate(15 405.9 521.0)"/>
<ellipse cx="385.2" cy="456.1" rx="0.8" ry="0.8" fill="#6c2148" opacity="0.77" transform="rotate(128 385.2 456.1)"/>
<ellipse cx="437.9" cy="468.5" rx="1.0" ry="0.7" fill="#6c2148" opacity="0.80" transform="rotate(0 437.9 468.5)"/>
<ellipse cx="386.9" cy="454.2" rx="1.4" ry="1.1" fill="#6c2148" opacity="0.84" transform="rotate(25 386.9 454.2)"/>
<ellipse cx="370.4" cy="467.9" rx="1.1" ry="0.7" fill="#6c2148" opacity="0.79" transform="rotate(119 370.4 467.9)"/>
<ellipse cx="431.9" cy="509.4" rx="1.1" ry="1.1" fill="#6c2148" opacity="0.80" transform="rotate(98 431.9 509.4)"/>
<ellipse cx="378.7" cy="496.8" rx="1.2" ry="1.0" fill="#6c2148" opacity="0.69" transform="rotate(148 378.7 496.8)"/>
<ellipse cx="357.8" cy="498.9" rx="1.1" ry="1.0" fill="#6c2148" opacity="0.54" transform="rotate(87 357.8 498.9)"/>
<ellipse cx="361.0" cy="450.9" rx="0.8" ry="0.8" fill="#6c2148" opacity="0.56" transform="rotate(175 361.0 450.9)"/>
<ellipse cx="411.0" cy="485.0" rx="1.3" ry="1.1" fill="#6c2148" opacity="0.59" transform="rotate(173 411.0 485.0)"/>
<ellipse cx="452.1" cy="543.1" rx="1.3" ry="0.9" fill="#6c2148" opacity="0.56" transform="rotate(48 452.1 543.1)"/>
<ellipse cx="400.7" cy="521.4" rx="0.8" ry="0.6" fill="#6c2148" opacity="0.68" transform="rotate(83 400.7 521.4)"/>
<ellipse cx="399.0" cy="448.7" rx="0.9" ry="0.8" fill="#6c2148" opacity="0.53" transform="rotate(64 399.0 448.7)"/>
<ellipse cx="386.1" cy="516.7" rx="1.0" ry="0.9" fill="#6c2148" opacity="0.81" transform="rotate(4 386.1 516.7)"/>
<ellipse cx="419.1" cy="457.8" rx="1.0" ry="0.7" fill="#6c2148" opacity="0.53" transform="rotate(151 419.1 457.8)"/>
<ellipse cx="369.5" cy="511.0" rx="1.2" ry="0.8" fill="#6c2148" opacity="0.79" transform="rotate(84 369.5 511.0)"/>
<ellipse cx="360.3" cy="492.7" rx="1.2" ry="0.7" fill="#6c2148" opacity="0.68" transform="rotate(77 360.3 492.7)"/>
<ellipse cx="387.9" cy="494.9" rx="1.4" ry="1.3" fill="#6c2148" opacity="0.83" transform="rotate(23 387.9 494.9)"/>
<ellipse cx="389.5" cy="456.8" rx="1.2" ry="1.2" fill="#6c2148" opacity="0.61" transform="rotate(174 389.5 456.8)"/>
<ellipse cx="415.4" cy="491.4" rx="1.1" ry="0.9" fill="#6c2148" opacity="0.70" transform="rotate(38 415.4 491.4)"/>
<ellipse cx="450.0" cy="453.9" rx="1.1" ry="0.7" fill="#6c2148" opacity="0.69" transform="rotate(96 450.0 453.9)"/>
<ellipse cx="434.5" cy="488.4" rx="1.2" ry="0.8" fill="#6c2148" opacity="0.58" transform="rotate(26 434.5 488.4)"/>
<ellipse cx="432.6" cy="521.8" rx="1.1" ry="0.7" fill="#6c2148" opacity="0.77" transform="rotate(75 432.6 521.8)"/>
<ellipse cx="386.3" cy="507.8" rx="0.9" ry="0.9" fill="#6c2148" opacity="0.75" transform="rotate(16 386.3 507.8)"/>
<ellipse cx="405.3" cy="508.2" rx="1.1" ry="0.9" fill="#6c2148" opacity="0.63" transform="rotate(174 405.3 508.2)"/>
<ellipse cx="428.2" cy="498.6" rx="1.0" ry="0.7" fill="#6c2148" opacity="0.76" transform="rotate(180 428.2 498.6)"/>
<ellipse cx="433.3" cy="522.4" rx="1.1" ry="0.9" fill="#6c2148" opacity="0.57" transform="rotate(167 433.3 522.4)"/>
<ellipse cx="408.6" cy="539.1" rx="0.8" ry="0.8" fill="#6c2148" opacity="0.82" transform="rotate(40 408.6 539.1)"/>
<ellipse cx="421.6" cy="461.3" rx="1.4" ry="1.2" fill="#6c2148" opacity="0.78" transform="rotate(37 421.6 461.3)"/>
<ellipse cx="368.2" cy="542.6" rx="1.1" ry="0.9" fill="#6c2148" opacity="0.65" transform="rotate(38 368.2 542.6)"/>
<ellipse cx="442.4" cy="488.2" rx="1.1" ry="1.0" fill="#6c2148" opacity="0.70" transform="rotate(137 442.4 488.2)"/>
<ellipse cx="357.6" cy="515.4" rx="1.4" ry="1.3" fill="#6c2148" opacity="0.54" transform="rotate(85 357.6 515.4)"/>
<ellipse cx="412.8" cy="449.7" rx="1.3" ry="1.1" fill="#6c2148" opacity="0.59" transform="rotate(39 412.8 449.7)"/>
<ellipse cx="450.3" cy="528.6" rx="1.0" ry="0.9" fill="#6c2148" opacity="0.81" transform="rotate(2 450.3 528.6)"/>
<ellipse cx="424.7" cy="481.7" rx="1.3" ry="1.2" fill="#6c2148" opacity="0.78" transform="rotate(48 424.7 481.7)"/>
<ellipse cx="378.5" cy="483.3" rx="1.4" ry="1.2" fill="#6c2148" opacity="0.54" transform="rotate(114 378.5 483.3)"/>
<ellipse cx="389.4" cy="527.4" rx="1.1" ry="1.1" fill="#6c2148" opacity="0.69" transform="rotate(90 389.4 527.4)"/>
<ellipse cx="429.5" cy="486.2" rx="1.3" ry="1.1" fill="#6c2148" opacity="0.58" transform="rotate(172 429.5 486.2)"/>
<ellipse cx="387.6" cy="460.6" rx="1.4" ry="1.3" fill="#6c2148" opacity="0.77" transform="rotate(44 387.6 460.6)"/>
<ellipse cx="451.0" cy="473.3" rx="0.8" ry="0.7" fill="#6c2148" opacity="0.70" transform="rotate(86 451.0 473.3)"/>
<ellipse cx="446.4" cy="447.9" rx="1.2" ry="0.8" fill="#6c2148" opacity="0.73" transform="rotate(1 446.4 447.9)"/>
<ellipse cx="399.2" cy="529.4" rx="1.1" ry="1.0" fill="#6c2148" opacity="0.76" transform="rotate(129 399.2 529.4)"/>
<ellipse cx="401.3" cy="542.3" rx="0.9" ry="0.6" fill="#6c2148" opacity="0.73" transform="rotate(154 401.3 542.3)"/>
<ellipse cx="438.1" cy="541.5" rx="1.2" ry="0.9" fill="#6c2148" opacity="0.84" transform="rotate(171 438.1 541.5)"/>
<ellipse cx="376.2" cy="463.0" rx="1.3" ry="1.0" fill="#6c2148" opacity="0.65" transform="rotate(161 376.2 463.0)"/>
<ellipse cx="405.8" cy="485.7" rx="1.1" ry="0.9" fill="#6c2148" opacity="0.66" transform="rotate(163 405.8 485.7)"/>
<ellipse cx="453.0" cy="455.0" rx="1.4" ry="1.2" fill="#6c2148" opacity="0.65" transform="rotate(9 453.0 455.0)"/>
<ellipse cx="359.4" cy="510.8" rx="1.4" ry="1.1" fill="#6c2148" opacity="0.74" transform="rotate(161 359.4 510.8)"/>
<ellipse cx="410.2" cy="533.1" rx="1.0" ry="1.0" fill="#6c2148" opacity="0.57" transform="rotate(100 410.2 533.1)"/>
<ellipse cx="417.1" cy="476.2" rx="1.2" ry="0.9" fill="#6c2148" opacity="0.52" transform="rotate(58 417.1 476.2)"/>
<ellipse cx="443.4" cy="456.5" rx="1.4" ry="1.3" fill="#6c2148" opacity="0.79" transform="rotate(102 443.4 456.5)"/>
<ellipse cx="425.4" cy="535.3" rx="1.2" ry="1.1" fill="#6c2148" opacity="0.62" transform="rotate(70 425.4 535.3)"/>
<ellipse cx="421.4" cy="509.3" rx="1.1" ry="0.7" fill="#6c2148" opacity="0.77" transform="rotate(46 421.4 509.3)"/>
<ellipse cx="392.3" cy="466.7" rx="1.1" ry="1.0" fill="#6c2148" opacity="0.70" transform="rotate(169 392.3 466.7)"/>
<ellipse cx="407.3" cy="465.6" rx="1.0" ry="0.7" fill="#6c2148" opacity="0.51" transform="rotate(81 407.3 465.6)"/>
<ellipse cx="417.4" cy="544.5" rx="1.2" ry="0.9" fill="#6c2148" opacity="0.73" transform="rotate(23 417.4 544.5)"/>
<ellipse cx="452.5" cy="528.0" rx="1.3" ry="0.8" fill="#6c2148" opacity="0.80" transform="rotate(156 452.5 528.0)"/>
<ellipse cx="418.5" cy="530.3" rx="1.0" ry="0.8" fill="#6c2148" opacity="0.51" transform="rotate(61 418.5 530.3)"/>
<ellipse cx="395.7" cy="512.5" rx="0.8" ry="0.6" fill="#6c2148" opacity="0.77" transform="rotate(99 395.7 512.5)"/>
<ellipse cx="380.2" cy="527.1" rx="1.4" ry="1.2" fill="#6c2148" opacity="0.73" transform="rotate(161 380.2 527.1)"/>
<ellipse cx="426.9" cy="511.1" rx="1.0" ry="0.9" fill="#6c2148" opacity="0.68" transform="rotate(180 426.9 511.1)"/>
<ellipse cx="384.7" cy="518.6" rx="0.9" ry="0.6" fill="#6c2148" opacity="0.57" transform="rotate(74 384.7 518.6)"/>
<ellipse cx="444.2" cy="495.8" rx="1.1" ry="0.9" fill="#6c2148" opacity="0.56" transform="rotate(61 444.2 495.8)"/>
<ellipse cx="363.4" cy="484.7" rx="1.3" ry="1.0" fill="#6c2148" opacity="0.71" transform="rotate(152 363.4 484.7)"/>
<ellipse cx="416.9" cy="483.9" rx="0.9" ry="0.7" fill="#6c2148" opacity="0.68" transform="rotate(22 416.9 483.9)"/>
<ellipse cx="355.9" cy="449.3" rx="1.1" ry="0.7" fill="#6c2148" opacity="0.75" transform="rotate(12 355.9 449.3)"/>
<ellipse cx="449.2" cy="543.3" rx="1.4" ry="1.0" fill="#6c2148" opacity="0.70" transform="rotate(33 449.2 543.3)"/>
<ellipse cx="436.0" cy="527.0" rx="0.8" ry="0.6" fill="#6c2148" opacity="0.52" transform="rotate(108 436.0 527.0)"/>
<ellipse cx="376.1" cy="507.0" rx="1.4" ry="1.3" fill="#6c2148" opacity="0.83" transform="rotate(67 376.1 507.0)"/>
<ellipse cx="358.7" cy="526.5" rx="1.4" ry="1.2" fill="#6c2148" opacity="0.54" transform="rotate(141 358.7 526.5)"/>
<ellipse cx="412.0" cy="519.3" rx="1.0" ry="0.9" fill="#6c2148" opacity="0.71" transform="rotate(71 412.0 519.3)"/>
<ellipse cx="377.7" cy="531.1" rx="0.9" ry="0.6" fill="#6c2148" opacity="0.63" transform="rotate(112 377.7 531.1)"/>
<ellipse cx="405.2" cy="519.4" rx="1.1" ry="0.7" fill="#6c2148" opacity="0.54" transform="rotate(123 405.2 519.4)"/>
<ellipse cx="390.2" cy="517.4" rx="1.0" ry="0.7" fill="#6c2148" opacity="0.74" transform="rotate(153 390.2 517.4)"/>
<ellipse cx="390.8" cy="511.6" rx="0.9" ry="0.6" fill="#6c2148" opacity="0.65" transform="rotate(136 390.8 511.6)"/>
<ellipse cx="433.2" cy="484.3" rx="1.0" ry="0.8" fill="#6c2148" opacity="0.66" transform="rotate(63 433.2 484.3)"/>
<ellipse cx="435.6" cy="492.6" rx="1.2" ry="1.0" fill="#6c2148" opacity="0.62" transform="rotate(171 435.6 492.6)"/>
<ellipse cx="434.1" cy="541.7" rx="1.3" ry="1.1" fill="#6c2148" opacity="0.68" transform="rotate(47 434.1 541.7)"/>
<ellipse cx="455.3" cy="485.9" rx="1.0" ry="0.9" fill="#6c2148" opacity="0.82" transform="rotate(63 455.3 485.9)"/>
<ellipse cx="441.1" cy="492.7" rx="1.3" ry="0.9" fill="#6c2148" opacity="0.85" transform="rotate(60 441.1 492.7)"/>
<ellipse cx="421.3" cy="520.5" rx="1.4" ry="1.4" fill="#6c2148" opacity="0.70" transform="rotate(178 421.3 520.5)"/>
<ellipse cx="354.1" cy="532.5" rx="1.2" ry="0.8" fill="#6c2148" opacity="0.62" transform="rotate(98 354.1 532.5)"/>
<ellipse cx="369.3" cy="521.5" rx="1.3" ry="1.3" fill="#6c2148" opacity="0.53" transform="rotate(120 369.3 521.5)"/>
<ellipse cx="397.3" cy="483.2" rx="1.0" ry="0.7" fill="#6c2148" opacity="0.76" transform="rotate(14 397.3 483.2)"/>
<ellipse cx="425.6" cy="485.3" rx="1.3" ry="1.0" fill="#6c2148" opacity="0.74" transform="rotate(3 425.6 485.3)"/>
<ellipse cx="410.8" cy="517.8" rx="0.9" ry="0.8" fill="#6c2148" opacity="0.59" transform="rotate(2 410.8 517.8)"/>
<ellipse cx="365.5" cy="521.6" rx="0.9" ry="0.7" fill="#6c2148" opacity="0.57" transform="rotate(84 365.5 521.6)"/>
<ellipse cx="436.3" cy="496.8" rx="1.2" ry="1.1" fill="#6c2148" opacity="0.58" transform="rotate(96 436.3 496.8)"/>
<ellipse cx="372" cy="488" rx="6" ry="3.5" fill="#ddd3da" opacity="0.7"/>
<ellipse cx="371" cy="525" rx="7" ry="3.5" fill="#ddd3da" opacity="0.7"/>
<ellipse cx="420" cy="512" rx="5" ry="3" fill="#ddd3da" opacity="0.7"/>
<ellipse cx="455" cy="486" rx="4" ry="3.5" fill="#ddd3da" opacity="0.7"/>
<ellipse cx="366" cy="462" rx="4" ry="2.5" fill="#ddd3da" opacity="0.7"/>
<ellipse cx="432" cy="470" rx="4" ry="2.5" fill="#ddd3da" opacity="0.7"/>
<ellipse cx="400" cy="536" rx="5" ry="3" fill="#ddd3da" opacity="0.7"/>
<rect x="358.00" y="538.20" width="9.00" height="1.20" fill="#1a1020" />
</g>
<text transform="translate(17.30 569.80) scale(1.1 1)" font-size="9.9" text-anchor="start" fill="#111" font-weight="bold" font-style="normal"  stroke="#111" stroke-width="0.3">J</text>
<line x1="44.60" y1="575.70" x2="44.60" y2="639.30" stroke="#111" stroke-width="1.25" />
<line x1="44.10" y1="639.30" x2="90.30" y2="639.30" stroke="#111" stroke-width="1.25" />
<line x1="42.00" y1="578.40" x2="44.60" y2="578.40" stroke="#2a2a2a" stroke-width="0.8" />
<text transform="translate(39.00 580.70)" font-size="6.4" text-anchor="end" fill="#333" font-weight="normal" font-style="normal"  stroke="#333" stroke-width="0.08">5</text>
<line x1="42.00" y1="590.60" x2="44.60" y2="590.60" stroke="#2a2a2a" stroke-width="0.8" />
<text transform="translate(39.00 592.90)" font-size="6.4" text-anchor="end" fill="#333" font-weight="normal" font-style="normal"  stroke="#333" stroke-width="0.08">4</text>
<line x1="42.00" y1="602.90" x2="44.60" y2="602.90" stroke="#2a2a2a" stroke-width="0.8" />
<text transform="translate(39.00 605.20)" font-size="6.4" text-anchor="end" fill="#333" font-weight="normal" font-style="normal"  stroke="#333" stroke-width="0.08">3</text>
<line x1="42.00" y1="615.10" x2="44.60" y2="615.10" stroke="#2a2a2a" stroke-width="0.8" />
<text transform="translate(39.00 617.40)" font-size="6.4" text-anchor="end" fill="#333" font-weight="normal" font-style="normal"  stroke="#333" stroke-width="0.08">2</text>
<line x1="42.00" y1="627.20" x2="44.60" y2="627.20" stroke="#2a2a2a" stroke-width="0.8" />
<text transform="translate(39.00 629.50)" font-size="6.4" text-anchor="end" fill="#333" font-weight="normal" font-style="normal"  stroke="#333" stroke-width="0.08">1</text>
<line x1="42.00" y1="639.30" x2="44.60" y2="639.30" stroke="#2a2a2a" stroke-width="0.8" />
<text transform="translate(39.00 641.60)" font-size="6.4" text-anchor="end" fill="#333" font-weight="normal" font-style="normal"  stroke="#333" stroke-width="0.08">0</text>
<text transform="translate(30.60 622.50) rotate(-90)" font-size="7.2" text-anchor="start" fill="#4a4a4a" font-weight="normal" font-style="normal"  stroke="#4a4a4a" stroke-width="0.08" textLength="30.00" lengthAdjust="spacingAndGlyphs">Weight (g)</text>
<line x1="52.90" y1="567.40" x2="80.30" y2="567.40" stroke="#3a3a3a" stroke-width="1.15" />
<text transform="translate(66.60 568.20)" font-size="7.2" text-anchor="middle" fill="#333" font-weight="normal" font-style="normal"  stroke="#333" stroke-width="0.08">****</text>
<line x1="52.90" y1="579.00" x2="66.20" y2="579.00" stroke="#3a3a3a" stroke-width="1.15" />
<text transform="translate(59.55 579.80)" font-size="7.2" text-anchor="middle" fill="#333" font-weight="normal" font-style="normal"  stroke="#333" stroke-width="0.08">****</text>
<circle cx="51.16" cy="638.08" r="1.2" fill="#36445e" />
<circle cx="55.72" cy="637.84" r="1.2" fill="#36445e" />
<circle cx="55.19" cy="638.20" r="1.2" fill="#36445e" />
<circle cx="51.93" cy="637.96" r="1.2" fill="#36445e" />
<circle cx="53.47" cy="638.08" r="1.2" fill="#36445e" />
<circle cx="53.18" cy="638.32" r="1.2" fill="#36445e" />
<circle cx="54.47" cy="637.84" r="1.2" fill="#36445e" />
<circle cx="55.35" cy="638.08" r="1.2" fill="#36445e" />
<circle cx="50.90" cy="637.96" r="1.2" fill="#36445e" />
<circle cx="50.48" cy="638.20" r="1.2" fill="#36445e" />
<line x1="50.00" y1="638.08" x2="57.00" y2="638.08" stroke="#36445e" stroke-width="0.7" />
<line x1="67.00" y1="604.70" x2="67.00" y2="636.00" stroke="#3aa5dd" stroke-width="0.95" />
<line x1="62.00" y1="620.30" x2="72.00" y2="620.30" stroke="#3aa5dd" stroke-width="0.95" />
<line x1="63.80" y1="604.70" x2="70.20" y2="604.70" stroke="#3aa5dd" stroke-width="0.95" />
<line x1="63.80" y1="636.00" x2="70.20" y2="636.00" stroke="#3aa5dd" stroke-width="0.95" />
<path d="M66.37 584.07 L67.84 586.71 L64.90 586.71Z" fill="#3aa5dd" stroke="none" stroke-width="1" />
<rect x="66.01" y="586.96" width="2.20" height="2.20" fill="#3aa5dd" />
<circle cx="66.69" cy="591.72" r="1.25" fill="#3aa5dd" />
<path d="M67.25 592.61 L68.72 595.25 L65.78 595.25Z" fill="#3aa5dd" stroke="none" stroke-width="1" />
<rect x="66.20" y="595.50" width="2.20" height="2.20" fill="#3aa5dd" />
<circle cx="65.96" cy="602.70" r="1.25" fill="#3aa5dd" />
<path d="M65.83 602.37 L67.30 605.00 L64.36 605.00Z" fill="#3aa5dd" stroke="none" stroke-width="1" />
<rect x="66.71" y="604.04" width="2.20" height="2.20" fill="#3aa5dd" />
<circle cx="66.42" cy="610.02" r="1.25" fill="#3aa5dd" />
<path d="M66.36 610.91 L67.83 613.54 L64.89 613.54Z" fill="#3aa5dd" stroke="none" stroke-width="1" />
<rect x="67.09" y="613.80" width="2.20" height="2.20" fill="#3aa5dd" />
<circle cx="66.93" cy="617.34" r="1.25" fill="#3aa5dd" />
<path d="M67.81 618.23 L69.28 620.87 L66.34 620.87Z" fill="#3aa5dd" stroke="none" stroke-width="1" />
<rect x="65.84" y="619.90" width="2.20" height="2.20" fill="#3aa5dd" />
<circle cx="67.33" cy="623.44" r="1.25" fill="#3aa5dd" />
<path d="M66.16 624.33 L67.63 626.97 L64.69 626.97Z" fill="#3aa5dd" stroke="none" stroke-width="1" />
<rect x="66.22" y="626.00" width="2.20" height="2.20" fill="#3aa5dd" />
<circle cx="67.88" cy="629.54" r="1.25" fill="#3aa5dd" />
<path d="M67.17 630.43 L68.64 633.06 L65.69 633.06Z" fill="#3aa5dd" stroke="none" stroke-width="1" />
<rect x="67.64" y="632.10" width="2.20" height="2.20" fill="#3aa5dd" />
<circle cx="68.23" cy="634.42" r="1.25" fill="#3aa5dd" />
<path d="M63.86 633.48 L65.33 636.12 L62.39 636.12Z" fill="#3aa5dd" stroke="none" stroke-width="1" />
<rect x="67.76" y="634.54" width="2.20" height="2.20" fill="#3aa5dd" />
<circle cx="67.66" cy="635.88" r="1.25" fill="#3aa5dd" />
<path d="M65.57 634.70 L67.04 637.34 L64.10 637.34Z" fill="#3aa5dd" stroke="none" stroke-width="1" />
<rect x="62.52" y="635.52" width="2.20" height="2.20" fill="#3aa5dd" />
<circle cx="69.63" cy="636.86" r="1.25" fill="#3aa5dd" />
<path d="M66.80 635.31 L68.28 637.94 L65.33 637.94Z" fill="#3aa5dd" stroke="none" stroke-width="1" />
<rect x="67.48" y="636.00" width="2.20" height="2.20" fill="#3aa5dd" />
<circle cx="69.73" cy="637.47" r="1.25" fill="#3aa5dd" />
<path d="M68.54 635.92 L70.01 638.55 L67.07 638.55Z" fill="#3aa5dd" stroke="none" stroke-width="1" />
<rect x="68.93" y="636.74" width="2.20" height="2.20" fill="#3aa5dd" />
<circle cx="66.24" cy="638.08" r="1.25" fill="#3aa5dd" />
<path d="M69.17 636.53 L70.64 639.16 L67.69 639.16Z" fill="#3aa5dd" stroke="none" stroke-width="1" />
<rect x="65.50" y="634.54" width="2.20" height="2.20" fill="#3aa5dd" />
<circle cx="70.14" cy="636.13" r="1.25" fill="#3aa5dd" />
<path d="M69.73 635.19 L71.20 637.82 L68.26 637.82Z" fill="#3aa5dd" stroke="none" stroke-width="1" />
<line x1="80.75" y1="600.00" x2="80.75" y2="636.40" stroke="#f29a2e" stroke-width="0.95" />
<line x1="75.95" y1="618.50" x2="85.55" y2="618.50" stroke="#f29a2e" stroke-width="0.95" />
<line x1="76.55" y1="600.00" x2="84.95" y2="600.00" stroke="#f29a2e" stroke-width="0.95" />
<line x1="76.55" y1="636.40" x2="84.95" y2="636.40" stroke="#f29a2e" stroke-width="0.95" />
<circle cx="77.40" cy="597.50" r="1.25" fill="#f29a2e" />
<circle cx="84.80" cy="599.80" r="1.25" fill="#f29a2e" />
<circle cx="81.40" cy="603.60" r="1.25" fill="#f29a2e" />
<circle cx="80.30" cy="624.80" r="1.25" fill="#f29a2e" />
<circle cx="80.80" cy="630.30" r="1.25" fill="#f29a2e" />
<circle cx="78.00" cy="636.40" r="1.25" fill="#f29a2e" />
<circle cx="84.30" cy="636.40" r="1.25" fill="#f29a2e" />
<text transform="translate(67.70 647.20)" font-size="6.4" text-anchor="middle" fill="#333" font-weight="normal" font-style="normal"  stroke="#333" stroke-width="0.08" textLength="18.60" lengthAdjust="spacingAndGlyphs">spleen</text>
<line x1="130.10" y1="575.70" x2="130.10" y2="639.30" stroke="#111" stroke-width="1.25" />
<line x1="129.60" y1="639.30" x2="177.00" y2="639.30" stroke="#111" stroke-width="1.25" />
<line x1="127.50" y1="578.40" x2="130.10" y2="578.40" stroke="#2a2a2a" stroke-width="0.8" />
<text transform="translate(124.50 580.70)" font-size="6.4" text-anchor="end" fill="#333" font-weight="normal" font-style="normal"  stroke="#333" stroke-width="0.08">10</text>
<line x1="127.50" y1="590.60" x2="130.10" y2="590.60" stroke="#2a2a2a" stroke-width="0.8" />
<text transform="translate(124.50 592.90)" font-size="6.4" text-anchor="end" fill="#333" font-weight="normal" font-style="normal"  stroke="#333" stroke-width="0.08">8</text>
<line x1="127.50" y1="602.90" x2="130.10" y2="602.90" stroke="#2a2a2a" stroke-width="0.8" />
<text transform="translate(124.50 605.20)" font-size="6.4" text-anchor="end" fill="#333" font-weight="normal" font-style="normal"  stroke="#333" stroke-width="0.08">6</text>
<line x1="127.50" y1="615.10" x2="130.10" y2="615.10" stroke="#2a2a2a" stroke-width="0.8" />
<text transform="translate(124.50 617.40)" font-size="6.4" text-anchor="end" fill="#333" font-weight="normal" font-style="normal"  stroke="#333" stroke-width="0.08">4</text>
<line x1="127.50" y1="627.20" x2="130.10" y2="627.20" stroke="#2a2a2a" stroke-width="0.8" />
<text transform="translate(124.50 629.50)" font-size="6.4" text-anchor="end" fill="#333" font-weight="normal" font-style="normal"  stroke="#333" stroke-width="0.08">2</text>
<line x1="127.50" y1="639.30" x2="130.10" y2="639.30" stroke="#2a2a2a" stroke-width="0.8" />
<text transform="translate(124.50 641.60)" font-size="6.4" text-anchor="end" fill="#333" font-weight="normal" font-style="normal"  stroke="#333" stroke-width="0.08">0</text>
<text transform="translate(112.70 622.50) rotate(-90)" font-size="7.2" text-anchor="start" fill="#4a4a4a" font-weight="normal" font-style="normal"  stroke="#4a4a4a" stroke-width="0.08" textLength="30.00" lengthAdjust="spacingAndGlyphs">Weight (g)</text>
<line x1="140.00" y1="565.70" x2="167.60" y2="565.70" stroke="#3a3a3a" stroke-width="1.15" />
<text transform="translate(153.80 566.50)" font-size="7.2" text-anchor="middle" fill="#333" font-weight="normal" font-style="normal"  stroke="#333" stroke-width="0.08">**</text>
<line x1="134.60" y1="574.60" x2="152.40" y2="574.60" stroke="#3a3a3a" stroke-width="1.15" />
<text transform="translate(143.50 575.40)" font-size="7.2" text-anchor="middle" fill="#333" font-weight="normal" font-style="normal"  stroke="#333" stroke-width="0.08">***</text>
<circle cx="140.88" cy="622.52" r="1.2" fill="#36445e" />
<circle cx="141.74" cy="624.66" r="1.2" fill="#36445e" />
<circle cx="142.13" cy="625.88" r="1.2" fill="#36445e" />
<circle cx="143.19" cy="627.10" r="1.2" fill="#36445e" />
<circle cx="141.73" cy="627.71" r="1.2" fill="#36445e" />
<circle cx="143.04" cy="628.32" r="1.2" fill="#36445e" />
<circle cx="136.61" cy="628.62" r="1.2" fill="#36445e" />
<circle cx="139.75" cy="628.93" r="1.2" fill="#36445e" />
<circle cx="143.19" cy="629.23" r="1.2" fill="#36445e" />
<circle cx="141.07" cy="629.54" r="1.2" fill="#36445e" />
<circle cx="142.89" cy="629.54" r="1.2" fill="#36445e" />
<circle cx="137.22" cy="629.84" r="1.2" fill="#36445e" />
<circle cx="139.78" cy="630.15" r="1.2" fill="#36445e" />
<circle cx="138.18" cy="630.15" r="1.2" fill="#36445e" />
<circle cx="140.32" cy="630.45" r="1.2" fill="#36445e" />
<circle cx="140.53" cy="630.76" r="1.2" fill="#36445e" />
<circle cx="136.49" cy="631.06" r="1.2" fill="#36445e" />
<circle cx="137.96" cy="631.37" r="1.2" fill="#36445e" />
<circle cx="138.41" cy="631.67" r="1.2" fill="#36445e" />
<circle cx="143.00" cy="631.98" r="1.2" fill="#36445e" />
<circle cx="141.91" cy="632.28" r="1.2" fill="#36445e" />
<circle cx="137.55" cy="632.59" r="1.2" fill="#36445e" />
<circle cx="142.14" cy="628.93" r="1.2" fill="#36445e" />
<circle cx="137.40" cy="629.54" r="1.2" fill="#36445e" />
<circle cx="140.85" cy="630.15" r="1.2" fill="#36445e" />
<circle cx="137.31" cy="630.76" r="1.2" fill="#36445e" />
<line x1="136.00" y1="629.54" x2="144.00" y2="629.54" stroke="#36445e" stroke-width="0.7" />
<line x1="140.00" y1="627.10" x2="140.00" y2="631.98" stroke="#36445e" stroke-width="0.7" />
<rect x="151.96" y="585.74" width="2.20" height="2.20" fill="#3aa5dd" />
<circle cx="154.24" cy="597.82" r="1.25" fill="#3aa5dd" />
<path d="M152.90 607.25 L154.37 609.88 L151.43 609.88Z" fill="#3aa5dd" stroke="none" stroke-width="1" />
<rect x="153.96" y="611.97" width="2.20" height="2.20" fill="#3aa5dd" />
<circle cx="150.35" cy="614.29" r="1.25" fill="#3aa5dd" />
<path d="M151.58 613.96 L153.05 616.60 L150.11 616.60Z" fill="#3aa5dd" stroke="none" stroke-width="1" />
<rect x="156.19" y="615.63" width="2.20" height="2.20" fill="#3aa5dd" />
<circle cx="151.29" cy="617.95" r="1.25" fill="#3aa5dd" />
<path d="M154.58 617.62 L156.05 620.25 L153.11 620.25Z" fill="#3aa5dd" stroke="none" stroke-width="1" />
<rect x="152.09" y="619.29" width="2.20" height="2.20" fill="#3aa5dd" />
<circle cx="153.14" cy="621.00" r="1.25" fill="#3aa5dd" />
<path d="M153.46 620.06 L154.93 622.69 L151.99 622.69Z" fill="#3aa5dd" stroke="none" stroke-width="1" />
<rect x="150.06" y="621.12" width="2.20" height="2.20" fill="#3aa5dd" />
<circle cx="156.01" cy="622.83" r="1.25" fill="#3aa5dd" />
<path d="M150.38 621.89 L151.85 624.52 L148.91 624.52Z" fill="#3aa5dd" stroke="none" stroke-width="1" />
<rect x="150.38" y="622.95" width="2.20" height="2.20" fill="#3aa5dd" />
<circle cx="149.85" cy="624.05" r="1.25" fill="#3aa5dd" />
<path d="M151.73 623.11 L153.20 625.75 L150.25 625.75Z" fill="#3aa5dd" stroke="none" stroke-width="1" />
<rect x="151.70" y="623.56" width="2.20" height="2.20" fill="#3aa5dd" />
<circle cx="156.56" cy="625.27" r="1.25" fill="#3aa5dd" />
<path d="M152.58 623.72 L154.05 626.36 L151.11 626.36Z" fill="#3aa5dd" stroke="none" stroke-width="1" />
<rect x="149.46" y="624.78" width="2.20" height="2.20" fill="#3aa5dd" />
<circle cx="151.66" cy="625.88" r="1.25" fill="#3aa5dd" />
<path d="M157.24 624.94 L158.71 627.58 L155.76 627.58Z" fill="#3aa5dd" stroke="none" stroke-width="1" />
<rect x="149.08" y="625.39" width="2.20" height="2.20" fill="#3aa5dd" />
<circle cx="154.41" cy="627.10" r="1.25" fill="#3aa5dd" />
<path d="M152.57 625.55 L154.04 628.18 L151.09 628.18Z" fill="#3aa5dd" stroke="none" stroke-width="1" />
<rect x="153.62" y="626.61" width="2.20" height="2.20" fill="#3aa5dd" />
<circle cx="152.27" cy="627.71" r="1.25" fill="#3aa5dd" />
<path d="M154.95 626.77 L156.43 629.40 L153.48 629.40Z" fill="#3aa5dd" stroke="none" stroke-width="1" />
<rect x="152.38" y="627.22" width="2.20" height="2.20" fill="#3aa5dd" />
<circle cx="154.64" cy="628.93" r="1.25" fill="#3aa5dd" />
<path d="M156.55 627.38 L158.02 630.01 L155.08 630.01Z" fill="#3aa5dd" stroke="none" stroke-width="1" />
<rect x="153.02" y="628.44" width="2.20" height="2.20" fill="#3aa5dd" />
<circle cx="150.78" cy="630.15" r="1.25" fill="#3aa5dd" />
<path d="M150.19 629.21 L151.66 631.85 L148.72 631.85Z" fill="#3aa5dd" stroke="none" stroke-width="1" />
<rect x="155.79" y="630.27" width="2.20" height="2.20" fill="#3aa5dd" />
<circle cx="153.41" cy="631.98" r="1.25" fill="#3aa5dd" />
<path d="M151.17 631.04 L152.65 633.67 L149.70 633.67Z" fill="#3aa5dd" stroke="none" stroke-width="1" />
<rect x="155.79" y="632.10" width="2.20" height="2.20" fill="#3aa5dd" />
<circle cx="154.10" cy="633.81" r="1.25" fill="#3aa5dd" />
<path d="M155.24 621.89 L156.71 624.52 L153.77 624.52Z" fill="#3aa5dd" stroke="none" stroke-width="1" />
<rect x="155.30" y="623.56" width="2.20" height="2.20" fill="#3aa5dd" />
<circle cx="151.87" cy="625.88" r="1.25" fill="#3aa5dd" />
<path d="M152.41 625.55 L153.88 628.18 L150.94 628.18Z" fill="#3aa5dd" stroke="none" stroke-width="1" />
<line x1="149.00" y1="624.66" x2="158.00" y2="624.66" stroke="#3aa5dd" stroke-width="0.8" />
<line x1="153.50" y1="616.73" x2="153.50" y2="632.59" stroke="#3aa5dd" stroke-width="0.8" />
<line x1="167.60" y1="611.40" x2="167.60" y2="630.30" stroke="#f29a2e" stroke-width="0.95" />
<line x1="163.00" y1="620.70" x2="172.20" y2="620.70" stroke="#f29a2e" stroke-width="0.95" />
<line x1="164.20" y1="611.40" x2="171.00" y2="611.40" stroke="#f29a2e" stroke-width="0.95" />
<line x1="164.20" y1="630.30" x2="171.00" y2="630.30" stroke="#f29a2e" stroke-width="0.95" />
<circle cx="163.60" cy="609.20" r="1.25" fill="#f29a2e" />
<circle cx="167.60" cy="609.20" r="1.25" fill="#f29a2e" />
<circle cx="171.40" cy="609.20" r="1.25" fill="#f29a2e" />
<circle cx="164.40" cy="621.20" r="1.25" fill="#f29a2e" />
<circle cx="171.00" cy="621.00" r="1.25" fill="#f29a2e" />
<circle cx="167.40" cy="625.50" r="1.25" fill="#f29a2e" />
<circle cx="165.00" cy="630.60" r="1.25" fill="#f29a2e" />
<circle cx="170.00" cy="633.00" r="1.25" fill="#f29a2e" />
<text transform="translate(153.80 647.20)" font-size="6.4" text-anchor="middle" fill="#333" font-weight="normal" font-style="normal"  stroke="#333" stroke-width="0.08" textLength="10.60" lengthAdjust="spacingAndGlyphs">liver</text>
<circle cx="181.50" cy="578.30" r="1.6" fill="#36445e" />
<text transform="translate(186.40 580.40)" font-size="5.7" text-anchor="start" fill="#262626" font-weight="normal" font-style="normal"  stroke="#262626" stroke-width="0.08" textLength="8.60" lengthAdjust="spacingAndGlyphs">WT</text>
<circle cx="181.50" cy="587.50" r="1.6" fill="#3aa5dd" />
<text transform="translate(186.40 589.60)" font-size="5.7" text-anchor="start" fill="#262626" font-weight="normal" font-style="italic"  stroke="#262626" stroke-width="0.08" textLength="20.00" lengthAdjust="spacingAndGlyphs">9p21<tspan dy="-1.8" font-size="3.3">+/−</tspan><tspan dy="1.8">&#8203;</tspan></text>
<circle cx="181.50" cy="596.60" r="1.6" fill="#f29a2e" />
<text transform="translate(186.40 598.70)" font-size="5.7" text-anchor="start" fill="#262626" font-weight="normal" font-style="italic"  stroke="#262626" stroke-width="0.08" textLength="52.30" lengthAdjust="spacingAndGlyphs">Cx3Cr1<tspan dy="-1.9" font-size="3.3">CreER</tspan><tspan dy="1.9">&#8203;</tspan> 9p21<tspan dy="-1.9" font-size="3.3">fl/fl</tspan><tspan dy="1.9">&#8203;</tspan></text>
<text transform="translate(254.20 569.80) scale(1.1 1)" font-size="9.9" text-anchor="start" fill="#111" font-weight="bold" font-style="normal"  stroke="#111" stroke-width="0.3">K</text>
<line x1="297.50" y1="635.90" x2="346.00" y2="635.90" stroke="#c98a3a" stroke-width="0.9" stroke-dasharray="1.1 1.3"/>
<line x1="297.50" y1="575.20" x2="297.50" y2="639.30" stroke="#111" stroke-width="1.25" />
<line x1="297.00" y1="639.30" x2="346.00" y2="639.30" stroke="#111" stroke-width="1.25" />
<line x1="294.90" y1="577.90" x2="297.50" y2="577.90" stroke="#2a2a2a" stroke-width="0.8" />
<text transform="translate(292.40 580.20) scale(0.97 1)" font-size="6.5" text-anchor="end" fill="#333" font-weight="normal" font-style="normal"  stroke="#333" stroke-width="0.2">8×10<tspan dy="-2.2" font-size="3.6">7</tspan><tspan dy="2.2">&#8203;</tspan></text>
<line x1="294.90" y1="592.40" x2="297.50" y2="592.40" stroke="#2a2a2a" stroke-width="0.8" />
<text transform="translate(292.40 594.70) scale(0.97 1)" font-size="6.5" text-anchor="end" fill="#333" font-weight="normal" font-style="normal"  stroke="#333" stroke-width="0.2">6×10<tspan dy="-2.2" font-size="3.6">7</tspan><tspan dy="2.2">&#8203;</tspan></text>
<line x1="294.90" y1="606.90" x2="297.50" y2="606.90" stroke="#2a2a2a" stroke-width="0.8" />
<text transform="translate(292.40 609.20) scale(0.97 1)" font-size="6.5" text-anchor="end" fill="#333" font-weight="normal" font-style="normal"  stroke="#333" stroke-width="0.2">4×10<tspan dy="-2.2" font-size="3.6">7</tspan><tspan dy="2.2">&#8203;</tspan></text>
<line x1="294.90" y1="621.40" x2="297.50" y2="621.40" stroke="#2a2a2a" stroke-width="0.8" />
<text transform="translate(292.40 623.70) scale(0.97 1)" font-size="6.5" text-anchor="end" fill="#333" font-weight="normal" font-style="normal"  stroke="#333" stroke-width="0.2">2×10<tspan dy="-2.2" font-size="3.6">7</tspan><tspan dy="2.2">&#8203;</tspan></text>
<line x1="294.90" y1="635.90" x2="297.50" y2="635.90" stroke="#2a2a2a" stroke-width="0.8" />
<text transform="translate(292.40 638.20) scale(0.97 1)" font-size="6.5" text-anchor="end" fill="#333" font-weight="normal" font-style="normal"  stroke="#333" stroke-width="0.2">0</text>
<text transform="translate(269.60 614.80) rotate(-90)" font-size="7.4" text-anchor="start" fill="#4a4a4a" font-weight="normal" font-style="normal"  stroke="#4a4a4a" stroke-width="0.08" textLength="14.70" lengthAdjust="spacingAndGlyphs">Cells</text>
<line x1="307.50" y1="576.80" x2="333.60" y2="576.80" stroke="#3a3a3a" stroke-width="1.15" />
<text transform="translate(320.55 577.60)" font-size="7.2" text-anchor="middle" fill="#333" font-weight="normal" font-style="normal"  stroke="#333" stroke-width="0.08">***</text>
<line x1="307.50" y1="586.20" x2="322.50" y2="586.20" stroke="#3a3a3a" stroke-width="1.15" />
<text transform="translate(315.00 587.00)" font-size="7.2" text-anchor="middle" fill="#333" font-weight="normal" font-style="normal"  stroke="#333" stroke-width="0.08">****</text>
<line x1="308.00" y1="608.00" x2="308.00" y2="630.30" stroke="#36445e" stroke-width="0.95" />
<line x1="302.80" y1="619.20" x2="313.20" y2="619.20" stroke="#36445e" stroke-width="0.95" />
<line x1="304.60" y1="608.00" x2="311.40" y2="608.00" stroke="#36445e" stroke-width="0.95" />
<line x1="304.60" y1="630.30" x2="311.40" y2="630.30" stroke="#36445e" stroke-width="0.95" />
<circle cx="307.71" cy="593.12" r="1.2" fill="#36445e" />
<circle cx="308.36" cy="594.57" r="1.2" fill="#36445e" />
<circle cx="310.55" cy="602.55" r="1.2" fill="#36445e" />
<circle cx="307.79" cy="604.73" r="1.2" fill="#36445e" />
<circle cx="308.05" cy="614.15" r="1.2" fill="#36445e" />
<circle cx="308.52" cy="615.60" r="1.2" fill="#36445e" />
<circle cx="306.11" cy="617.05" r="1.2" fill="#36445e" />
<circle cx="308.07" cy="618.50" r="1.2" fill="#36445e" />
<circle cx="308.78" cy="619.23" r="1.2" fill="#36445e" />
<circle cx="309.76" cy="620.67" r="1.2" fill="#36445e" />
<circle cx="305.56" cy="621.40" r="1.2" fill="#36445e" />
<circle cx="306.82" cy="622.12" r="1.2" fill="#36445e" />
<circle cx="305.54" cy="622.85" r="1.2" fill="#36445e" />
<circle cx="309.86" cy="623.57" r="1.2" fill="#36445e" />
<circle cx="309.16" cy="624.30" r="1.2" fill="#36445e" />
<circle cx="305.25" cy="625.02" r="1.2" fill="#36445e" />
<circle cx="310.89" cy="625.75" r="1.2" fill="#36445e" />
<circle cx="310.79" cy="626.48" r="1.2" fill="#36445e" />
<circle cx="308.92" cy="627.20" r="1.2" fill="#36445e" />
<circle cx="308.69" cy="627.92" r="1.2" fill="#36445e" />
<circle cx="305.94" cy="628.65" r="1.2" fill="#36445e" />
<circle cx="305.09" cy="629.38" r="1.2" fill="#36445e" />
<circle cx="308.17" cy="630.10" r="1.2" fill="#36445e" />
<circle cx="305.36" cy="630.82" r="1.2" fill="#36445e" />
<circle cx="306.14" cy="625.02" r="1.2" fill="#36445e" />
<circle cx="306.45" cy="622.12" r="1.2" fill="#36445e" />
<rect x="320.17" y="620.32" width="2.16" height="2.16" fill="#3aa5dd" />
<rect x="321.26" y="621.77" width="2.16" height="2.16" fill="#3aa5dd" />
<rect x="321.32" y="624.67" width="2.16" height="2.16" fill="#3aa5dd" />
<rect x="318.18" y="626.12" width="2.16" height="2.16" fill="#3aa5dd" />
<rect x="317.39" y="627.57" width="2.16" height="2.16" fill="#3aa5dd" />
<rect x="319.57" y="628.29" width="2.16" height="2.16" fill="#3aa5dd" />
<rect x="318.96" y="629.02" width="2.16" height="2.16" fill="#3aa5dd" />
<rect x="322.18" y="629.74" width="2.16" height="2.16" fill="#3aa5dd" />
<rect x="321.46" y="630.47" width="2.16" height="2.16" fill="#3aa5dd" />
<rect x="320.93" y="631.19" width="2.16" height="2.16" fill="#3aa5dd" />
<rect x="320.67" y="631.56" width="2.16" height="2.16" fill="#3aa5dd" />
<rect x="321.29" y="631.92" width="2.16" height="2.16" fill="#3aa5dd" />
<rect x="318.19" y="632.28" width="2.16" height="2.16" fill="#3aa5dd" />
<rect x="319.96" y="632.64" width="2.16" height="2.16" fill="#3aa5dd" />
<rect x="318.29" y="633.01" width="2.16" height="2.16" fill="#3aa5dd" />
<rect x="322.76" y="633.37" width="2.16" height="2.16" fill="#3aa5dd" />
<rect x="317.67" y="633.73" width="2.16" height="2.16" fill="#3aa5dd" />
<rect x="322.23" y="634.09" width="2.16" height="2.16" fill="#3aa5dd" />
<rect x="317.77" y="634.09" width="2.16" height="2.16" fill="#3aa5dd" />
<rect x="321.44" y="634.46" width="2.16" height="2.16" fill="#3aa5dd" />
<rect x="319.34" y="632.64" width="2.16" height="2.16" fill="#3aa5dd" />
<rect x="319.75" y="631.19" width="2.16" height="2.16" fill="#3aa5dd" />
<line x1="321.40" y1="626.60" x2="321.40" y2="635.20" stroke="#3aa5dd" stroke-width="0.95" />
<line x1="316.60" y1="631.00" x2="326.20" y2="631.00" stroke="#3aa5dd" stroke-width="0.95" />
<line x1="318.20" y1="626.60" x2="324.60" y2="626.60" stroke="#3aa5dd" stroke-width="0.95" />
<line x1="318.20" y1="635.20" x2="324.60" y2="635.20" stroke="#3aa5dd" stroke-width="0.95" />
<path d="M333.45 625.76 L334.82 628.21 L332.08 628.21Z" fill="#f29a2e" stroke="none" stroke-width="1" />
<path d="M335.84 627.21 L337.21 629.66 L334.47 629.66Z" fill="#f29a2e" stroke="none" stroke-width="1" />
<path d="M335.83 628.66 L337.20 631.11 L334.46 631.11Z" fill="#f29a2e" stroke="none" stroke-width="1" />
<path d="M336.76 630.11 L338.12 632.56 L335.39 632.56Z" fill="#f29a2e" stroke="none" stroke-width="1" />
<path d="M333.04 630.83 L334.41 633.28 L331.67 633.28Z" fill="#f29a2e" stroke="none" stroke-width="1" />
<path d="M333.29 631.56 L334.66 634.01 L331.92 634.01Z" fill="#f29a2e" stroke="none" stroke-width="1" />
<path d="M332.82 632.28 L334.19 634.73 L331.46 634.73Z" fill="#f29a2e" stroke="none" stroke-width="1" />
<path d="M333.26 633.01 L334.63 635.46 L331.89 635.46Z" fill="#f29a2e" stroke="none" stroke-width="1" />
<path d="M336.11 633.37 L337.48 635.82 L334.74 635.82Z" fill="#f29a2e" stroke="none" stroke-width="1" />
<path d="M332.73 633.73 L334.10 636.18 L331.36 636.18Z" fill="#f29a2e" stroke="none" stroke-width="1" />
<line x1="334.80" y1="629.40" x2="334.80" y2="635.40" stroke="#f29a2e" stroke-width="0.95" />
<line x1="330.00" y1="632.60" x2="339.60" y2="632.60" stroke="#f29a2e" stroke-width="0.95" />
<line x1="331.60" y1="629.40" x2="338.00" y2="629.40" stroke="#f29a2e" stroke-width="0.95" />
<line x1="331.60" y1="635.40" x2="338.00" y2="635.40" stroke="#f29a2e" stroke-width="0.95" />
<text transform="translate(321.40 647.20)" font-size="6.4" text-anchor="middle" fill="#333" font-weight="normal" font-style="normal"  stroke="#333" stroke-width="0.08" textLength="8.80" lengthAdjust="spacingAndGlyphs">BM</text>
<line x1="395.00" y1="630.30" x2="441.40" y2="630.30" stroke="#2a3350" stroke-width="0.9" stroke-dasharray="1.1 1.3"/>
<line x1="395.00" y1="578.40" x2="395.00" y2="639.30" stroke="#111" stroke-width="1.25" />
<line x1="394.50" y1="639.30" x2="441.40" y2="639.30" stroke="#111" stroke-width="1.25" />
<line x1="392.40" y1="586.80" x2="395.00" y2="586.80" stroke="#2a2a2a" stroke-width="0.8" />
<text transform="translate(389.00 589.10) scale(0.97 1)" font-size="6.5" text-anchor="end" fill="#333" font-weight="normal" font-style="normal"  stroke="#333" stroke-width="0.2">1×10<tspan dy="-2.2" font-size="3.6">8</tspan><tspan dy="2.2">&#8203;</tspan></text>
<line x1="392.40" y1="608.70" x2="395.00" y2="608.70" stroke="#2a2a2a" stroke-width="0.8" />
<text transform="translate(389.00 611.00) scale(0.97 1)" font-size="6.5" text-anchor="end" fill="#333" font-weight="normal" font-style="normal"  stroke="#333" stroke-width="0.2">5×10<tspan dy="-2.2" font-size="3.6">7</tspan><tspan dy="2.2">&#8203;</tspan></text>
<line x1="392.40" y1="630.30" x2="395.00" y2="630.30" stroke="#2a2a2a" stroke-width="0.8" />
<text transform="translate(389.00 632.60) scale(0.97 1)" font-size="6.5" text-anchor="end" fill="#333" font-weight="normal" font-style="normal"  stroke="#333" stroke-width="0.2">0</text>
<text transform="translate(367.30 615.80) rotate(-90)" font-size="7.4" text-anchor="start" fill="#4a4a4a" font-weight="normal" font-style="normal"  stroke="#4a4a4a" stroke-width="0.08" textLength="14.50" lengthAdjust="spacingAndGlyphs">Cells</text>
<line x1="404.00" y1="568.30" x2="429.00" y2="568.30" stroke="#3a3a3a" stroke-width="1.15" />
<text transform="translate(416.50 569.60)" font-size="7.2" text-anchor="middle" fill="#333" font-weight="normal" font-style="normal"  stroke="#333" stroke-width="0.08">*</text>
<line x1="404.00" y1="579.70" x2="419.80" y2="579.70" stroke="#3a3a3a" stroke-width="1.15" />
<text transform="translate(411.90 581.00)" font-size="7.2" text-anchor="middle" fill="#333" font-weight="normal" font-style="normal"  stroke="#333" stroke-width="0.08">*</text>
<circle cx="402.46" cy="626.81" r="1.2" fill="#36445e" />
<circle cx="405.81" cy="627.25" r="1.2" fill="#36445e" />
<circle cx="405.46" cy="627.68" r="1.2" fill="#36445e" />
<circle cx="404.47" cy="627.90" r="1.2" fill="#36445e" />
<circle cx="402.78" cy="628.12" r="1.2" fill="#36445e" />
<circle cx="406.47" cy="628.34" r="1.2" fill="#36445e" />
<circle cx="406.57" cy="628.56" r="1.2" fill="#36445e" />
<circle cx="404.68" cy="628.56" r="1.2" fill="#36445e" />
<circle cx="404.63" cy="628.77" r="1.2" fill="#36445e" />
<circle cx="402.91" cy="628.99" r="1.2" fill="#36445e" />
<circle cx="401.42" cy="628.99" r="1.2" fill="#36445e" />
<circle cx="403.77" cy="629.21" r="1.2" fill="#36445e" />
<circle cx="405.15" cy="629.43" r="1.2" fill="#36445e" />
<circle cx="401.84" cy="628.12" r="1.2" fill="#36445e" />
<circle cx="406.48" cy="627.68" r="1.2" fill="#36445e" />
<line x1="401.00" y1="628.34" x2="408.50" y2="628.34" stroke="#36445e" stroke-width="0.7" />
<line x1="418.00" y1="614.70" x2="418.00" y2="634.00" stroke="#3aa5dd" stroke-width="0.95" />
<line x1="413.00" y1="624.80" x2="423.00" y2="624.80" stroke="#3aa5dd" stroke-width="0.95" />
<line x1="414.70" y1="614.70" x2="421.30" y2="614.70" stroke="#3aa5dd" stroke-width="0.95" />
<line x1="414.70" y1="634.00" x2="421.30" y2="634.00" stroke="#3aa5dd" stroke-width="0.95" />
<rect x="417.47" y="585.32" width="2.16" height="2.16" fill="#3aa5dd" />
<rect x="416.49" y="603.12" width="2.16" height="2.16" fill="#3aa5dd" />
<rect x="419.47" y="614.40" width="2.16" height="2.16" fill="#3aa5dd" />
<rect x="419.61" y="617.01" width="2.16" height="2.16" fill="#3aa5dd" />
<rect x="419.27" y="619.63" width="2.16" height="2.16" fill="#3aa5dd" />
<rect x="414.42" y="621.37" width="2.16" height="2.16" fill="#3aa5dd" />
<rect x="417.47" y="622.68" width="2.16" height="2.16" fill="#3aa5dd" />
<rect x="416.46" y="623.99" width="2.16" height="2.16" fill="#3aa5dd" />
<rect x="417.10" y="624.86" width="2.16" height="2.16" fill="#3aa5dd" />
<rect x="414.70" y="625.30" width="2.16" height="2.16" fill="#3aa5dd" />
<rect x="415.07" y="625.73" width="2.16" height="2.16" fill="#3aa5dd" />
<rect x="416.59" y="626.17" width="2.16" height="2.16" fill="#3aa5dd" />
<rect x="415.25" y="626.60" width="2.16" height="2.16" fill="#3aa5dd" />
<rect x="416.65" y="627.04" width="2.16" height="2.16" fill="#3aa5dd" />
<rect x="414.07" y="627.26" width="2.16" height="2.16" fill="#3aa5dd" />
<rect x="414.43" y="627.48" width="2.16" height="2.16" fill="#3aa5dd" />
<rect x="418.18" y="627.69" width="2.16" height="2.16" fill="#3aa5dd" />
<rect x="416.45" y="627.91" width="2.16" height="2.16" fill="#3aa5dd" />
<rect x="417.00" y="628.13" width="2.16" height="2.16" fill="#3aa5dd" />
<rect x="418.33" y="628.35" width="2.16" height="2.16" fill="#3aa5dd" />
<rect x="416.07" y="628.78" width="2.16" height="2.16" fill="#3aa5dd" />
<rect x="414.27" y="629.22" width="2.16" height="2.16" fill="#3aa5dd" />
<rect x="418.62" y="630.09" width="2.16" height="2.16" fill="#3aa5dd" />
<line x1="431.80" y1="600.20" x2="431.80" y2="630.30" stroke="#f29a2e" stroke-width="0.95" />
<line x1="426.80" y1="615.40" x2="436.80" y2="615.40" stroke="#f29a2e" stroke-width="0.95" />
<line x1="428.60" y1="600.20" x2="435.00" y2="600.20" stroke="#f29a2e" stroke-width="0.95" />
<line x1="428.60" y1="630.30" x2="435.00" y2="630.30" stroke="#f29a2e" stroke-width="0.95" />
<circle cx="431.40" cy="592.90" r="1.25" fill="#f29a2e" />
<circle cx="431.80" cy="607.00" r="1.25" fill="#f29a2e" />
<circle cx="428.00" cy="622.00" r="1.25" fill="#f29a2e" />
<circle cx="434.70" cy="623.60" r="1.25" fill="#f29a2e" />
<circle cx="431.40" cy="630.30" r="1.25" fill="#f29a2e" />
<text transform="translate(417.80 647.20)" font-size="6.4" text-anchor="middle" fill="#333" font-weight="normal" font-style="normal"  stroke="#333" stroke-width="0.08" textLength="18.40" lengthAdjust="spacingAndGlyphs">spleen</text>
<circle cx="445.40" cy="581.30" r="1.6" fill="#36445e" />
<text transform="translate(450.30 583.40)" font-size="5.7" text-anchor="start" fill="#262626" font-weight="normal" font-style="normal"  stroke="#262626" stroke-width="0.08" textLength="8.20" lengthAdjust="spacingAndGlyphs">WT</text>
<circle cx="445.40" cy="590.60" r="1.6" fill="#3aa5dd" />
<text transform="translate(450.30 592.70)" font-size="5.7" text-anchor="start" fill="#262626" font-weight="normal" font-style="italic"  stroke="#262626" stroke-width="0.08" textLength="19.70" lengthAdjust="spacingAndGlyphs">9p21<tspan dy="-1.8" font-size="3.3">+/−</tspan><tspan dy="1.8">&#8203;</tspan></text>
<circle cx="445.40" cy="600.00" r="1.6" fill="#f29a2e" />
<text transform="translate(450.30 602.10)" font-size="5.7" text-anchor="start" fill="#262626" font-weight="normal" font-style="italic"  stroke="#262626" stroke-width="0.08" textLength="53.20" lengthAdjust="spacingAndGlyphs">Cx3Cr1<tspan dy="-1.9" font-size="3.3">CreER</tspan><tspan dy="1.9">&#8203;</tspan> 9p21<tspan dy="-1.9" font-size="3.3">fl/fl</tspan><tspan dy="1.9">&#8203;</tspan></text>
<rect x="0.5" y="0.5" width="519" height="655" fill="none" stroke="#5c5c5c" stroke-width="1"/>
</svg>
</body></html>
